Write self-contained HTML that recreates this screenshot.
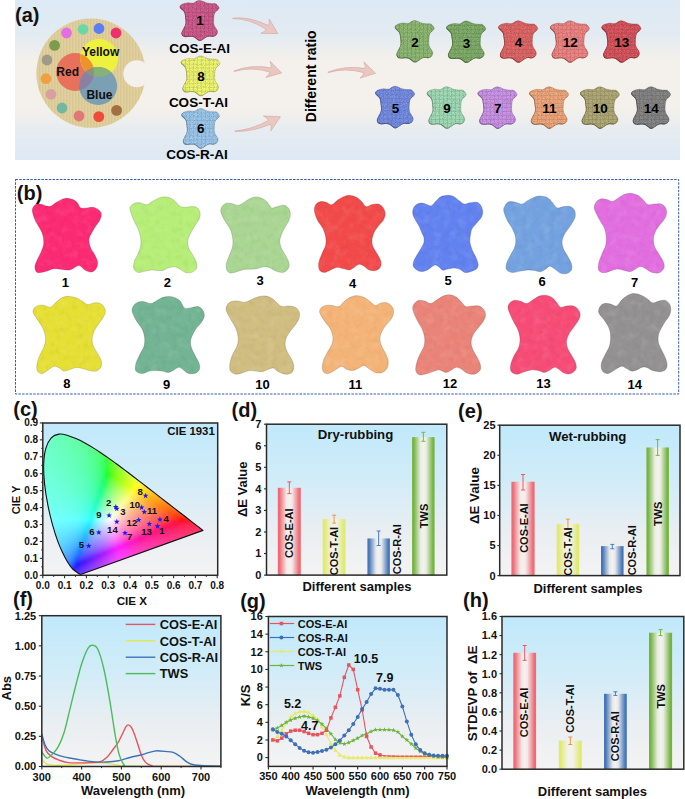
<!DOCTYPE html><html><head><meta charset="utf-8"><title>figure</title><style>html,body{margin:0;padding:0;background:#fff;width:685px;height:799px;overflow:hidden;font-family:"Liberation Sans",sans-serif}</style></head><body><svg width="685" height="799" viewBox="0 0 685 799" style="position:absolute;left:0;top:0;font-family:'Liberation Sans', sans-serif"><defs><linearGradient id="bgA" x1="0" y1="0" x2="0" y2="1">
<stop offset="0" stop-color="#dde9f4"/><stop offset="0.22" stop-color="#e3ebf2"/><stop offset="0.38" stop-color="#f4f0eb"/>
<stop offset="0.68" stop-color="#f4f0eb"/><stop offset="0.82" stop-color="#e6ecf1"/><stop offset="1" stop-color="#dde9f4"/></linearGradient><mask id="palMask"><rect x="0" y="0" width="200" height="200" fill="#fff"/><circle cx="136.8" cy="73.8" r="13.5" fill="#000"/></mask>
<pattern id="linen" width="3" height="2" patternUnits="userSpaceOnUse"><rect width="3" height="2" fill="#ddcc98"/><rect width="1" height="2" fill="#d0bd86" opacity="0.45"/><rect x="2" width="1" height="2" fill="#e6d8aa" opacity="0.4"/><rect width="3" height="0.8" fill="#e2d3a2" opacity="0.4"/></pattern><clipPath id="cR"><circle cx="75.1" cy="72" r="18.9"/></clipPath><clipPath id="cY"><circle cx="99.1" cy="58" r="19"/></clipPath><path id="icon" d="M19.80 0.00C20.90 0.08 22.40 0.78 23.50 1.20C24.60 1.62 25.07 2.15 26.40 2.50C27.73 2.85 29.92 3.12 31.50 3.30C33.08 3.48 34.68 3.00 35.90 3.60C37.12 4.20 38.38 5.98 38.80 6.90C39.22 7.82 39.07 8.13 38.40 9.10C37.73 10.07 35.58 11.12 34.80 12.70C34.02 14.28 33.83 16.52 33.70 18.60C33.57 20.68 33.40 23.13 34.00 25.20C34.60 27.27 36.80 29.43 37.30 31.00C37.80 32.57 37.60 33.63 37.00 34.60C36.40 35.57 34.87 36.48 33.70 36.80C32.53 37.12 31.22 36.37 30.00 36.50C28.78 36.63 28.03 36.82 26.40 37.60C24.77 38.38 22.15 41.20 20.20 41.20C18.25 41.20 16.23 38.33 14.70 37.60C13.17 36.87 12.45 36.87 11.00 36.80C9.55 36.73 7.33 37.32 6.00 37.20C4.67 37.08 3.68 36.77 3.00 36.10C2.32 35.43 1.83 34.30 1.90 33.20C1.97 32.10 2.72 31.08 3.40 29.50C4.08 27.92 5.63 25.88 6.00 23.70C6.37 21.52 5.85 18.47 5.60 16.40C5.35 14.33 5.30 12.77 4.50 11.30C3.70 9.83 1.47 8.58 0.80 7.60C0.13 6.62 0.13 6.07 0.50 5.40C0.87 4.73 1.73 4.08 3.00 3.60C4.27 3.12 6.40 2.62 8.10 2.50C9.80 2.38 11.73 3.20 13.20 2.90C14.67 2.60 15.80 1.18 16.90 0.70C18.00 0.22 18.70 -0.08 19.80 0.00Z"/><pattern id="stitch" width="4" height="4" patternUnits="userSpaceOnUse"><rect width="0.8" height="4" fill="#000" opacity="0.09"/><rect width="4" height="0.8" fill="#000" opacity="0.09"/></pattern>
<filter id="tex" x="0" y="0" width="1" height="1"><feTurbulence type="fractalNoise" baseFrequency="1.1" numOctaves="2" seed="7" result="t"/><feColorMatrix in="t" type="matrix" values="0 0 0 0 0  0 0 0 0 0  0 0 0 0 0  1.5 0 0 0 -0.55" result="m"/><feComposite in="m" in2="SourceAlpha" operator="in"/></filter>
<filter id="texL" x="0" y="0" width="1" height="1"><feTurbulence type="fractalNoise" baseFrequency="0.9" numOctaves="2" seed="3" result="t"/><feColorMatrix in="t" type="matrix" values="0 0 0 0 1  0 0 0 0 1  0 0 0 0 1  1.4 0 0 0 -0.62" result="m"/><feComposite in="m" in2="SourceAlpha" operator="in"/></filter><path id="hide" d="M0.00 17.49C-0.20 15.60 0.34 13.30 1.11 11.79C1.88 10.28 3.26 9.12 4.63 8.41C6.00 7.70 7.77 7.44 9.35 7.54C10.92 7.64 12.50 8.55 14.08 8.99C15.66 9.43 17.25 10.71 18.81 10.15C20.37 9.59 21.87 7.05 23.43 5.60C24.99 4.15 26.20 2.38 28.16 1.45C30.12 0.52 33.05 0.06 35.20 0.00C37.35 -0.06 39.27 0.32 41.03 1.06C42.79 1.80 43.98 3.23 45.76 4.45C47.54 5.67 49.73 7.94 51.69 8.41C53.65 8.88 55.38 7.53 57.53 7.25C59.68 6.97 62.71 6.28 64.57 6.76C66.43 7.24 67.72 8.65 68.69 10.15C69.66 11.65 70.30 13.96 70.40 15.75C70.50 17.54 70.26 19.08 69.29 20.87C68.32 22.66 66.14 24.61 64.57 26.48C62.99 28.35 60.91 30.18 59.84 32.08C58.77 33.98 58.52 35.75 58.13 37.88C57.75 40.01 57.25 42.36 57.53 44.84C57.81 47.32 58.87 50.31 59.84 52.76C60.81 55.21 62.37 57.27 63.36 59.53C64.35 61.79 65.57 64.42 65.77 66.29C65.97 68.16 65.74 69.52 64.57 70.74C63.40 71.96 60.69 72.98 58.73 73.64C56.77 74.30 54.56 74.99 52.80 74.70C51.04 74.41 49.93 72.64 48.17 71.90C46.41 71.16 44.40 70.35 42.24 70.25C40.08 70.15 37.16 70.95 35.20 71.32C33.24 71.69 31.84 72.75 30.47 72.48C29.09 72.21 28.31 70.52 26.95 69.67C25.59 68.82 24.27 66.99 22.33 67.36C20.39 67.73 17.45 70.85 15.29 71.90C13.13 72.95 11.13 73.54 9.35 73.64C7.57 73.74 6.09 73.33 4.63 72.48C3.17 71.63 1.19 70.03 0.60 68.52C0.01 67.00 0.44 65.28 1.11 63.39C1.78 61.51 3.46 59.17 4.63 57.21C5.80 55.25 7.06 53.48 8.15 51.60C9.24 49.72 10.66 47.78 11.16 45.90C11.66 44.02 11.46 41.84 11.16 40.30C10.86 38.75 10.14 38.37 9.35 36.63C8.56 34.89 7.61 32.12 6.44 29.86C5.27 27.61 3.38 25.16 2.31 23.10C1.24 21.04 0.20 19.38 0.00 17.49Z"/><filter id="suedeL" x="0" y="0" width="1" height="1"><feTurbulence type="fractalNoise" baseFrequency="0.12" numOctaves="3" seed="11"/><feColorMatrix type="matrix" values="0 0 0 0 1  0 0 0 0 1  0 0 0 0 1  2.2 0 0 0 -1.0"/><feComposite in2="SourceAlpha" operator="in"/></filter><filter id="suedeD" x="0" y="0" width="1" height="1"><feTurbulence type="fractalNoise" baseFrequency="0.18" numOctaves="2" seed="23"/><feColorMatrix type="matrix" values="0 0 0 0 0  0 0 0 0 0  0 0 0 0 0  2.2 0 0 0 -1.0"/><feComposite in2="SourceAlpha" operator="in"/></filter><path id="hide1" d="M32.40 211.70C32.00 209.43 32.47 208.63 33.10 207.40C33.73 206.17 34.87 204.82 36.20 204.30C37.53 203.78 39.35 204.00 41.10 204.30C42.85 204.60 45.03 205.80 46.70 206.10C48.37 206.40 49.33 206.82 51.10 206.10C52.87 205.38 55.03 203.08 57.30 201.80C59.57 200.52 62.23 198.82 64.70 198.40C67.17 197.98 70.03 198.63 72.10 199.30C74.17 199.97 75.65 200.97 77.10 202.40C78.55 203.83 79.15 206.97 80.80 207.90C82.45 208.83 84.82 208.08 87.00 208.00C89.18 207.92 91.83 206.98 93.90 207.40C95.97 207.82 98.17 209.27 99.40 210.50C100.63 211.73 101.30 213.05 101.30 214.80C101.30 216.55 100.33 219.13 99.40 221.00C98.47 222.87 96.93 224.13 95.70 226.00C94.47 227.87 93.13 229.93 92.00 232.20C90.87 234.47 89.10 236.92 88.90 239.60C88.70 242.28 89.87 245.82 90.80 248.30C91.73 250.78 93.37 252.23 94.50 254.50C95.63 256.77 97.30 259.62 97.60 261.90C97.90 264.18 97.23 266.53 96.30 268.20C95.37 269.87 93.75 271.50 92.00 271.90C90.25 272.30 87.87 271.63 85.80 270.60C83.73 269.57 81.47 266.22 79.60 265.70C77.73 265.18 76.25 266.78 74.60 267.50C72.95 268.22 71.77 269.68 69.70 270.00C67.63 270.32 64.90 269.60 62.20 269.40C59.50 269.20 56.18 268.48 53.50 268.80C50.82 269.12 48.78 270.68 46.10 271.30C43.42 271.92 39.27 273.23 37.40 272.50C35.53 271.77 34.90 269.07 34.90 266.90C34.90 264.73 36.37 261.98 37.40 259.50C38.43 257.02 40.07 254.48 41.10 252.00C42.13 249.52 43.28 247.28 43.60 244.60C43.92 241.92 43.62 238.58 43.00 235.90C42.38 233.22 41.15 230.98 39.90 228.50C38.65 226.02 36.75 223.80 35.50 221.00C34.25 218.20 32.80 213.97 32.40 211.70Z"/><path id="hide2" d="M130.10 209.70C129.68 207.22 130.38 206.53 131.30 205.40C132.22 204.27 134.05 203.32 135.60 202.90C137.15 202.48 138.73 202.60 140.60 202.90C142.47 203.20 144.73 205.02 146.80 204.70C148.87 204.38 150.93 202.13 153.00 201.00C155.07 199.87 157.33 198.58 159.20 197.90C161.07 197.22 162.33 196.90 164.20 196.90C166.07 196.90 168.55 197.12 170.40 197.90C172.25 198.68 173.65 200.15 175.30 201.60C176.95 203.05 178.43 205.67 180.30 206.60C182.17 207.53 184.22 207.20 186.50 207.20C188.78 207.20 192.03 206.28 194.00 206.60C195.97 206.92 197.27 207.85 198.30 209.10C199.33 210.35 200.10 212.35 200.20 214.10C200.30 215.85 199.73 217.75 198.90 219.60C198.07 221.45 196.53 223.02 195.20 225.20C193.87 227.38 192.13 230.22 190.90 232.70C189.67 235.18 188.22 237.62 187.80 240.10C187.38 242.58 187.58 245.12 188.40 247.60C189.22 250.08 191.37 252.53 192.70 255.00C194.03 257.47 195.78 260.13 196.40 262.40C197.02 264.67 197.22 266.93 196.40 268.60C195.58 270.27 193.35 271.77 191.50 272.40C189.65 273.03 187.37 273.03 185.30 272.40C183.23 271.77 180.97 269.53 179.10 268.60C177.23 267.67 175.97 266.90 174.10 266.80C172.23 266.70 169.77 267.38 167.90 268.00C166.03 268.62 164.55 270.08 162.90 270.50C161.25 270.92 159.85 270.60 158.00 270.50C156.15 270.40 153.87 269.80 151.80 269.90C149.73 270.00 147.88 270.68 145.60 271.10C143.32 271.52 140.07 272.82 138.10 272.40C136.13 271.98 134.42 270.47 133.80 268.60C133.18 266.73 133.78 263.47 134.40 261.20C135.02 258.93 136.47 257.48 137.50 255.00C138.53 252.52 140.08 249.20 140.60 246.30C141.12 243.40 141.02 240.50 140.60 237.60C140.18 234.70 139.23 231.78 138.10 228.90C136.97 226.02 135.13 223.50 133.80 220.30C132.47 217.10 130.52 212.18 130.10 209.70Z"/><path id="hide3" d="M220.80 211.60C220.40 209.32 221.27 207.95 222.10 206.60C222.93 205.25 224.25 204.02 225.80 203.50C227.35 202.98 229.43 203.18 231.40 203.50C233.37 203.82 235.75 205.40 237.60 205.40C239.45 205.40 240.65 204.53 242.50 203.50C244.35 202.47 246.52 200.30 248.70 199.20C250.88 198.10 253.32 197.02 255.60 196.90C257.88 196.78 260.45 197.60 262.40 198.50C264.35 199.40 265.75 200.73 267.30 202.30C268.85 203.87 270.03 207.18 271.70 207.90C273.37 208.62 275.13 207.02 277.30 206.60C279.47 206.18 282.73 204.98 284.70 205.40C286.67 205.82 288.17 207.45 289.10 209.10C290.03 210.75 290.42 213.23 290.30 215.30C290.18 217.37 289.33 219.43 288.40 221.50C287.47 223.57 285.83 225.63 284.70 227.70C283.57 229.77 282.42 231.63 281.60 233.90C280.78 236.17 279.80 238.82 279.80 241.30C279.80 243.78 280.57 246.32 281.60 248.80C282.63 251.28 284.75 253.72 286.00 256.20C287.25 258.68 288.80 261.52 289.10 263.70C289.40 265.88 288.83 267.85 287.80 269.30C286.77 270.75 284.87 272.10 282.90 272.40C280.93 272.70 278.28 271.93 276.00 271.10C273.72 270.27 271.27 268.12 269.20 267.40C267.13 266.68 265.57 266.60 263.60 266.80C261.63 267.00 259.47 268.18 257.40 268.60C255.33 269.02 253.27 269.18 251.20 269.30C249.13 269.42 247.07 269.00 245.00 269.30C242.93 269.60 241.07 270.48 238.80 271.10C236.53 271.72 233.37 273.10 231.40 273.00C229.43 272.90 227.83 272.05 227.00 270.50C226.17 268.95 225.98 266.28 226.40 263.70C226.82 261.12 228.47 257.90 229.50 255.00C230.53 252.10 232.08 249.20 232.60 246.30C233.12 243.40 233.02 240.50 232.60 237.60C232.18 234.70 231.45 231.78 230.10 228.90C228.75 226.02 226.05 223.18 224.50 220.30C222.95 217.42 221.20 213.88 220.80 211.60Z"/><path id="hide4" d="M314.40 211.00C314.10 208.40 314.67 206.27 315.70 204.70C316.73 203.13 318.85 202.00 320.60 201.60C322.35 201.20 324.33 201.78 326.20 202.30C328.07 202.82 329.83 205.12 331.80 204.70C333.77 204.28 335.93 201.18 338.00 199.80C340.07 198.42 342.13 197.13 344.20 196.40C346.27 195.67 348.33 195.25 350.40 195.40C352.47 195.55 354.73 196.27 356.60 197.30C358.47 198.33 360.05 200.05 361.60 201.60C363.15 203.15 364.25 206.08 365.90 206.60C367.55 207.12 369.43 205.12 371.50 204.70C373.57 204.28 376.33 203.57 378.30 204.10C380.27 204.63 382.15 206.23 383.30 207.90C384.45 209.57 385.20 212.03 385.20 214.10C385.20 216.17 384.33 218.45 383.30 220.30C382.27 222.15 380.45 223.35 379.00 225.20C377.55 227.05 375.75 229.12 374.60 231.40C373.45 233.68 372.40 236.42 372.10 238.90C371.80 241.38 371.97 243.82 372.80 246.30C373.63 248.78 375.77 251.32 377.10 253.80C378.43 256.28 380.28 258.93 380.80 261.20C381.32 263.47 381.13 265.85 380.20 267.40C379.27 268.95 377.07 270.08 375.20 270.50C373.33 270.92 370.85 270.62 369.00 269.90C367.15 269.18 365.75 267.13 364.10 266.20C362.45 265.27 360.77 264.10 359.10 264.30C357.43 264.50 355.75 266.47 354.10 267.40C352.45 268.33 351.05 269.70 349.20 269.90C347.35 270.10 345.07 269.02 343.00 268.60C340.93 268.18 338.87 267.18 336.80 267.40C334.73 267.62 332.67 269.07 330.60 269.90C328.53 270.73 326.27 272.40 324.40 272.40C322.53 272.40 320.33 271.57 319.40 269.90C318.47 268.23 318.38 265.08 318.80 262.40C319.22 259.72 320.77 256.68 321.90 253.80C323.03 250.92 324.98 248.00 325.60 245.10C326.22 242.20 326.12 239.30 325.60 236.40C325.08 233.50 323.85 230.38 322.50 227.70C321.15 225.02 318.85 223.08 317.50 220.30C316.15 217.52 314.70 213.60 314.40 211.00Z"/><path id="hide5" d="M412.70 213.40C412.50 211.45 413.03 209.07 413.80 207.50C414.57 205.93 415.93 204.73 417.30 204.00C418.67 203.27 420.43 203.00 422.00 203.10C423.57 203.20 425.13 204.15 426.70 204.60C428.27 205.05 429.85 206.38 431.40 205.80C432.95 205.22 434.45 202.60 436.00 201.10C437.55 199.60 438.75 197.77 440.70 196.80C442.65 195.83 445.57 195.37 447.70 195.30C449.83 195.23 451.75 195.63 453.50 196.40C455.25 197.17 456.43 198.63 458.20 199.90C459.97 201.17 462.15 203.52 464.10 204.00C466.05 204.48 467.77 203.08 469.90 202.80C472.03 202.52 475.05 201.80 476.90 202.30C478.75 202.80 480.03 204.25 481.00 205.80C481.97 207.35 482.60 209.75 482.70 211.60C482.80 213.45 482.57 215.05 481.60 216.90C480.63 218.75 478.47 220.77 476.90 222.70C475.33 224.63 473.27 226.53 472.20 228.50C471.13 230.47 470.88 232.30 470.50 234.50C470.12 236.70 469.62 239.13 469.90 241.70C470.18 244.27 471.23 247.37 472.20 249.90C473.17 252.43 474.72 254.57 475.70 256.90C476.68 259.23 477.90 261.97 478.10 263.90C478.30 265.83 478.07 267.23 476.90 268.50C475.73 269.77 473.05 270.82 471.10 271.50C469.15 272.18 466.95 272.90 465.20 272.60C463.45 272.30 462.35 270.47 460.60 269.70C458.85 268.93 456.85 268.10 454.70 268.00C452.55 267.90 449.65 268.72 447.70 269.10C445.75 269.48 444.37 270.58 443.00 270.30C441.63 270.02 440.85 268.28 439.50 267.40C438.15 266.52 436.83 264.62 434.90 265.00C432.97 265.38 430.05 268.62 427.90 269.70C425.75 270.78 423.77 271.40 422.00 271.50C420.23 271.60 418.75 271.18 417.30 270.30C415.85 269.42 413.88 267.77 413.30 266.20C412.72 264.63 413.13 262.85 413.80 260.90C414.47 258.95 416.13 256.53 417.30 254.50C418.47 252.47 419.72 250.65 420.80 248.70C421.88 246.75 423.30 244.75 423.80 242.80C424.30 240.85 424.10 238.60 423.80 237.00C423.50 235.40 422.78 235.00 422.00 233.20C421.22 231.40 420.27 228.53 419.10 226.20C417.93 223.87 416.07 221.33 415.00 219.20C413.93 217.07 412.90 215.35 412.70 213.40Z"/><path id="hide6" d="M503.80 211.00C503.40 208.42 504.17 206.97 505.10 205.40C506.03 203.83 507.65 202.12 509.40 201.60C511.15 201.08 513.53 201.88 515.60 202.30C517.67 202.72 519.73 204.42 521.80 204.10C523.87 203.78 525.93 201.53 528.00 200.40C530.07 199.27 532.13 198.02 534.20 197.30C536.27 196.58 538.12 196.00 540.40 196.10C542.68 196.20 545.83 196.77 547.90 197.90C549.97 199.03 551.25 201.23 552.80 202.90C554.35 204.57 555.33 207.28 557.20 207.90C559.07 208.52 561.83 206.82 564.00 206.60C566.17 206.38 568.45 205.98 570.20 206.60C571.95 207.22 573.67 208.65 574.50 210.30C575.33 211.95 575.50 214.53 575.20 216.50C574.90 218.47 573.73 220.23 572.70 222.10C571.67 223.97 570.35 225.73 569.00 227.70C567.65 229.67 565.75 231.63 564.60 233.90C563.45 236.17 562.30 238.82 562.10 241.30C561.90 243.78 562.47 246.32 563.40 248.80C564.33 251.28 566.37 253.72 567.70 256.20C569.03 258.68 570.78 261.42 571.40 263.70C572.02 265.98 572.22 268.25 571.40 269.90C570.58 271.55 568.35 273.08 566.50 273.60C564.65 274.12 562.37 273.83 560.30 273.00C558.23 272.17 555.87 269.73 554.10 268.60C552.33 267.47 551.15 266.08 549.70 266.20C548.25 266.32 546.95 268.38 545.40 269.30C543.85 270.22 542.27 271.50 540.40 271.70C538.53 271.90 536.27 270.80 534.20 270.50C532.13 270.20 530.27 269.80 528.00 269.90C525.73 270.00 523.28 270.68 520.60 271.10C517.92 271.52 514.28 272.70 511.90 272.40C509.52 272.10 507.13 270.97 506.30 269.30C505.47 267.63 506.18 264.78 506.90 262.40C507.62 260.02 509.25 257.68 510.60 255.00C511.95 252.32 514.17 249.20 515.00 246.30C515.83 243.40 516.02 240.50 515.60 237.60C515.18 234.70 513.85 231.68 512.50 228.90C511.15 226.12 508.95 223.88 507.50 220.90C506.05 217.92 504.20 213.58 503.80 211.00Z"/><path id="hide7" d="M594.40 209.00C593.78 206.20 594.67 204.37 595.70 202.70C596.73 201.03 598.73 199.52 600.60 199.00C602.47 198.48 604.93 199.18 606.90 199.60C608.87 200.02 610.33 201.90 612.40 201.50C614.47 201.10 617.12 198.43 619.30 197.20C621.48 195.97 623.43 194.73 625.50 194.10C627.57 193.47 629.63 193.20 631.70 193.40C633.77 193.60 636.05 194.27 637.90 195.30C639.75 196.33 641.15 198.05 642.80 199.60C644.45 201.15 645.93 203.87 647.80 204.60C649.67 205.33 651.73 204.10 654.00 204.00C656.27 203.90 659.43 203.28 661.40 204.00C663.37 204.72 664.97 206.55 665.80 208.30C666.63 210.05 666.82 212.43 666.40 214.50C665.98 216.57 664.53 218.83 663.30 220.70C662.07 222.57 660.35 223.83 659.00 225.70C657.65 227.57 656.13 229.63 655.20 231.90C654.27 234.17 653.50 236.82 653.40 239.30C653.30 241.78 653.67 244.32 654.60 246.80C655.53 249.28 657.55 251.72 659.00 254.20C660.45 256.68 662.48 259.42 663.30 261.70C664.12 263.98 664.62 266.05 663.90 267.90C663.18 269.75 661.07 272.08 659.00 272.80C656.93 273.52 653.78 272.92 651.50 272.20C649.22 271.48 647.17 269.43 645.30 268.50C643.43 267.57 641.95 266.50 640.30 266.60C638.65 266.70 637.05 268.27 635.40 269.10C633.75 269.93 632.27 271.38 630.40 271.60C628.53 271.82 626.27 270.82 624.20 270.40C622.13 269.98 620.07 269.10 618.00 269.10C615.93 269.10 614.07 269.78 611.80 270.40C609.53 271.02 606.57 272.80 604.40 272.80C602.23 272.80 599.73 272.05 598.80 270.40C597.87 268.75 598.28 265.60 598.80 262.90C599.32 260.20 600.77 257.08 601.90 254.20C603.03 251.32 604.88 248.48 605.60 245.60C606.32 242.72 606.40 239.80 606.20 236.90C606.00 234.00 605.53 231.10 604.40 228.20C603.27 225.30 601.07 222.70 599.40 219.50C597.73 216.30 595.02 211.80 594.40 209.00Z"/><path id="hide8" d="M33.20 312.80C32.47 310.53 33.47 309.13 34.40 307.90C35.33 306.67 37.13 305.82 38.80 305.40C40.47 304.98 42.43 305.10 44.40 305.40C46.37 305.70 48.53 307.83 50.60 307.20C52.67 306.57 54.73 303.25 56.80 301.60C58.87 299.95 60.93 298.17 63.00 297.30C65.07 296.43 66.93 296.30 69.20 296.40C71.47 296.50 74.33 297.03 76.60 297.90C78.87 298.77 80.93 300.47 82.80 301.60C84.67 302.73 85.93 304.48 87.80 304.70C89.67 304.92 91.93 303.10 94.00 302.90C96.07 302.70 98.45 302.67 100.20 303.50C101.95 304.33 103.67 306.35 104.50 307.90C105.33 309.45 105.60 310.95 105.20 312.80C104.80 314.65 103.35 316.93 102.10 319.00C100.85 321.07 99.05 323.13 97.70 325.20C96.35 327.27 94.93 329.12 94.00 331.40C93.07 333.68 92.20 336.42 92.10 338.90C92.00 341.38 92.47 343.82 93.40 346.30C94.33 348.78 96.37 351.32 97.70 353.80C99.03 356.28 100.88 358.93 101.40 361.20C101.92 363.47 101.72 365.75 100.80 367.40C99.88 369.05 97.87 370.58 95.90 371.10C93.93 371.62 91.18 370.92 89.00 370.50C86.82 370.08 84.87 369.12 82.80 368.60C80.73 368.08 78.67 367.28 76.60 367.40C74.53 367.52 72.47 368.68 70.40 369.30C68.33 369.92 66.05 371.32 64.20 371.10C62.35 370.88 60.95 368.82 59.30 368.00C57.65 367.18 56.17 365.88 54.30 366.20C52.43 366.52 50.17 368.67 48.10 369.90C46.03 371.13 43.67 373.40 41.90 373.60C40.13 373.80 38.33 372.55 37.50 371.10C36.67 369.65 36.58 367.38 36.90 364.90C37.22 362.42 38.27 359.08 39.40 356.20C40.53 353.32 42.67 350.48 43.70 347.60C44.73 344.72 45.60 341.80 45.60 338.90C45.60 336.00 44.83 333.10 43.70 330.20C42.57 327.30 40.55 324.40 38.80 321.50C37.05 318.60 33.93 315.07 33.20 312.80Z"/><path id="hide9" d="M132.20 311.60C131.68 309.12 132.47 307.55 133.40 306.00C134.33 304.45 136.13 303.03 137.80 302.30C139.47 301.57 141.23 301.40 143.40 301.60C145.57 301.80 148.53 303.70 150.80 303.50C153.07 303.30 154.93 301.43 157.00 300.40C159.07 299.37 161.13 297.97 163.20 297.30C165.27 296.63 167.33 296.30 169.40 296.40C171.47 296.50 173.73 297.03 175.60 297.90C177.47 298.77 179.15 299.93 180.60 301.60C182.05 303.27 182.65 306.85 184.30 307.90C185.95 308.95 188.22 308.12 190.50 307.90C192.78 307.68 195.93 306.20 198.00 306.60C200.07 307.00 201.87 308.65 202.90 310.30C203.93 311.95 204.50 314.43 204.20 316.50C203.90 318.57 202.35 320.83 201.10 322.70C199.85 324.57 198.05 325.83 196.70 327.70C195.35 329.57 194.03 331.63 193.00 333.90C191.97 336.17 190.70 338.82 190.50 341.30C190.30 343.78 190.97 346.32 191.80 348.80C192.63 351.28 194.27 353.72 195.50 356.20C196.73 358.68 198.58 361.42 199.20 363.70C199.82 365.98 200.03 368.25 199.20 369.90C198.37 371.55 196.17 373.08 194.20 373.60C192.23 374.12 189.47 373.83 187.40 373.00C185.33 372.17 183.35 369.53 181.80 368.60C180.25 367.67 179.55 367.08 178.10 367.40C176.65 367.72 174.75 369.67 173.10 370.50C171.45 371.33 170.05 372.30 168.20 372.40C166.35 372.50 164.07 371.42 162.00 371.10C159.93 370.78 157.87 370.50 155.80 370.50C153.73 370.50 151.88 370.58 149.60 371.10C147.32 371.62 144.38 373.60 142.10 373.60C139.82 373.60 136.93 372.75 135.90 371.10C134.87 369.45 135.28 366.38 135.90 363.70C136.52 361.02 138.25 357.90 139.60 355.00C140.95 352.10 143.17 349.20 144.00 346.30C144.83 343.40 144.92 340.50 144.60 337.60C144.28 334.70 143.45 331.68 142.10 328.90C140.75 326.12 138.15 323.78 136.50 320.90C134.85 318.02 132.72 314.08 132.20 311.60Z"/><path id="hide10" d="M226.20 310.30C225.68 307.92 226.57 306.15 227.40 304.70C228.23 303.25 229.53 302.22 231.20 301.60C232.87 300.98 235.13 300.88 237.40 301.00C239.67 301.12 242.32 302.60 244.80 302.30C247.28 302.00 250.02 300.13 252.30 299.20C254.58 298.27 256.23 297.22 258.50 296.70C260.77 296.18 263.63 295.80 265.90 296.10C268.17 296.40 270.23 297.37 272.10 298.50C273.97 299.63 275.45 301.55 277.10 302.90C278.75 304.25 279.93 306.08 282.00 306.60C284.07 307.12 287.12 305.78 289.50 306.00C291.88 306.22 294.65 306.77 296.30 307.90C297.95 309.03 298.98 310.95 299.40 312.80C299.82 314.65 299.52 316.93 298.80 319.00C298.08 321.07 296.55 323.13 295.10 325.20C293.65 327.27 291.55 329.33 290.10 331.40C288.65 333.47 287.23 335.32 286.40 337.60C285.57 339.88 284.90 342.62 285.10 345.10C285.30 347.58 286.45 350.02 287.60 352.50C288.75 354.98 290.97 357.72 292.00 360.00C293.03 362.28 293.80 364.13 293.80 366.20C293.80 368.27 293.33 371.07 292.00 372.40C290.67 373.73 288.08 374.32 285.80 374.20C283.52 374.08 280.38 372.73 278.30 371.70C276.22 370.67 274.95 368.40 273.30 368.00C271.65 367.60 270.25 368.68 268.40 369.30C266.55 369.92 264.27 371.40 262.20 371.70C260.13 372.00 258.07 371.30 256.00 371.10C253.93 370.90 251.87 370.28 249.80 370.50C247.73 370.72 245.88 371.78 243.60 372.40C241.32 373.02 238.28 374.42 236.10 374.20C233.92 373.98 231.53 372.85 230.50 371.10C229.47 369.35 229.58 366.38 229.90 363.70C230.22 361.02 231.15 358.10 232.40 355.00C233.65 351.90 236.47 348.20 237.40 345.10C238.33 342.00 238.32 339.30 238.00 336.40C237.68 333.50 236.75 330.60 235.50 327.70C234.25 324.80 232.05 321.90 230.50 319.00C228.95 316.10 226.72 312.68 226.20 310.30Z"/><path id="hide11" d="M319.80 312.80C319.18 310.53 320.07 309.13 321.10 307.90C322.13 306.67 324.15 305.82 326.00 305.40C327.85 304.98 330.02 305.20 332.20 305.40C334.38 305.60 337.13 307.23 339.10 306.60C341.07 305.97 342.15 303.15 344.00 301.60C345.85 300.05 348.13 298.28 350.20 297.30C352.27 296.32 354.12 295.70 356.40 295.70C358.68 295.70 361.62 296.32 363.90 297.30C366.18 298.28 368.25 300.25 370.10 301.60C371.95 302.95 373.15 305.18 375.00 305.40C376.85 305.62 379.13 303.32 381.20 302.90C383.27 302.48 385.53 302.18 387.40 302.90C389.27 303.62 391.37 305.55 392.40 307.20C393.43 308.85 393.80 310.83 393.60 312.80C393.40 314.77 392.33 317.13 391.20 319.00C390.07 320.87 388.25 322.13 386.80 324.00C385.35 325.87 383.63 327.93 382.50 330.20C381.37 332.47 380.22 335.12 380.00 337.60C379.78 340.08 380.37 342.62 381.20 345.10C382.03 347.58 383.85 350.02 385.00 352.50C386.15 354.98 387.70 357.52 388.10 360.00C388.50 362.48 388.33 365.33 387.40 367.40C386.47 369.47 384.57 371.57 382.50 372.40C380.43 373.23 377.28 373.03 375.00 372.40C372.72 371.77 370.65 369.75 368.80 368.60C366.95 367.45 365.55 365.60 363.90 365.50C362.25 365.40 360.77 367.17 358.90 368.00C357.03 368.83 354.77 370.28 352.70 370.50C350.63 370.72 348.37 370.02 346.50 369.30C344.63 368.58 343.37 366.10 341.50 366.20C339.63 366.30 337.57 368.67 335.30 369.90C333.03 371.13 329.97 373.40 327.90 373.60C325.83 373.80 323.73 372.97 322.90 371.10C322.07 369.23 322.28 365.28 322.90 362.40C323.52 359.52 325.15 356.68 326.60 353.80C328.05 350.92 330.55 347.80 331.60 345.10C332.65 342.40 333.10 340.30 332.90 337.60C332.70 334.90 331.75 331.58 330.40 328.90C329.05 326.22 326.57 324.18 324.80 321.50C323.03 318.82 320.42 315.07 319.80 312.80Z"/><path id="hide12" d="M412.80 309.70C412.28 307.00 413.17 305.65 414.10 304.10C415.03 302.55 416.65 300.92 418.40 300.40C420.15 299.88 422.53 300.48 424.60 301.00C426.67 301.52 428.73 303.70 430.80 303.50C432.87 303.30 434.93 301.03 437.00 299.80C439.07 298.57 441.13 296.93 443.20 296.10C445.27 295.27 447.33 294.70 449.40 294.80C451.47 294.90 453.73 295.67 455.60 296.70C457.47 297.73 458.93 299.35 460.60 301.00C462.27 302.65 463.73 305.77 465.60 306.60C467.47 307.43 469.53 306.10 471.80 306.00C474.07 305.90 477.13 305.28 479.20 306.00C481.27 306.72 483.17 308.55 484.20 310.30C485.23 312.05 485.72 314.43 485.40 316.50C485.08 318.57 483.65 320.63 482.30 322.70C480.95 324.77 478.85 326.83 477.30 328.90C475.75 330.97 474.03 332.82 473.00 335.10C471.97 337.38 471.10 340.12 471.10 342.60C471.10 345.08 471.97 347.52 473.00 350.00C474.03 352.48 476.07 355.02 477.30 357.50C478.53 359.98 479.98 362.73 480.40 364.90C480.82 367.07 480.83 368.95 479.80 370.50C478.77 372.05 476.37 373.78 474.20 374.20C472.03 374.62 469.07 373.93 466.80 373.00C464.53 372.07 462.47 369.53 460.60 368.60C458.73 367.67 457.25 367.08 455.60 367.40C453.95 367.72 452.35 369.67 450.70 370.50C449.05 371.33 447.57 372.50 445.70 372.40C443.83 372.30 441.37 370.12 439.50 369.90C437.63 369.68 436.57 370.48 434.50 371.10C432.43 371.72 429.58 372.98 427.10 373.60C424.62 374.22 421.47 375.22 419.60 374.80C417.73 374.38 416.42 372.95 415.90 371.10C415.38 369.25 415.88 366.38 416.50 363.70C417.12 361.02 418.35 357.90 419.60 355.00C420.85 352.10 423.17 349.20 424.00 346.30C424.83 343.40 424.92 340.50 424.60 337.60C424.28 334.70 423.33 331.78 422.10 328.90C420.87 326.02 418.75 323.50 417.20 320.30C415.65 317.10 413.32 312.40 412.80 309.70Z"/><path id="hide13" d="M508.20 309.10C507.57 306.20 508.47 304.95 509.40 303.50C510.33 302.05 512.03 300.82 513.80 300.40C515.57 299.98 517.83 300.48 520.00 301.00C522.17 301.52 524.63 303.70 526.80 303.50C528.97 303.30 530.93 301.03 533.00 299.80C535.07 298.57 537.13 296.87 539.20 296.10C541.27 295.33 543.33 295.00 545.40 295.20C547.47 295.40 549.73 296.12 551.60 297.30C553.47 298.48 555.15 300.65 556.60 302.30C558.05 303.95 558.65 306.58 560.30 307.20C561.95 307.82 564.33 306.20 566.50 306.00C568.67 305.80 571.33 305.38 573.30 306.00C575.27 306.62 577.15 308.15 578.30 309.70C579.45 311.25 580.30 313.33 580.20 315.30C580.10 317.27 578.85 319.43 577.70 321.50C576.55 323.57 574.75 325.63 573.30 327.70C571.85 329.77 570.13 331.63 569.00 333.90C567.87 336.17 566.70 338.82 566.50 341.30C566.30 343.78 566.87 346.32 567.80 348.80C568.73 351.28 570.77 353.72 572.10 356.20C573.43 358.68 575.18 361.52 575.80 363.70C576.42 365.88 576.62 367.65 575.80 369.30C574.98 370.95 572.87 372.98 570.90 373.60C568.93 374.22 566.18 373.83 564.00 373.00C561.82 372.17 559.45 369.53 557.80 368.60C556.15 367.67 555.55 367.08 554.10 367.40C552.65 367.72 550.75 369.67 549.10 370.50C547.45 371.33 546.05 372.40 544.20 372.40C542.35 372.40 540.07 370.92 538.00 370.50C535.93 370.08 534.08 369.70 531.80 369.90C529.52 370.10 526.78 370.98 524.30 371.70C521.82 372.42 519.07 374.20 516.90 374.20C514.73 374.20 512.33 373.25 511.30 371.70C510.27 370.15 510.28 367.48 510.70 364.90C511.12 362.32 512.47 359.08 513.80 356.20C515.13 353.32 517.67 350.48 518.70 347.60C519.73 344.72 520.10 341.80 520.00 338.90C519.90 336.00 519.23 333.20 518.10 330.20C516.97 327.20 514.85 324.42 513.20 320.90C511.55 317.38 508.83 312.00 508.20 309.10Z"/><path id="hide14" d="M598.80 312.80C598.08 310.52 599.17 308.15 600.10 306.60C601.03 305.05 602.65 303.92 604.40 303.50C606.15 303.08 608.53 303.68 610.60 304.10C612.67 304.52 614.93 306.72 616.80 306.00C618.67 305.28 619.93 301.60 621.80 299.80C623.67 298.00 625.93 296.23 628.00 295.20C630.07 294.17 631.93 293.57 634.20 293.60C636.47 293.63 639.33 294.47 641.60 295.40C643.87 296.33 645.93 297.95 647.80 299.20C649.67 300.45 650.93 302.60 652.80 302.90C654.67 303.20 656.93 301.42 659.00 301.00C661.07 300.58 663.45 299.88 665.20 300.40C666.95 300.92 668.57 302.45 669.50 304.10C670.43 305.75 670.90 308.23 670.80 310.30C670.70 312.37 669.83 314.63 668.90 316.50C667.97 318.37 666.43 319.63 665.20 321.50C663.97 323.37 662.63 325.43 661.50 327.70C660.37 329.97 658.92 332.62 658.40 335.10C657.88 337.58 657.88 340.12 658.40 342.60C658.92 345.08 660.37 347.52 661.50 350.00C662.63 352.48 664.27 355.02 665.20 357.50C666.13 359.98 667.10 362.83 667.10 364.90C667.10 366.97 666.45 368.77 665.20 369.90C663.95 371.03 661.67 371.60 659.60 371.70C657.53 371.80 654.97 371.22 652.80 370.50C650.63 369.78 648.47 367.92 646.60 367.40C644.73 366.88 643.25 366.98 641.60 367.40C639.95 367.82 638.35 369.28 636.70 369.90C635.05 370.52 633.37 371.32 631.70 371.10C630.03 370.88 628.35 369.42 626.70 368.60C625.05 367.78 623.65 366.08 621.80 366.20C619.95 366.32 617.88 368.07 615.60 369.30C613.32 370.53 610.28 373.30 608.10 373.60C605.92 373.90 603.63 372.75 602.50 371.10C601.37 369.45 600.88 366.38 601.30 363.70C601.72 361.02 603.65 357.90 605.00 355.00C606.35 352.10 608.47 349.20 609.40 346.30C610.33 343.40 610.60 340.50 610.60 337.60C610.60 334.70 610.43 331.78 609.40 328.90C608.37 326.02 606.17 322.98 604.40 320.30C602.63 317.62 599.52 315.08 598.80 312.80Z"/><linearGradient id="plotBg" x1="0" y1="0" x2="0" y2="1">
<stop offset="0" stop-color="#c0e9fb"/><stop offset="0.38" stop-color="#d2ecf8"/><stop offset="0.7" stop-color="#e9eef2"/><stop offset="1" stop-color="#f4f3f3"/></linearGradient><clipPath id="horseClip"><path d="M80.58 574.49C80.55 574.49 80.50 574.50 80.43 574.49C80.36 574.48 80.30 574.50 80.17 574.44C80.03 574.38 79.87 574.30 79.62 574.13C79.37 573.97 79.09 573.76 78.64 573.45C78.19 573.15 77.68 572.83 76.94 572.30C76.20 571.77 74.96 570.90 74.19 570.27C73.43 569.65 73.06 569.34 72.34 568.54C71.62 567.75 70.79 566.84 69.85 565.51C68.91 564.19 67.88 562.72 66.69 560.60C65.50 558.49 64.19 556.05 62.70 552.83C61.22 549.62 59.44 545.90 57.78 541.32C56.11 536.74 54.34 531.34 52.70 525.36C51.05 519.37 49.27 512.30 47.92 505.43C46.57 498.56 45.30 490.98 44.59 484.15C43.88 477.32 43.44 470.42 43.65 464.44C43.86 458.47 44.56 452.73 45.83 448.29C47.10 443.86 49.09 440.19 51.28 437.83C53.47 435.47 56.26 434.54 59.00 434.14C61.73 433.74 64.77 434.64 67.70 435.42C70.62 436.21 73.67 437.60 76.52 438.86C79.38 440.12 82.13 441.52 84.85 442.98C87.57 444.43 90.20 445.98 92.85 447.60C95.50 449.21 98.13 450.93 100.74 452.68C103.36 454.43 105.95 456.25 108.55 458.09C111.15 459.94 113.73 461.84 116.33 463.75C118.93 465.66 121.54 467.62 124.14 469.57C126.73 471.53 129.32 473.51 131.90 475.48C134.48 477.45 137.07 479.43 139.61 481.39C142.16 483.35 144.69 485.31 147.18 487.23C149.66 489.15 152.13 491.06 154.52 492.92C156.92 494.78 159.29 496.61 161.57 498.37C163.84 500.13 166.08 501.85 168.19 503.48C170.30 505.12 172.35 506.71 174.23 508.17C176.11 509.63 177.84 510.96 179.49 512.24C181.13 513.51 182.70 514.72 184.11 515.81C185.52 516.89 186.37 517.54 187.94 518.75C189.52 519.97 192.02 521.92 193.55 523.10C195.08 524.29 196.12 525.09 197.12 525.86C198.12 526.64 198.88 527.24 199.54 527.74C200.20 528.25 200.67 528.60 201.07 528.91C201.47 529.22 201.67 529.38 201.94 529.59C202.21 529.80 202.51 530.03 202.68 530.16C202.85 530.30 202.92 530.35 202.96 530.38Z"/></clipPath><filter id="cieBlur" x="-5%" y="-5%" width="110%" height="110%"><feGaussianBlur stdDeviation="1.6"/></filter><linearGradient id="bar_r" x1="0" y1="0" x2="1" y2="0">
<stop offset="0" stop-color="#ee6a74"/><stop offset="0.07" stop-color="#ee6a74"/><stop offset="0.22" stop-color="#f1a7ac"/><stop offset="0.38" stop-color="#f4e8e7"/><stop offset="0.5" stop-color="#f4f2f0"/><stop offset="0.62" stop-color="#f4e8e7"/><stop offset="0.78" stop-color="#f1a7ac"/><stop offset="0.93" stop-color="#ee6a74"/><stop offset="1" stop-color="#ee6a74"/></linearGradient><linearGradient id="bar_y" x1="0" y1="0" x2="1" y2="0">
<stop offset="0" stop-color="#e0ea6e"/><stop offset="0.07" stop-color="#e0ea6e"/><stop offset="0.22" stop-color="#e9eea8"/><stop offset="0.38" stop-color="#f3f1e7"/><stop offset="0.5" stop-color="#f4f2f0"/><stop offset="0.62" stop-color="#f3f1e7"/><stop offset="0.78" stop-color="#e9eea8"/><stop offset="0.93" stop-color="#e0ea6e"/><stop offset="1" stop-color="#e0ea6e"/></linearGradient><linearGradient id="bar_b" x1="0" y1="0" x2="1" y2="0">
<stop offset="0" stop-color="#4676b8"/><stop offset="0.07" stop-color="#4676b8"/><stop offset="0.22" stop-color="#94aed1"/><stop offset="0.38" stop-color="#e8e9ec"/><stop offset="0.5" stop-color="#f4f2f0"/><stop offset="0.62" stop-color="#e8e9ec"/><stop offset="0.78" stop-color="#94aed1"/><stop offset="0.93" stop-color="#4676b8"/><stop offset="1" stop-color="#4676b8"/></linearGradient><linearGradient id="bar_g" x1="0" y1="0" x2="1" y2="0">
<stop offset="0" stop-color="#74b440"/><stop offset="0.07" stop-color="#74b440"/><stop offset="0.22" stop-color="#aed08f"/><stop offset="0.38" stop-color="#ebeee4"/><stop offset="0.5" stop-color="#f4f2f0"/><stop offset="0.62" stop-color="#ebeee4"/><stop offset="0.78" stop-color="#aed08f"/><stop offset="0.93" stop-color="#74b440"/><stop offset="1" stop-color="#74b440"/></linearGradient><clipPath id="fclip"><rect x="41.8" y="615.7" width="179.10000000000002" height="150.79999999999995"/></clipPath></defs><rect x="15" y="0" width="665" height="160" fill="url(#bgA)"/><text x="15.00" y="21.60" font-size="20" font-weight="bold" text-anchor="start" fill="#111" >(a)</text><circle cx="91" cy="73.2" r="54.6" fill="url(#linen)" mask="url(#palMask)"/><circle cx="66.5" cy="33" r="5.4" fill="#e36ee3"/><circle cx="83" cy="29.3" r="5.4" fill="#6ad8a6"/><circle cx="99" cy="28.5" r="5.4" fill="#5b7ef2"/><circle cx="116" cy="33" r="5.4" fill="#f0306e"/><circle cx="54.6" cy="45.4" r="5.4" fill="#7c9c4c"/><circle cx="47" cy="60" r="5.4" fill="#a09a88"/><circle cx="46" cy="78.7" r="5.4" fill="#f0a040"/><circle cx="51" cy="94.3" r="5.4" fill="#d8a0a0"/><circle cx="62" cy="108" r="5.4" fill="#70b8a0"/><circle cx="79" cy="116" r="5.4" fill="#e07878"/><circle cx="98.8" cy="116.6" r="5.4" fill="#f04a3a"/><circle cx="116.6" cy="110.4" r="5.4" fill="#a07040"/><circle cx="75.1" cy="72" r="18.9" fill="#e8715b"/><circle cx="99.1" cy="58" r="19" fill="#eef23e"/><circle cx="98.1" cy="86" r="19" fill="#7b9fb3"/><g clip-path="url(#cR)"><circle cx="99.1" cy="58" r="19" fill="#ef922e"/><circle cx="98.1" cy="86" r="19" fill="#8a80a2"/></g><g clip-path="url(#cY)"><circle cx="98.1" cy="86" r="19" fill="#88b07a"/><g clip-path="url(#cR)"><circle cx="98.1" cy="86" r="19" fill="#8a9478"/></g></g><text x="100.60" y="56.20" font-size="12" font-weight="bold" text-anchor="middle" fill="#111" >Yellow</text><text x="67.70" y="75.80" font-size="12" font-weight="bold" text-anchor="middle" fill="#111" >Red</text><text x="99.40" y="99.20" font-size="12" font-weight="bold" text-anchor="middle" fill="#111" >Blue</text><g transform="translate(180.00,0.40) scale(1.000,0.973)"><use href="#icon" fill="#7e3454" transform="translate(-0.5,0.6)"/><use href="#icon" fill="#d2578c" stroke="#7e3454" stroke-width="0.5" stroke-opacity="0.7"/><use href="#icon" fill="#000" filter="url(#tex)" opacity="0.24"/><use href="#icon" fill="#fff" filter="url(#texL)" opacity="0.3"/><use href="#icon" fill="url(#stitch)"/></g><text x="199.89" y="25.10" font-size="13.5" font-weight="bold" text-anchor="middle" fill="#000" >1</text><g transform="translate(181.00,56.00) scale(1.000,0.964)"><use href="#icon" fill="#919642" transform="translate(-0.5,0.6)"/><use href="#icon" fill="#f2fa6e" stroke="#919642" stroke-width="0.5" stroke-opacity="0.7"/><use href="#icon" fill="#000" filter="url(#tex)" opacity="0.24"/><use href="#icon" fill="#fff" filter="url(#texL)" opacity="0.3"/><use href="#icon" fill="url(#stitch)"/></g><text x="200.89" y="80.50" font-size="13.5" font-weight="bold" text-anchor="middle" fill="#000" >8</text><g transform="translate(181.50,108.50) scale(0.974,0.964)"><use href="#icon" fill="#5d7990" transform="translate(-0.5,0.6)"/><use href="#icon" fill="#9ccaf0" stroke="#5d7990" stroke-width="0.5" stroke-opacity="0.7"/><use href="#icon" fill="#000" filter="url(#tex)" opacity="0.24"/><use href="#icon" fill="#fff" filter="url(#texL)" opacity="0.3"/><use href="#icon" fill="url(#stitch)"/></g><text x="200.88" y="133.00" font-size="13.5" font-weight="bold" text-anchor="middle" fill="#000" >6</text><text x="199.70" y="52.60" font-size="13.5" font-weight="bold" text-anchor="middle" fill="#000" >COS-E-AI</text><text x="198.50" y="107.30" font-size="13.5" font-weight="bold" text-anchor="middle" fill="#000" >COS-T-AI</text><text x="197.00" y="159.40" font-size="13.5" font-weight="bold" text-anchor="middle" fill="#000" >COS-R-AI</text><g transform="translate(395.00,20.50) scale(1.005,1.007)"><use href="#icon" fill="#4f6c3d" transform="translate(-0.5,0.6)"/><use href="#icon" fill="#8db971" stroke="#4f6c3d" stroke-width="0.5" stroke-opacity="0.7"/><use href="#icon" fill="#000" filter="url(#tex)" opacity="0.24"/><use href="#icon" fill="#fff" filter="url(#texL)" opacity="0.3"/><use href="#icon" fill="url(#stitch)"/></g><text x="414.99" y="47.00" font-size="13.5" font-weight="bold" text-anchor="middle" fill="#000" >2</text><g transform="translate(446.50,21.00) scale(1.005,1.007)"><use href="#icon" fill="#456436" transform="translate(-0.5,0.6)"/><use href="#icon" fill="#7eae66" stroke="#456436" stroke-width="0.5" stroke-opacity="0.7"/><use href="#icon" fill="#000" filter="url(#tex)" opacity="0.24"/><use href="#icon" fill="#fff" filter="url(#texL)" opacity="0.3"/><use href="#icon" fill="url(#stitch)"/></g><text x="466.49" y="47.50" font-size="13.5" font-weight="bold" text-anchor="middle" fill="#000" >3</text><g transform="translate(498.50,20.70) scale(1.005,1.007)"><use href="#icon" fill="#873434" transform="translate(-0.5,0.6)"/><use href="#icon" fill="#e46464" stroke="#873434" stroke-width="0.5" stroke-opacity="0.7"/><use href="#icon" fill="#000" filter="url(#tex)" opacity="0.24"/><use href="#icon" fill="#fff" filter="url(#texL)" opacity="0.3"/><use href="#icon" fill="url(#stitch)"/></g><text x="518.49" y="47.20" font-size="13.5" font-weight="bold" text-anchor="middle" fill="#000" >4</text><g transform="translate(550.20,20.70) scale(1.005,1.007)"><use href="#icon" fill="#914948" transform="translate(-0.5,0.6)"/><use href="#icon" fill="#f38381" stroke="#914948" stroke-width="0.5" stroke-opacity="0.7"/><use href="#icon" fill="#000" filter="url(#tex)" opacity="0.24"/><use href="#icon" fill="#fff" filter="url(#texL)" opacity="0.3"/><use href="#icon" fill="url(#stitch)"/></g><text x="570.19" y="47.20" font-size="13.5" font-weight="bold" text-anchor="middle" fill="#000" >12</text><g transform="translate(601.70,20.70) scale(1.005,1.007)"><use href="#icon" fill="#82282e" transform="translate(-0.5,0.6)"/><use href="#icon" fill="#dc515a" stroke="#82282e" stroke-width="0.5" stroke-opacity="0.7"/><use href="#icon" fill="#000" filter="url(#tex)" opacity="0.24"/><use href="#icon" fill="#fff" filter="url(#texL)" opacity="0.3"/><use href="#icon" fill="url(#stitch)"/></g><text x="621.69" y="47.20" font-size="13.5" font-weight="bold" text-anchor="middle" fill="#000" >13</text><g transform="translate(375.40,86.30) scale(1.005,1.007)"><use href="#icon" fill="#3f4f88" transform="translate(-0.5,0.6)"/><use href="#icon" fill="#748de6" stroke="#3f4f88" stroke-width="0.5" stroke-opacity="0.7"/><use href="#icon" fill="#000" filter="url(#tex)" opacity="0.24"/><use href="#icon" fill="#fff" filter="url(#texL)" opacity="0.3"/><use href="#icon" fill="url(#stitch)"/></g><text x="395.39" y="112.80" font-size="13.5" font-weight="bold" text-anchor="middle" fill="#000" >5</text><g transform="translate(427.00,86.70) scale(1.005,1.007)"><use href="#icon" fill="#5c846a" transform="translate(-0.5,0.6)"/><use href="#icon" fill="#a1deb7" stroke="#5c846a" stroke-width="0.5" stroke-opacity="0.7"/><use href="#icon" fill="#000" filter="url(#tex)" opacity="0.24"/><use href="#icon" fill="#fff" filter="url(#texL)" opacity="0.3"/><use href="#icon" fill="url(#stitch)"/></g><text x="446.99" y="113.20" font-size="13.5" font-weight="bold" text-anchor="middle" fill="#000" >9</text><g transform="translate(477.80,86.80) scale(1.005,1.007)"><use href="#icon" fill="#78528b" transform="translate(-0.5,0.6)"/><use href="#icon" fill="#cd92ea" stroke="#78528b" stroke-width="0.5" stroke-opacity="0.7"/><use href="#icon" fill="#000" filter="url(#tex)" opacity="0.24"/><use href="#icon" fill="#fff" filter="url(#texL)" opacity="0.3"/><use href="#icon" fill="url(#stitch)"/></g><text x="497.79" y="113.30" font-size="13.5" font-weight="bold" text-anchor="middle" fill="#000" >7</text><g transform="translate(529.40,86.80) scale(1.005,1.007)"><use href="#icon" fill="#916043" transform="translate(-0.5,0.6)"/><use href="#icon" fill="#f3a77a" stroke="#916043" stroke-width="0.5" stroke-opacity="0.7"/><use href="#icon" fill="#000" filter="url(#tex)" opacity="0.24"/><use href="#icon" fill="#fff" filter="url(#texL)" opacity="0.3"/><use href="#icon" fill="url(#stitch)"/></g><text x="549.39" y="113.30" font-size="13.5" font-weight="bold" text-anchor="middle" fill="#000" >11</text><g transform="translate(580.20,86.80) scale(1.005,1.007)"><use href="#icon" fill="#66613e" transform="translate(-0.5,0.6)"/><use href="#icon" fill="#b0a973" stroke="#66613e" stroke-width="0.5" stroke-opacity="0.7"/><use href="#icon" fill="#000" filter="url(#tex)" opacity="0.24"/><use href="#icon" fill="#fff" filter="url(#texL)" opacity="0.3"/><use href="#icon" fill="url(#stitch)"/></g><text x="600.19" y="113.30" font-size="13.5" font-weight="bold" text-anchor="middle" fill="#000" >10</text><g transform="translate(631.30,86.80) scale(1.005,1.007)"><use href="#icon" fill="#494949" transform="translate(-0.5,0.6)"/><use href="#icon" fill="#838383" stroke="#494949" stroke-width="0.5" stroke-opacity="0.7"/><use href="#icon" fill="#000" filter="url(#tex)" opacity="0.24"/><use href="#icon" fill="#fff" filter="url(#texL)" opacity="0.3"/><use href="#icon" fill="url(#stitch)"/></g><text x="651.29" y="113.30" font-size="13.5" font-weight="bold" text-anchor="middle" fill="#000" >14</text><path d="M232.95 18.04Q250.58 16.50 268.25 25.58Q269.91 23.69 269.17 18.96L277.86 33.54L260.89 33.35Q265.36 31.61 266.15 29.22Q249.42 18.50 232.65 18.56Z" fill="#eac7c1" stroke="#d6aba3" stroke-width="0.7" stroke-linejoin="round"/><path d="M234.18 70.91Q252.29 64.08 270.93 67.97Q272.04 65.71 270.08 61.34L281.62 72.93L265.89 77.40Q269.73 74.54 269.87 72.03Q251.71 66.32 234.02 71.49Z" fill="#eac7c1" stroke="#d6aba3" stroke-width="0.7" stroke-linejoin="round"/><path d="M234.87 131.03Q252.48 129.47 268.46 120.42Q267.81 117.99 263.45 115.99L280.49 116.75L270.88 130.84Q271.89 126.16 270.34 124.18Q253.52 131.53 235.13 131.57Z" fill="#eac7c1" stroke="#d6aba3" stroke-width="0.7" stroke-linejoin="round"/><path d="M328.17 72.01Q346.27 65.08 364.89 68.56Q365.95 66.28 363.90 61.95L375.49 73.25L360.04 78.09Q363.82 75.16 363.91 72.64Q345.73 67.32 328.03 72.59Z" fill="#eac7c1" stroke="#d6aba3" stroke-width="0.7" stroke-linejoin="round"/><text transform="translate(310.50,76.30) rotate(-90)" x="0" y="5.01" font-size="14" font-weight="bold" text-anchor="middle" fill="#000">Different ratio</text><rect x="15.5" y="179.5" width="663.2" height="214.5" fill="none" stroke="#3b5ba2" stroke-width="1" stroke-dasharray="2.5 1.2"/><text x="16.80" y="200.10" font-size="20" font-weight="bold" text-anchor="start" fill="#111" >(b)</text><use href="#hide1"  fill="#fc2a72" stroke="#7e1539" stroke-width="0.6" stroke-opacity="0.45"/><use href="#hide1"  fill="#fff" filter="url(#suedeL)" opacity="0.10"/><use href="#hide1"  fill="#000" filter="url(#suedeD)" opacity="0.035"/><text x="65.40" y="287.30" font-size="13" font-weight="bold" text-anchor="middle" fill="#000" >1</text><use href="#hide2"  fill="#b6ee78" stroke="#5b773c" stroke-width="0.6" stroke-opacity="0.45"/><use href="#hide2"  fill="#fff" filter="url(#suedeL)" opacity="0.10"/><use href="#hide2"  fill="#000" filter="url(#suedeD)" opacity="0.035"/><text x="167.30" y="286.90" font-size="13" font-weight="bold" text-anchor="middle" fill="#000" >2</text><use href="#hide3"  fill="#a9d692" stroke="#546b49" stroke-width="0.6" stroke-opacity="0.45"/><use href="#hide3"  fill="#fff" filter="url(#suedeL)" opacity="0.10"/><use href="#hide3"  fill="#000" filter="url(#suedeD)" opacity="0.035"/><text x="260.20" y="285.10" font-size="13" font-weight="bold" text-anchor="middle" fill="#000" >3</text><use href="#hide4"  fill="#f24a4a" stroke="#792525" stroke-width="0.6" stroke-opacity="0.45"/><use href="#hide4"  fill="#fff" filter="url(#suedeL)" opacity="0.10"/><use href="#hide4"  fill="#000" filter="url(#suedeD)" opacity="0.035"/><text x="352.60" y="287.60" font-size="13" font-weight="bold" text-anchor="middle" fill="#000" >4</text><use href="#hide5"  fill="#6282f0" stroke="#314178" stroke-width="0.6" stroke-opacity="0.45"/><use href="#hide5"  fill="#fff" filter="url(#suedeL)" opacity="0.10"/><use href="#hide5"  fill="#000" filter="url(#suedeD)" opacity="0.035"/><text x="448.20" y="285.10" font-size="13" font-weight="bold" text-anchor="middle" fill="#000" >5</text><use href="#hide6"  fill="#74a2e0" stroke="#3a5170" stroke-width="0.6" stroke-opacity="0.45"/><use href="#hide6"  fill="#fff" filter="url(#suedeL)" opacity="0.10"/><use href="#hide6"  fill="#000" filter="url(#suedeD)" opacity="0.035"/><text x="542.00" y="286.30" font-size="13" font-weight="bold" text-anchor="middle" fill="#000" >6</text><use href="#hide7"  fill="#e26ee0" stroke="#713770" stroke-width="0.6" stroke-opacity="0.45"/><use href="#hide7"  fill="#fff" filter="url(#suedeL)" opacity="0.10"/><use href="#hide7"  fill="#000" filter="url(#suedeD)" opacity="0.035"/><text x="634.70" y="287.20" font-size="13" font-weight="bold" text-anchor="middle" fill="#000" >7</text><use href="#hide8"  fill="#e6df34" stroke="#736f1a" stroke-width="0.6" stroke-opacity="0.45"/><use href="#hide8"  fill="#fff" filter="url(#suedeL)" opacity="0.10"/><use href="#hide8"  fill="#000" filter="url(#suedeD)" opacity="0.035"/><text x="66.90" y="388.40" font-size="13" font-weight="bold" text-anchor="middle" fill="#000" >8</text><use href="#hide9"  fill="#72b494" stroke="#395a4a" stroke-width="0.6" stroke-opacity="0.45"/><use href="#hide9"  fill="#fff" filter="url(#suedeL)" opacity="0.10"/><use href="#hide9"  fill="#000" filter="url(#suedeD)" opacity="0.035"/><text x="166.70" y="389.10" font-size="13" font-weight="bold" text-anchor="middle" fill="#000" >9</text><use href="#hide10"  fill="#d0bd80" stroke="#685e40" stroke-width="0.6" stroke-opacity="0.45"/><use href="#hide10"  fill="#fff" filter="url(#suedeL)" opacity="0.10"/><use href="#hide10"  fill="#000" filter="url(#suedeD)" opacity="0.035"/><text x="262.60" y="389.40" font-size="13" font-weight="bold" text-anchor="middle" fill="#000" >10</text><use href="#hide11"  fill="#f4b478" stroke="#7a5a3c" stroke-width="0.6" stroke-opacity="0.45"/><use href="#hide11"  fill="#fff" filter="url(#suedeL)" opacity="0.10"/><use href="#hide11"  fill="#000" filter="url(#suedeD)" opacity="0.035"/><text x="355.40" y="389.40" font-size="13" font-weight="bold" text-anchor="middle" fill="#000" >11</text><use href="#hide12"  fill="#ea8478" stroke="#75423c" stroke-width="0.6" stroke-opacity="0.45"/><use href="#hide12"  fill="#fff" filter="url(#suedeL)" opacity="0.10"/><use href="#hide12"  fill="#000" filter="url(#suedeD)" opacity="0.035"/><text x="450.00" y="387.80" font-size="13" font-weight="bold" text-anchor="middle" fill="#000" >12</text><use href="#hide13"  fill="#f64c76" stroke="#7b263b" stroke-width="0.6" stroke-opacity="0.45"/><use href="#hide13"  fill="#fff" filter="url(#suedeL)" opacity="0.10"/><use href="#hide13"  fill="#000" filter="url(#suedeD)" opacity="0.035"/><text x="543.50" y="387.80" font-size="13" font-weight="bold" text-anchor="middle" fill="#000" >13</text><use href="#hide14"  fill="#939191" stroke="#494848" stroke-width="0.6" stroke-opacity="0.45"/><use href="#hide14"  fill="#fff" filter="url(#suedeL)" opacity="0.10"/><use href="#hide14"  fill="#000" filter="url(#suedeD)" opacity="0.035"/><text x="634.70" y="388.60" font-size="13" font-weight="bold" text-anchor="middle" fill="#000" >14</text><text x="13.30" y="416.10" font-size="20" font-weight="bold" text-anchor="start" fill="#111" >(c)</text><rect x="42.80" y="423.00" width="174.90" height="152.30" fill="url(#plotBg)"/><g clip-path="url(#horseClip)"><g filter="url(#cieBlur)"><rect x="39.8" y="431.0" width="3.3" height="3.3" fill="#6effc3"/><rect x="42.8" y="431.0" width="3.3" height="3.3" fill="#6effc2"/><rect x="45.8" y="431.0" width="3.3" height="3.3" fill="#6dffc0"/><rect x="48.8" y="431.0" width="3.3" height="3.3" fill="#6cffbe"/><rect x="51.8" y="431.0" width="3.3" height="3.3" fill="#6cffbc"/><rect x="54.8" y="431.0" width="3.3" height="3.3" fill="#6bffba"/><rect x="57.8" y="431.0" width="3.3" height="3.3" fill="#6affb7"/><rect x="60.8" y="431.0" width="3.3" height="3.3" fill="#69ffb5"/><rect x="63.8" y="431.0" width="3.3" height="3.3" fill="#68ffb2"/><rect x="66.8" y="431.0" width="3.3" height="3.3" fill="#67ffaf"/><rect x="69.8" y="431.0" width="3.3" height="3.3" fill="#65ffab"/><rect x="72.8" y="431.0" width="3.3" height="3.3" fill="#64ffa8"/><rect x="75.8" y="431.0" width="3.3" height="3.3" fill="#63ffa3"/><rect x="78.8" y="431.0" width="3.3" height="3.3" fill="#61ff9f"/><rect x="81.8" y="431.0" width="3.3" height="3.3" fill="#5fff9a"/><rect x="84.8" y="431.0" width="3.3" height="3.3" fill="#5eff94"/><rect x="87.8" y="431.0" width="3.3" height="3.3" fill="#5cff8e"/><rect x="90.8" y="431.0" width="3.3" height="3.3" fill="#59ff86"/><rect x="93.8" y="431.0" width="3.3" height="3.3" fill="#57ff7e"/><rect x="96.8" y="431.0" width="3.3" height="3.3" fill="#54ff73"/><rect x="99.8" y="431.0" width="3.3" height="3.3" fill="#50ff66"/><rect x="102.8" y="431.0" width="3.3" height="3.3" fill="#4cff55"/><rect x="105.8" y="431.0" width="3.3" height="3.3" fill="#55ff4b"/><rect x="108.8" y="431.0" width="3.3" height="3.3" fill="#66ff4d"/><rect x="111.8" y="431.0" width="3.3" height="3.3" fill="#73ff4e"/><rect x="114.8" y="431.0" width="3.3" height="3.3" fill="#7fff50"/><rect x="117.8" y="431.0" width="3.3" height="3.3" fill="#8aff51"/><rect x="120.8" y="431.0" width="3.3" height="3.3" fill="#93ff52"/><rect x="123.8" y="431.0" width="3.3" height="3.3" fill="#9cff54"/><rect x="126.8" y="431.0" width="3.3" height="3.3" fill="#a4ff55"/><rect x="129.8" y="431.0" width="3.3" height="3.3" fill="#acff56"/><rect x="132.8" y="431.0" width="3.3" height="3.3" fill="#b3ff58"/><rect x="135.8" y="431.0" width="3.3" height="3.3" fill="#baff59"/><rect x="138.8" y="431.0" width="3.3" height="3.3" fill="#c0ff5a"/><rect x="141.8" y="431.0" width="3.3" height="3.3" fill="#c6ff5b"/><rect x="144.8" y="431.0" width="3.3" height="3.3" fill="#ccff5c"/><rect x="147.8" y="431.0" width="3.3" height="3.3" fill="#d1ff5e"/><rect x="150.8" y="431.0" width="3.3" height="3.3" fill="#d7ff5f"/><rect x="153.8" y="431.0" width="3.3" height="3.3" fill="#dcff60"/><rect x="156.8" y="431.0" width="3.3" height="3.3" fill="#e1ff61"/><rect x="159.8" y="431.0" width="3.3" height="3.3" fill="#e6ff62"/><rect x="162.8" y="431.0" width="3.3" height="3.3" fill="#eaff63"/><rect x="165.8" y="431.0" width="3.3" height="3.3" fill="#efff64"/><rect x="168.8" y="431.0" width="3.3" height="3.3" fill="#f3ff65"/><rect x="171.8" y="431.0" width="3.3" height="3.3" fill="#f8ff66"/><rect x="174.8" y="431.0" width="3.3" height="3.3" fill="#fcff67"/><rect x="177.8" y="431.0" width="3.3" height="3.3" fill="#fffe67"/><rect x="180.8" y="431.0" width="3.3" height="3.3" fill="#fffb67"/><rect x="183.8" y="431.0" width="3.3" height="3.3" fill="#fff766"/><rect x="186.8" y="431.0" width="3.3" height="3.3" fill="#fff365"/><rect x="189.8" y="431.0" width="3.3" height="3.3" fill="#fff065"/><rect x="192.8" y="431.0" width="3.3" height="3.3" fill="#ffed64"/><rect x="195.8" y="431.0" width="3.3" height="3.3" fill="#ffea63"/><rect x="198.8" y="431.0" width="3.3" height="3.3" fill="#ffe763"/><rect x="201.8" y="431.0" width="3.3" height="3.3" fill="#ffe462"/><rect x="204.8" y="431.0" width="3.3" height="3.3" fill="#ffe262"/><rect x="207.8" y="431.0" width="3.3" height="3.3" fill="#ffdf61"/><rect x="39.8" y="434.0" width="3.3" height="3.3" fill="#6effc4"/><rect x="42.8" y="434.0" width="3.3" height="3.3" fill="#6effc3"/><rect x="45.8" y="434.0" width="3.3" height="3.3" fill="#6dffc2"/><rect x="48.8" y="434.0" width="3.3" height="3.3" fill="#6dffc0"/><rect x="51.8" y="434.0" width="3.3" height="3.3" fill="#6cffbd"/><rect x="54.8" y="434.0" width="3.3" height="3.3" fill="#6bffbb"/><rect x="57.8" y="434.0" width="3.3" height="3.3" fill="#6affb9"/><rect x="60.8" y="434.0" width="3.3" height="3.3" fill="#69ffb6"/><rect x="63.8" y="434.0" width="3.3" height="3.3" fill="#68ffb3"/><rect x="66.8" y="434.0" width="3.3" height="3.3" fill="#67ffb0"/><rect x="69.8" y="434.0" width="3.3" height="3.3" fill="#66ffad"/><rect x="72.8" y="434.0" width="3.3" height="3.3" fill="#64ffa9"/><rect x="75.8" y="434.0" width="3.3" height="3.3" fill="#63ffa5"/><rect x="78.8" y="434.0" width="3.3" height="3.3" fill="#61ffa0"/><rect x="81.8" y="434.0" width="3.3" height="3.3" fill="#5fff9b"/><rect x="84.8" y="434.0" width="3.3" height="3.3" fill="#5dff96"/><rect x="87.8" y="434.0" width="3.3" height="3.3" fill="#5bff8f"/><rect x="90.8" y="434.0" width="3.3" height="3.3" fill="#59ff88"/><rect x="93.8" y="434.0" width="3.3" height="3.3" fill="#56ff7f"/><rect x="96.8" y="434.0" width="3.3" height="3.3" fill="#53ff74"/><rect x="99.8" y="434.0" width="3.3" height="3.3" fill="#50ff67"/><rect x="102.8" y="434.0" width="3.3" height="3.3" fill="#4bff55"/><rect x="105.8" y="434.0" width="3.3" height="3.3" fill="#53ff4a"/><rect x="108.8" y="434.0" width="3.3" height="3.3" fill="#65ff4b"/><rect x="111.8" y="434.0" width="3.3" height="3.3" fill="#73ff4d"/><rect x="114.8" y="434.0" width="3.3" height="3.3" fill="#7fff4f"/><rect x="117.8" y="434.0" width="3.3" height="3.3" fill="#8aff50"/><rect x="120.8" y="434.0" width="3.3" height="3.3" fill="#94ff52"/><rect x="123.8" y="434.0" width="3.3" height="3.3" fill="#9dff53"/><rect x="126.8" y="434.0" width="3.3" height="3.3" fill="#a5ff54"/><rect x="129.8" y="434.0" width="3.3" height="3.3" fill="#adff56"/><rect x="132.8" y="434.0" width="3.3" height="3.3" fill="#b4ff57"/><rect x="135.8" y="434.0" width="3.3" height="3.3" fill="#bbff58"/><rect x="138.8" y="434.0" width="3.3" height="3.3" fill="#c2ff5a"/><rect x="141.8" y="434.0" width="3.3" height="3.3" fill="#c8ff5b"/><rect x="144.8" y="434.0" width="3.3" height="3.3" fill="#ceff5c"/><rect x="147.8" y="434.0" width="3.3" height="3.3" fill="#d4ff5d"/><rect x="150.8" y="434.0" width="3.3" height="3.3" fill="#d9ff5e"/><rect x="153.8" y="434.0" width="3.3" height="3.3" fill="#dfff5f"/><rect x="156.8" y="434.0" width="3.3" height="3.3" fill="#e4ff60"/><rect x="159.8" y="434.0" width="3.3" height="3.3" fill="#e8ff62"/><rect x="162.8" y="434.0" width="3.3" height="3.3" fill="#edff63"/><rect x="165.8" y="434.0" width="3.3" height="3.3" fill="#f2ff64"/><rect x="168.8" y="434.0" width="3.3" height="3.3" fill="#f6ff65"/><rect x="171.8" y="434.0" width="3.3" height="3.3" fill="#fbff66"/><rect x="174.8" y="434.0" width="3.3" height="3.3" fill="#ffff67"/><rect x="177.8" y="434.0" width="3.3" height="3.3" fill="#fffb66"/><rect x="180.8" y="434.0" width="3.3" height="3.3" fill="#fff765"/><rect x="183.8" y="434.0" width="3.3" height="3.3" fill="#fff465"/><rect x="186.8" y="434.0" width="3.3" height="3.3" fill="#fff064"/><rect x="189.8" y="434.0" width="3.3" height="3.3" fill="#ffed63"/><rect x="192.8" y="434.0" width="3.3" height="3.3" fill="#ffea63"/><rect x="195.8" y="434.0" width="3.3" height="3.3" fill="#ffe762"/><rect x="198.8" y="434.0" width="3.3" height="3.3" fill="#ffe462"/><rect x="201.8" y="434.0" width="3.3" height="3.3" fill="#ffe261"/><rect x="204.8" y="434.0" width="3.3" height="3.3" fill="#ffdf61"/><rect x="207.8" y="434.0" width="3.3" height="3.3" fill="#ffdc60"/><rect x="39.8" y="437.0" width="3.3" height="3.3" fill="#6fffc6"/><rect x="42.8" y="437.0" width="3.3" height="3.3" fill="#6effc5"/><rect x="45.8" y="437.0" width="3.3" height="3.3" fill="#6dffc3"/><rect x="48.8" y="437.0" width="3.3" height="3.3" fill="#6dffc1"/><rect x="51.8" y="437.0" width="3.3" height="3.3" fill="#6cffbf"/><rect x="54.8" y="437.0" width="3.3" height="3.3" fill="#6bffbd"/><rect x="57.8" y="437.0" width="3.3" height="3.3" fill="#6affba"/><rect x="60.8" y="437.0" width="3.3" height="3.3" fill="#69ffb8"/><rect x="63.8" y="437.0" width="3.3" height="3.3" fill="#68ffb5"/><rect x="66.8" y="437.0" width="3.3" height="3.3" fill="#67ffb2"/><rect x="69.8" y="437.0" width="3.3" height="3.3" fill="#66ffae"/><rect x="72.8" y="437.0" width="3.3" height="3.3" fill="#64ffab"/><rect x="75.8" y="437.0" width="3.3" height="3.3" fill="#63ffa6"/><rect x="78.8" y="437.0" width="3.3" height="3.3" fill="#61ffa2"/><rect x="81.8" y="437.0" width="3.3" height="3.3" fill="#5fff9d"/><rect x="84.8" y="437.0" width="3.3" height="3.3" fill="#5dff97"/><rect x="87.8" y="437.0" width="3.3" height="3.3" fill="#5bff91"/><rect x="90.8" y="437.0" width="3.3" height="3.3" fill="#59ff89"/><rect x="93.8" y="437.0" width="3.3" height="3.3" fill="#56ff80"/><rect x="96.8" y="437.0" width="3.3" height="3.3" fill="#52ff75"/><rect x="99.8" y="437.0" width="3.3" height="3.3" fill="#4fff68"/><rect x="102.8" y="437.0" width="3.3" height="3.3" fill="#4aff56"/><rect x="105.8" y="437.0" width="3.3" height="3.3" fill="#51ff48"/><rect x="108.8" y="437.0" width="3.3" height="3.3" fill="#64ff4a"/><rect x="111.8" y="437.0" width="3.3" height="3.3" fill="#73ff4c"/><rect x="114.8" y="437.0" width="3.3" height="3.3" fill="#7fff4d"/><rect x="117.8" y="437.0" width="3.3" height="3.3" fill="#8bff4f"/><rect x="120.8" y="437.0" width="3.3" height="3.3" fill="#95ff50"/><rect x="123.8" y="437.0" width="3.3" height="3.3" fill="#9eff52"/><rect x="126.8" y="437.0" width="3.3" height="3.3" fill="#a7ff53"/><rect x="129.8" y="437.0" width="3.3" height="3.3" fill="#afff55"/><rect x="132.8" y="437.0" width="3.3" height="3.3" fill="#b6ff56"/><rect x="135.8" y="437.0" width="3.3" height="3.3" fill="#bdff58"/><rect x="138.8" y="437.0" width="3.3" height="3.3" fill="#c4ff59"/><rect x="141.8" y="437.0" width="3.3" height="3.3" fill="#caff5a"/><rect x="144.8" y="437.0" width="3.3" height="3.3" fill="#d0ff5b"/><rect x="147.8" y="437.0" width="3.3" height="3.3" fill="#d6ff5d"/><rect x="150.8" y="437.0" width="3.3" height="3.3" fill="#dcff5e"/><rect x="153.8" y="437.0" width="3.3" height="3.3" fill="#e1ff5f"/><rect x="156.8" y="437.0" width="3.3" height="3.3" fill="#e6ff60"/><rect x="159.8" y="437.0" width="3.3" height="3.3" fill="#ebff61"/><rect x="162.8" y="437.0" width="3.3" height="3.3" fill="#f0ff62"/><rect x="165.8" y="437.0" width="3.3" height="3.3" fill="#f5ff63"/><rect x="168.8" y="437.0" width="3.3" height="3.3" fill="#f9ff65"/><rect x="171.8" y="437.0" width="3.3" height="3.3" fill="#feff66"/><rect x="174.8" y="437.0" width="3.3" height="3.3" fill="#fffc65"/><rect x="177.8" y="437.0" width="3.3" height="3.3" fill="#fff865"/><rect x="180.8" y="437.0" width="3.3" height="3.3" fill="#fff464"/><rect x="183.8" y="437.0" width="3.3" height="3.3" fill="#fff163"/><rect x="186.8" y="437.0" width="3.3" height="3.3" fill="#ffed63"/><rect x="189.8" y="437.0" width="3.3" height="3.3" fill="#ffea62"/><rect x="192.8" y="437.0" width="3.3" height="3.3" fill="#ffe761"/><rect x="195.8" y="437.0" width="3.3" height="3.3" fill="#ffe461"/><rect x="198.8" y="437.0" width="3.3" height="3.3" fill="#ffe160"/><rect x="201.8" y="437.0" width="3.3" height="3.3" fill="#ffdf60"/><rect x="204.8" y="437.0" width="3.3" height="3.3" fill="#ffdc60"/><rect x="207.8" y="437.0" width="3.3" height="3.3" fill="#ffda5f"/><rect x="39.8" y="440.0" width="3.3" height="3.3" fill="#6fffc7"/><rect x="42.8" y="440.0" width="3.3" height="3.3" fill="#6effc6"/><rect x="45.8" y="440.0" width="3.3" height="3.3" fill="#6effc4"/><rect x="48.8" y="440.0" width="3.3" height="3.3" fill="#6dffc2"/><rect x="51.8" y="440.0" width="3.3" height="3.3" fill="#6cffc0"/><rect x="54.8" y="440.0" width="3.3" height="3.3" fill="#6bffbe"/><rect x="57.8" y="440.0" width="3.3" height="3.3" fill="#6affbc"/><rect x="60.8" y="440.0" width="3.3" height="3.3" fill="#69ffb9"/><rect x="63.8" y="440.0" width="3.3" height="3.3" fill="#68ffb6"/><rect x="66.8" y="440.0" width="3.3" height="3.3" fill="#67ffb3"/><rect x="69.8" y="440.0" width="3.3" height="3.3" fill="#66ffb0"/><rect x="72.8" y="440.0" width="3.3" height="3.3" fill="#64ffac"/><rect x="75.8" y="440.0" width="3.3" height="3.3" fill="#63ffa8"/><rect x="78.8" y="440.0" width="3.3" height="3.3" fill="#61ffa4"/><rect x="81.8" y="440.0" width="3.3" height="3.3" fill="#5fff9e"/><rect x="84.8" y="440.0" width="3.3" height="3.3" fill="#5dff99"/><rect x="87.8" y="440.0" width="3.3" height="3.3" fill="#5bff92"/><rect x="90.8" y="440.0" width="3.3" height="3.3" fill="#58ff8a"/><rect x="93.8" y="440.0" width="3.3" height="3.3" fill="#55ff81"/><rect x="96.8" y="440.0" width="3.3" height="3.3" fill="#52ff77"/><rect x="99.8" y="440.0" width="3.3" height="3.3" fill="#4eff69"/><rect x="102.8" y="440.0" width="3.3" height="3.3" fill="#49ff56"/><rect x="105.8" y="440.0" width="3.3" height="3.3" fill="#4eff46"/><rect x="108.8" y="440.0" width="3.3" height="3.3" fill="#62ff48"/><rect x="111.8" y="440.0" width="3.3" height="3.3" fill="#72ff4a"/><rect x="114.8" y="440.0" width="3.3" height="3.3" fill="#80ff4c"/><rect x="117.8" y="440.0" width="3.3" height="3.3" fill="#8bff4e"/><rect x="120.8" y="440.0" width="3.3" height="3.3" fill="#96ff4f"/><rect x="123.8" y="440.0" width="3.3" height="3.3" fill="#9fff51"/><rect x="126.8" y="440.0" width="3.3" height="3.3" fill="#a8ff52"/><rect x="129.8" y="440.0" width="3.3" height="3.3" fill="#b0ff54"/><rect x="132.8" y="440.0" width="3.3" height="3.3" fill="#b8ff55"/><rect x="135.8" y="440.0" width="3.3" height="3.3" fill="#bfff57"/><rect x="138.8" y="440.0" width="3.3" height="3.3" fill="#c6ff58"/><rect x="141.8" y="440.0" width="3.3" height="3.3" fill="#cdff5a"/><rect x="144.8" y="440.0" width="3.3" height="3.3" fill="#d3ff5b"/><rect x="147.8" y="440.0" width="3.3" height="3.3" fill="#d9ff5c"/><rect x="150.8" y="440.0" width="3.3" height="3.3" fill="#dfff5d"/><rect x="153.8" y="440.0" width="3.3" height="3.3" fill="#e4ff5f"/><rect x="156.8" y="440.0" width="3.3" height="3.3" fill="#e9ff60"/><rect x="159.8" y="440.0" width="3.3" height="3.3" fill="#eeff61"/><rect x="162.8" y="440.0" width="3.3" height="3.3" fill="#f3ff62"/><rect x="165.8" y="440.0" width="3.3" height="3.3" fill="#f8ff63"/><rect x="168.8" y="440.0" width="3.3" height="3.3" fill="#fdff64"/><rect x="171.8" y="440.0" width="3.3" height="3.3" fill="#fffd65"/><rect x="174.8" y="440.0" width="3.3" height="3.3" fill="#fff964"/><rect x="177.8" y="440.0" width="3.3" height="3.3" fill="#fff563"/><rect x="180.8" y="440.0" width="3.3" height="3.3" fill="#fff162"/><rect x="183.8" y="440.0" width="3.3" height="3.3" fill="#ffed62"/><rect x="186.8" y="440.0" width="3.3" height="3.3" fill="#ffea61"/><rect x="189.8" y="440.0" width="3.3" height="3.3" fill="#ffe761"/><rect x="192.8" y="440.0" width="3.3" height="3.3" fill="#ffe460"/><rect x="195.8" y="440.0" width="3.3" height="3.3" fill="#ffe160"/><rect x="198.8" y="440.0" width="3.3" height="3.3" fill="#ffde5f"/><rect x="201.8" y="440.0" width="3.3" height="3.3" fill="#ffdb5f"/><rect x="204.8" y="440.0" width="3.3" height="3.3" fill="#ffd95e"/><rect x="207.8" y="440.0" width="3.3" height="3.3" fill="#ffd75e"/><rect x="39.8" y="443.0" width="6.3" height="3.3" fill="#6fffc8"/><rect x="45.8" y="443.0" width="3.3" height="3.3" fill="#6effc6"/><rect x="48.8" y="443.0" width="3.3" height="3.3" fill="#6dffc4"/><rect x="51.8" y="443.0" width="3.3" height="3.3" fill="#6cffc2"/><rect x="54.8" y="443.0" width="3.3" height="3.3" fill="#6bffc0"/><rect x="57.8" y="443.0" width="3.3" height="3.3" fill="#6affbd"/><rect x="60.8" y="443.0" width="3.3" height="3.3" fill="#69ffbb"/><rect x="63.8" y="443.0" width="3.3" height="3.3" fill="#68ffb8"/><rect x="66.8" y="443.0" width="3.3" height="3.3" fill="#67ffb5"/><rect x="69.8" y="443.0" width="3.3" height="3.3" fill="#66ffb1"/><rect x="72.8" y="443.0" width="3.3" height="3.3" fill="#64ffae"/><rect x="75.8" y="443.0" width="3.3" height="3.3" fill="#63ffaa"/><rect x="78.8" y="443.0" width="3.3" height="3.3" fill="#61ffa5"/><rect x="81.8" y="443.0" width="3.3" height="3.3" fill="#5fffa0"/><rect x="84.8" y="443.0" width="3.3" height="3.3" fill="#5dff9a"/><rect x="87.8" y="443.0" width="3.3" height="3.3" fill="#5aff94"/><rect x="90.8" y="443.0" width="3.3" height="3.3" fill="#58ff8c"/><rect x="93.8" y="443.0" width="3.3" height="3.3" fill="#55ff83"/><rect x="96.8" y="443.0" width="3.3" height="3.3" fill="#51ff78"/><rect x="99.8" y="443.0" width="3.3" height="3.3" fill="#4dff6a"/><rect x="102.8" y="443.0" width="3.3" height="3.3" fill="#48ff57"/><rect x="105.8" y="443.0" width="3.3" height="3.3" fill="#4cff44"/><rect x="108.8" y="443.0" width="3.3" height="3.3" fill="#61ff46"/><rect x="111.8" y="443.0" width="3.3" height="3.3" fill="#72ff48"/><rect x="114.8" y="443.0" width="3.3" height="3.3" fill="#80ff4a"/><rect x="117.8" y="443.0" width="3.3" height="3.3" fill="#8cff4c"/><rect x="120.8" y="443.0" width="3.3" height="3.3" fill="#97ff4e"/><rect x="123.8" y="443.0" width="3.3" height="3.3" fill="#a1ff50"/><rect x="126.8" y="443.0" width="3.3" height="3.3" fill="#aaff51"/><rect x="129.8" y="443.0" width="3.3" height="3.3" fill="#b2ff53"/><rect x="132.8" y="443.0" width="3.3" height="3.3" fill="#baff54"/><rect x="135.8" y="443.0" width="3.3" height="3.3" fill="#c2ff56"/><rect x="138.8" y="443.0" width="3.3" height="3.3" fill="#c9ff57"/><rect x="141.8" y="443.0" width="3.3" height="3.3" fill="#cfff59"/><rect x="144.8" y="443.0" width="3.3" height="3.3" fill="#d6ff5a"/><rect x="147.8" y="443.0" width="3.3" height="3.3" fill="#dcff5c"/><rect x="150.8" y="443.0" width="3.3" height="3.3" fill="#e2ff5d"/><rect x="153.8" y="443.0" width="3.3" height="3.3" fill="#e7ff5e"/><rect x="156.8" y="443.0" width="3.3" height="3.3" fill="#edff5f"/><rect x="159.8" y="443.0" width="3.3" height="3.3" fill="#f2ff61"/><rect x="162.8" y="443.0" width="3.3" height="3.3" fill="#f7ff62"/><rect x="165.8" y="443.0" width="3.3" height="3.3" fill="#fcff63"/><rect x="168.8" y="443.0" width="3.3" height="3.3" fill="#fffe64"/><rect x="171.8" y="443.0" width="3.3" height="3.3" fill="#fff963"/><rect x="174.8" y="443.0" width="3.3" height="3.3" fill="#fff562"/><rect x="177.8" y="443.0" width="3.3" height="3.3" fill="#fff161"/><rect x="180.8" y="443.0" width="3.3" height="3.3" fill="#ffed61"/><rect x="183.8" y="443.0" width="3.3" height="3.3" fill="#ffea60"/><rect x="186.8" y="443.0" width="3.3" height="3.3" fill="#ffe760"/><rect x="189.8" y="443.0" width="3.3" height="3.3" fill="#ffe35f"/><rect x="192.8" y="443.0" width="3.3" height="3.3" fill="#ffe05f"/><rect x="195.8" y="443.0" width="3.3" height="3.3" fill="#ffde5e"/><rect x="198.8" y="443.0" width="3.3" height="3.3" fill="#ffdb5e"/><rect x="201.8" y="443.0" width="3.3" height="3.3" fill="#ffd85d"/><rect x="204.8" y="443.0" width="3.3" height="3.3" fill="#ffd65d"/><rect x="207.8" y="443.0" width="3.3" height="3.3" fill="#ffd35d"/><rect x="39.8" y="446.0" width="3.3" height="3.3" fill="#6fffca"/><rect x="42.8" y="446.0" width="3.3" height="3.3" fill="#6fffc9"/><rect x="45.8" y="446.0" width="3.3" height="3.3" fill="#6effc7"/><rect x="48.8" y="446.0" width="3.3" height="3.3" fill="#6dffc5"/><rect x="51.8" y="446.0" width="3.3" height="3.3" fill="#6cffc3"/><rect x="54.8" y="446.0" width="3.3" height="3.3" fill="#6bffc1"/><rect x="57.8" y="446.0" width="3.3" height="3.3" fill="#6affbf"/><rect x="60.8" y="446.0" width="3.3" height="3.3" fill="#69ffbc"/><rect x="63.8" y="446.0" width="3.3" height="3.3" fill="#68ffb9"/><rect x="66.8" y="446.0" width="3.3" height="3.3" fill="#67ffb6"/><rect x="69.8" y="446.0" width="3.3" height="3.3" fill="#66ffb3"/><rect x="72.8" y="446.0" width="3.3" height="3.3" fill="#64ffaf"/><rect x="75.8" y="446.0" width="3.3" height="3.3" fill="#63ffab"/><rect x="78.8" y="446.0" width="3.3" height="3.3" fill="#61ffa7"/><rect x="81.8" y="446.0" width="3.3" height="3.3" fill="#5fffa2"/><rect x="84.8" y="446.0" width="3.3" height="3.3" fill="#5dff9c"/><rect x="87.8" y="446.0" width="3.3" height="3.3" fill="#5aff95"/><rect x="90.8" y="446.0" width="3.3" height="3.3" fill="#57ff8e"/><rect x="93.8" y="446.0" width="3.3" height="3.3" fill="#54ff84"/><rect x="96.8" y="446.0" width="3.3" height="3.3" fill="#50ff79"/><rect x="99.8" y="446.0" width="3.3" height="3.3" fill="#4cff6b"/><rect x="102.8" y="446.0" width="3.3" height="3.3" fill="#47ff58"/><rect x="105.8" y="446.0" width="3.3" height="3.3" fill="#48ff42"/><rect x="108.8" y="446.0" width="3.3" height="3.3" fill="#60ff44"/><rect x="111.8" y="446.0" width="3.3" height="3.3" fill="#71ff47"/><rect x="114.8" y="446.0" width="3.3" height="3.3" fill="#80ff49"/><rect x="117.8" y="446.0" width="3.3" height="3.3" fill="#8cff4b"/><rect x="120.8" y="446.0" width="3.3" height="3.3" fill="#98ff4c"/><rect x="123.8" y="446.0" width="3.3" height="3.3" fill="#a2ff4e"/><rect x="126.8" y="446.0" width="3.3" height="3.3" fill="#abff50"/><rect x="129.8" y="446.0" width="3.3" height="3.3" fill="#b4ff52"/><rect x="132.8" y="446.0" width="3.3" height="3.3" fill="#bcff53"/><rect x="135.8" y="446.0" width="3.3" height="3.3" fill="#c4ff55"/><rect x="138.8" y="446.0" width="3.3" height="3.3" fill="#cbff57"/><rect x="141.8" y="446.0" width="3.3" height="3.3" fill="#d2ff58"/><rect x="144.8" y="446.0" width="3.3" height="3.3" fill="#d8ff5a"/><rect x="147.8" y="446.0" width="3.3" height="3.3" fill="#dfff5b"/><rect x="150.8" y="446.0" width="3.3" height="3.3" fill="#e5ff5c"/><rect x="153.8" y="446.0" width="3.3" height="3.3" fill="#eaff5e"/><rect x="156.8" y="446.0" width="3.3" height="3.3" fill="#f0ff5f"/><rect x="159.8" y="446.0" width="3.3" height="3.3" fill="#f5ff60"/><rect x="162.8" y="446.0" width="3.3" height="3.3" fill="#faff62"/><rect x="165.8" y="446.0" width="3.3" height="3.3" fill="#ffff63"/><rect x="168.8" y="446.0" width="3.3" height="3.3" fill="#fffa62"/><rect x="171.8" y="446.0" width="3.3" height="3.3" fill="#fff661"/><rect x="174.8" y="446.0" width="3.3" height="3.3" fill="#fff161"/><rect x="177.8" y="446.0" width="3.3" height="3.3" fill="#ffee60"/><rect x="180.8" y="446.0" width="3.3" height="3.3" fill="#ffea5f"/><rect x="183.8" y="446.0" width="3.3" height="3.3" fill="#ffe65f"/><rect x="186.8" y="446.0" width="3.3" height="3.3" fill="#ffe35e"/><rect x="189.8" y="446.0" width="3.3" height="3.3" fill="#ffe05e"/><rect x="192.8" y="446.0" width="3.3" height="3.3" fill="#ffdd5d"/><rect x="195.8" y="446.0" width="3.3" height="3.3" fill="#ffda5d"/><rect x="198.8" y="446.0" width="3.3" height="3.3" fill="#ffd85d"/><rect x="201.8" y="446.0" width="3.3" height="3.3" fill="#ffd55c"/><rect x="204.8" y="446.0" width="3.3" height="3.3" fill="#ffd35c"/><rect x="207.8" y="446.0" width="3.3" height="3.3" fill="#ffd05b"/><rect x="39.8" y="449.0" width="6.3" height="3.3" fill="#6fffcb"/><rect x="45.8" y="449.0" width="3.3" height="3.3" fill="#6effc9"/><rect x="48.8" y="449.0" width="3.3" height="3.3" fill="#6dffc7"/><rect x="51.8" y="449.0" width="3.3" height="3.3" fill="#6dffc5"/><rect x="54.8" y="449.0" width="3.3" height="3.3" fill="#6cffc3"/><rect x="57.8" y="449.0" width="3.3" height="3.3" fill="#6bffc0"/><rect x="60.8" y="449.0" width="3.3" height="3.3" fill="#6affbe"/><rect x="63.8" y="449.0" width="3.3" height="3.3" fill="#68ffbb"/><rect x="66.8" y="449.0" width="3.3" height="3.3" fill="#67ffb8"/><rect x="69.8" y="449.0" width="3.3" height="3.3" fill="#66ffb5"/><rect x="72.8" y="449.0" width="3.3" height="3.3" fill="#64ffb1"/><rect x="75.8" y="449.0" width="3.3" height="3.3" fill="#63ffad"/><rect x="78.8" y="449.0" width="3.3" height="3.3" fill="#61ffa9"/><rect x="81.8" y="449.0" width="3.3" height="3.3" fill="#5fffa4"/><rect x="84.8" y="449.0" width="3.3" height="3.3" fill="#5cff9e"/><rect x="87.8" y="449.0" width="3.3" height="3.3" fill="#5aff97"/><rect x="90.8" y="449.0" width="3.3" height="3.3" fill="#57ff8f"/><rect x="93.8" y="449.0" width="3.3" height="3.3" fill="#54ff86"/><rect x="96.8" y="449.0" width="3.3" height="3.3" fill="#50ff7b"/><rect x="99.8" y="449.0" width="3.3" height="3.3" fill="#4bff6c"/><rect x="102.8" y="449.0" width="3.3" height="3.3" fill="#45ff58"/><rect x="105.8" y="449.0" width="3.3" height="3.3" fill="#45ff40"/><rect x="108.8" y="449.0" width="3.3" height="3.3" fill="#5eff42"/><rect x="111.8" y="449.0" width="3.3" height="3.3" fill="#71ff44"/><rect x="114.8" y="449.0" width="3.3" height="3.3" fill="#80ff47"/><rect x="117.8" y="449.0" width="3.3" height="3.3" fill="#8dff49"/><rect x="120.8" y="449.0" width="3.3" height="3.3" fill="#99ff4b"/><rect x="123.8" y="449.0" width="3.3" height="3.3" fill="#a4ff4d"/><rect x="126.8" y="449.0" width="3.3" height="3.3" fill="#adff4f"/><rect x="129.8" y="449.0" width="3.3" height="3.3" fill="#b6ff50"/><rect x="132.8" y="449.0" width="3.3" height="3.3" fill="#bfff52"/><rect x="135.8" y="449.0" width="3.3" height="3.3" fill="#c6ff54"/><rect x="138.8" y="449.0" width="3.3" height="3.3" fill="#ceff56"/><rect x="141.8" y="449.0" width="3.3" height="3.3" fill="#d5ff57"/><rect x="144.8" y="449.0" width="3.3" height="3.3" fill="#dcff59"/><rect x="147.8" y="449.0" width="3.3" height="3.3" fill="#e2ff5a"/><rect x="150.8" y="449.0" width="3.3" height="3.3" fill="#e8ff5c"/><rect x="153.8" y="449.0" width="3.3" height="3.3" fill="#eeff5d"/><rect x="156.8" y="449.0" width="3.3" height="3.3" fill="#f4ff5f"/><rect x="159.8" y="449.0" width="3.3" height="3.3" fill="#f9ff60"/><rect x="162.8" y="449.0" width="3.3" height="3.3" fill="#feff61"/><rect x="165.8" y="449.0" width="3.3" height="3.3" fill="#fffb61"/><rect x="168.8" y="449.0" width="3.3" height="3.3" fill="#fff660"/><rect x="171.8" y="449.0" width="3.3" height="3.3" fill="#fff25f"/><rect x="174.8" y="449.0" width="3.3" height="3.3" fill="#ffee5f"/><rect x="177.8" y="449.0" width="3.3" height="3.3" fill="#ffea5e"/><rect x="180.8" y="449.0" width="3.3" height="3.3" fill="#ffe65e"/><rect x="183.8" y="449.0" width="3.3" height="3.3" fill="#ffe35d"/><rect x="186.8" y="449.0" width="3.3" height="3.3" fill="#ffe05d"/><rect x="189.8" y="449.0" width="3.3" height="3.3" fill="#ffdd5c"/><rect x="192.8" y="449.0" width="3.3" height="3.3" fill="#ffda5c"/><rect x="195.8" y="449.0" width="3.3" height="3.3" fill="#ffd75b"/><rect x="198.8" y="449.0" width="3.3" height="3.3" fill="#ffd45b"/><rect x="201.8" y="449.0" width="3.3" height="3.3" fill="#ffd25b"/><rect x="204.8" y="449.0" width="3.3" height="3.3" fill="#ffcf5a"/><rect x="207.8" y="449.0" width="3.3" height="3.3" fill="#ffcd5a"/><rect x="39.8" y="452.0" width="3.3" height="3.3" fill="#6fffcd"/><rect x="42.8" y="452.0" width="3.3" height="3.3" fill="#6fffcc"/><rect x="45.8" y="452.0" width="3.3" height="3.3" fill="#6effca"/><rect x="48.8" y="452.0" width="3.3" height="3.3" fill="#6effc9"/><rect x="51.8" y="452.0" width="3.3" height="3.3" fill="#6dffc7"/><rect x="54.8" y="452.0" width="3.3" height="3.3" fill="#6cffc4"/><rect x="57.8" y="452.0" width="3.3" height="3.3" fill="#6bffc2"/><rect x="60.8" y="452.0" width="3.3" height="3.3" fill="#6affc0"/><rect x="63.8" y="452.0" width="3.3" height="3.3" fill="#68ffbd"/><rect x="66.8" y="452.0" width="3.3" height="3.3" fill="#67ffba"/><rect x="69.8" y="452.0" width="3.3" height="3.3" fill="#66ffb7"/><rect x="72.8" y="452.0" width="3.3" height="3.3" fill="#64ffb3"/><rect x="75.8" y="452.0" width="3.3" height="3.3" fill="#63ffaf"/><rect x="78.8" y="452.0" width="3.3" height="3.3" fill="#61ffaa"/><rect x="81.8" y="452.0" width="3.3" height="3.3" fill="#5fffa5"/><rect x="84.8" y="452.0" width="3.3" height="3.3" fill="#5cffa0"/><rect x="87.8" y="452.0" width="3.3" height="3.3" fill="#5aff99"/><rect x="90.8" y="452.0" width="3.3" height="3.3" fill="#56ff91"/><rect x="93.8" y="452.0" width="3.3" height="3.3" fill="#53ff88"/><rect x="96.8" y="452.0" width="3.3" height="3.3" fill="#4fff7c"/><rect x="99.8" y="452.0" width="3.3" height="3.3" fill="#4aff6d"/><rect x="102.8" y="452.0" width="3.3" height="3.3" fill="#43ff59"/><rect x="105.8" y="452.0" width="3.3" height="3.3" fill="#40ff3d"/><rect x="108.8" y="452.0" width="3.3" height="3.3" fill="#5cff3f"/><rect x="111.8" y="452.0" width="3.3" height="3.3" fill="#70ff42"/><rect x="114.8" y="452.0" width="3.3" height="3.3" fill="#80ff44"/><rect x="117.8" y="452.0" width="3.3" height="3.3" fill="#8eff47"/><rect x="120.8" y="452.0" width="3.3" height="3.3" fill="#9aff49"/><rect x="123.8" y="452.0" width="3.3" height="3.3" fill="#a5ff4b"/><rect x="126.8" y="452.0" width="3.3" height="3.3" fill="#afff4d"/><rect x="129.8" y="452.0" width="3.3" height="3.3" fill="#b8ff4f"/><rect x="132.8" y="452.0" width="3.3" height="3.3" fill="#c1ff51"/><rect x="135.8" y="452.0" width="3.3" height="3.3" fill="#c9ff53"/><rect x="138.8" y="452.0" width="3.3" height="3.3" fill="#d1ff55"/><rect x="141.8" y="452.0" width="3.3" height="3.3" fill="#d8ff56"/><rect x="144.8" y="452.0" width="3.3" height="3.3" fill="#dfff58"/><rect x="147.8" y="452.0" width="3.3" height="3.3" fill="#e5ff5a"/><rect x="150.8" y="452.0" width="3.3" height="3.3" fill="#ecff5b"/><rect x="153.8" y="452.0" width="3.3" height="3.3" fill="#f2ff5d"/><rect x="156.8" y="452.0" width="3.3" height="3.3" fill="#f7ff5e"/><rect x="159.8" y="452.0" width="3.3" height="3.3" fill="#fdff5f"/><rect x="162.8" y="452.0" width="3.3" height="3.3" fill="#fffc60"/><rect x="165.8" y="452.0" width="3.3" height="3.3" fill="#fff75f"/><rect x="168.8" y="452.0" width="3.3" height="3.3" fill="#fff25e"/><rect x="171.8" y="452.0" width="3.3" height="3.3" fill="#ffee5e"/><rect x="174.8" y="452.0" width="3.3" height="3.3" fill="#ffea5d"/><rect x="177.8" y="452.0" width="3.3" height="3.3" fill="#ffe65c"/><rect x="180.8" y="452.0" width="3.3" height="3.3" fill="#ffe25c"/><rect x="183.8" y="452.0" width="3.3" height="3.3" fill="#ffdf5c"/><rect x="186.8" y="452.0" width="3.3" height="3.3" fill="#ffdc5b"/><rect x="189.8" y="452.0" width="3.3" height="3.3" fill="#ffd95b"/><rect x="192.8" y="452.0" width="3.3" height="3.3" fill="#ffd65a"/><rect x="195.8" y="452.0" width="3.3" height="3.3" fill="#ffd35a"/><rect x="198.8" y="452.0" width="3.3" height="3.3" fill="#ffd15a"/><rect x="201.8" y="452.0" width="3.3" height="3.3" fill="#ffce59"/><rect x="204.8" y="452.0" width="3.3" height="3.3" fill="#ffcc59"/><rect x="207.8" y="452.0" width="3.3" height="3.3" fill="#ffc959"/><rect x="39.8" y="455.0" width="3.3" height="3.3" fill="#70ffce"/><rect x="42.8" y="455.0" width="3.3" height="3.3" fill="#6fffce"/><rect x="45.8" y="455.0" width="3.3" height="3.3" fill="#6fffcc"/><rect x="48.8" y="455.0" width="3.3" height="3.3" fill="#6effca"/><rect x="51.8" y="455.0" width="3.3" height="3.3" fill="#6dffc8"/><rect x="54.8" y="455.0" width="3.3" height="3.3" fill="#6cffc6"/><rect x="57.8" y="455.0" width="3.3" height="3.3" fill="#6bffc4"/><rect x="60.8" y="455.0" width="3.3" height="3.3" fill="#6affc1"/><rect x="63.8" y="455.0" width="3.3" height="3.3" fill="#69ffbf"/><rect x="66.8" y="455.0" width="3.3" height="3.3" fill="#67ffbc"/><rect x="69.8" y="455.0" width="3.3" height="3.3" fill="#66ffb8"/><rect x="72.8" y="455.0" width="3.3" height="3.3" fill="#64ffb5"/><rect x="75.8" y="455.0" width="3.3" height="3.3" fill="#63ffb1"/><rect x="78.8" y="455.0" width="3.3" height="3.3" fill="#61ffac"/><rect x="81.8" y="455.0" width="3.3" height="3.3" fill="#5effa7"/><rect x="84.8" y="455.0" width="3.3" height="3.3" fill="#5cffa1"/><rect x="87.8" y="455.0" width="3.3" height="3.3" fill="#59ff9b"/><rect x="90.8" y="455.0" width="3.3" height="3.3" fill="#56ff93"/><rect x="93.8" y="455.0" width="3.3" height="3.3" fill="#52ff89"/><rect x="96.8" y="455.0" width="3.3" height="3.3" fill="#4eff7e"/><rect x="99.8" y="455.0" width="3.3" height="3.3" fill="#48ff6f"/><rect x="102.8" y="455.0" width="3.3" height="3.3" fill="#42ff5a"/><rect x="105.8" y="455.0" width="3.3" height="3.3" fill="#3bff39"/><rect x="108.8" y="455.0" width="3.3" height="3.3" fill="#5aff3c"/><rect x="111.8" y="455.0" width="3.3" height="3.3" fill="#6fff3f"/><rect x="114.8" y="455.0" width="3.3" height="3.3" fill="#80ff42"/><rect x="117.8" y="455.0" width="3.3" height="3.3" fill="#8fff44"/><rect x="120.8" y="455.0" width="3.3" height="3.3" fill="#9cff47"/><rect x="123.8" y="455.0" width="3.3" height="3.3" fill="#a7ff49"/><rect x="126.8" y="455.0" width="3.3" height="3.3" fill="#b1ff4b"/><rect x="129.8" y="455.0" width="3.3" height="3.3" fill="#bbff4e"/><rect x="132.8" y="455.0" width="3.3" height="3.3" fill="#c4ff50"/><rect x="135.8" y="455.0" width="3.3" height="3.3" fill="#ccff51"/><rect x="138.8" y="455.0" width="3.3" height="3.3" fill="#d4ff53"/><rect x="141.8" y="455.0" width="3.3" height="3.3" fill="#dbff55"/><rect x="144.8" y="455.0" width="3.3" height="3.3" fill="#e2ff57"/><rect x="147.8" y="455.0" width="3.3" height="3.3" fill="#e9ff59"/><rect x="150.8" y="455.0" width="3.3" height="3.3" fill="#f0ff5a"/><rect x="153.8" y="455.0" width="3.3" height="3.3" fill="#f6ff5c"/><rect x="156.8" y="455.0" width="3.3" height="3.3" fill="#fcff5d"/><rect x="159.8" y="455.0" width="3.3" height="3.3" fill="#fffd5e"/><rect x="162.8" y="455.0" width="3.3" height="3.3" fill="#fff85d"/><rect x="165.8" y="455.0" width="3.3" height="3.3" fill="#fff35d"/><rect x="168.8" y="455.0" width="3.3" height="3.3" fill="#ffee5c"/><rect x="171.8" y="455.0" width="3.3" height="3.3" fill="#ffea5c"/><rect x="174.8" y="455.0" width="3.3" height="3.3" fill="#ffe65b"/><rect x="177.8" y="455.0" width="3.3" height="3.3" fill="#ffe25b"/><rect x="180.8" y="455.0" width="3.3" height="3.3" fill="#ffdf5a"/><rect x="183.8" y="455.0" width="3.3" height="3.3" fill="#ffdb5a"/><rect x="186.8" y="455.0" width="3.3" height="3.3" fill="#ffd85a"/><rect x="189.8" y="455.0" width="3.3" height="3.3" fill="#ffd559"/><rect x="192.8" y="455.0" width="3.3" height="3.3" fill="#ffd259"/><rect x="195.8" y="455.0" width="3.3" height="3.3" fill="#ffd059"/><rect x="198.8" y="455.0" width="3.3" height="3.3" fill="#ffcd58"/><rect x="201.8" y="455.0" width="3.3" height="3.3" fill="#ffca58"/><rect x="204.8" y="455.0" width="3.3" height="3.3" fill="#ffc858"/><rect x="207.8" y="455.0" width="3.3" height="3.3" fill="#ffc657"/><rect x="39.8" y="458.0" width="3.3" height="3.3" fill="#70ffd0"/><rect x="42.8" y="458.0" width="3.3" height="3.3" fill="#70ffcf"/><rect x="45.8" y="458.0" width="3.3" height="3.3" fill="#6fffce"/><rect x="48.8" y="458.0" width="3.3" height="3.3" fill="#6effcc"/><rect x="51.8" y="458.0" width="3.3" height="3.3" fill="#6dffca"/><rect x="54.8" y="458.0" width="3.3" height="3.3" fill="#6cffc8"/><rect x="57.8" y="458.0" width="3.3" height="3.3" fill="#6bffc6"/><rect x="60.8" y="458.0" width="3.3" height="3.3" fill="#6affc3"/><rect x="63.8" y="458.0" width="3.3" height="3.3" fill="#69ffc1"/><rect x="66.8" y="458.0" width="3.3" height="3.3" fill="#67ffbe"/><rect x="69.8" y="458.0" width="3.3" height="3.3" fill="#66ffba"/><rect x="72.8" y="458.0" width="3.3" height="3.3" fill="#64ffb7"/><rect x="75.8" y="458.0" width="3.3" height="3.3" fill="#62ffb3"/><rect x="78.8" y="458.0" width="3.3" height="3.3" fill="#60ffae"/><rect x="81.8" y="458.0" width="3.3" height="3.3" fill="#5effa9"/><rect x="84.8" y="458.0" width="3.3" height="3.3" fill="#5cffa4"/><rect x="87.8" y="458.0" width="3.3" height="3.3" fill="#59ff9d"/><rect x="90.8" y="458.0" width="3.3" height="3.3" fill="#55ff95"/><rect x="93.8" y="458.0" width="3.3" height="3.3" fill="#51ff8b"/><rect x="96.8" y="458.0" width="3.3" height="3.3" fill="#4dff80"/><rect x="99.8" y="458.0" width="3.3" height="3.3" fill="#47ff70"/><rect x="102.8" y="458.0" width="3.3" height="3.3" fill="#3fff5b"/><rect x="105.8" y="458.0" width="3.3" height="3.3" fill="#35ff36"/><rect x="108.8" y="458.0" width="3.3" height="3.3" fill="#58ff39"/><rect x="111.8" y="458.0" width="3.3" height="3.3" fill="#6fff3c"/><rect x="114.8" y="458.0" width="3.3" height="3.3" fill="#81ff3f"/><rect x="117.8" y="458.0" width="3.3" height="3.3" fill="#90ff42"/><rect x="120.8" y="458.0" width="3.3" height="3.3" fill="#9dff44"/><rect x="123.8" y="458.0" width="3.3" height="3.3" fill="#a9ff47"/><rect x="126.8" y="458.0" width="3.3" height="3.3" fill="#b4ff49"/><rect x="129.8" y="458.0" width="3.3" height="3.3" fill="#beff4c"/><rect x="132.8" y="458.0" width="3.3" height="3.3" fill="#c7ff4e"/><rect x="135.8" y="458.0" width="3.3" height="3.3" fill="#cfff50"/><rect x="138.8" y="458.0" width="3.3" height="3.3" fill="#d7ff52"/><rect x="141.8" y="458.0" width="3.3" height="3.3" fill="#dfff54"/><rect x="144.8" y="458.0" width="3.3" height="3.3" fill="#e6ff56"/><rect x="147.8" y="458.0" width="3.3" height="3.3" fill="#edff58"/><rect x="150.8" y="458.0" width="3.3" height="3.3" fill="#f4ff5a"/><rect x="153.8" y="458.0" width="3.3" height="3.3" fill="#faff5b"/><rect x="156.8" y="458.0" width="3.3" height="3.3" fill="#fffe5c"/><rect x="159.8" y="458.0" width="3.3" height="3.3" fill="#fff85c"/><rect x="162.8" y="458.0" width="3.3" height="3.3" fill="#fff35b"/><rect x="165.8" y="458.0" width="3.3" height="3.3" fill="#ffee5b"/><rect x="168.8" y="458.0" width="3.3" height="3.3" fill="#ffea5a"/><rect x="171.8" y="458.0" width="3.3" height="3.3" fill="#ffe65a"/><rect x="174.8" y="458.0" width="3.3" height="3.3" fill="#ffe259"/><rect x="177.8" y="458.0" width="3.3" height="3.3" fill="#ffde59"/><rect x="180.8" y="458.0" width="3.3" height="3.3" fill="#ffda58"/><rect x="183.8" y="458.0" width="3.3" height="3.3" fill="#ffd758"/><rect x="186.8" y="458.0" width="3.3" height="3.3" fill="#ffd458"/><rect x="189.8" y="458.0" width="3.3" height="3.3" fill="#ffd158"/><rect x="192.8" y="458.0" width="3.3" height="3.3" fill="#ffce57"/><rect x="195.8" y="458.0" width="3.3" height="3.3" fill="#ffcc57"/><rect x="198.8" y="458.0" width="3.3" height="3.3" fill="#ffc957"/><rect x="201.8" y="458.0" width="3.3" height="3.3" fill="#ffc757"/><rect x="204.8" y="458.0" width="3.3" height="3.3" fill="#ffc456"/><rect x="207.8" y="458.0" width="3.3" height="3.3" fill="#ffc256"/><rect x="39.8" y="461.0" width="3.3" height="3.3" fill="#70ffd2"/><rect x="42.8" y="461.0" width="3.3" height="3.3" fill="#70ffd1"/><rect x="45.8" y="461.0" width="3.3" height="3.3" fill="#6fffcf"/><rect x="48.8" y="461.0" width="3.3" height="3.3" fill="#6effce"/><rect x="51.8" y="461.0" width="3.3" height="3.3" fill="#6dffcc"/><rect x="54.8" y="461.0" width="3.3" height="3.3" fill="#6cffca"/><rect x="57.8" y="461.0" width="3.3" height="3.3" fill="#6bffc8"/><rect x="60.8" y="461.0" width="3.3" height="3.3" fill="#6affc5"/><rect x="63.8" y="461.0" width="3.3" height="3.3" fill="#69ffc2"/><rect x="66.8" y="461.0" width="3.3" height="3.3" fill="#67ffc0"/><rect x="69.8" y="461.0" width="3.3" height="3.3" fill="#66ffbc"/><rect x="72.8" y="461.0" width="3.3" height="3.3" fill="#64ffb9"/><rect x="75.8" y="461.0" width="3.3" height="3.3" fill="#62ffb5"/><rect x="78.8" y="461.0" width="3.3" height="3.3" fill="#60ffb0"/><rect x="81.8" y="461.0" width="3.3" height="3.3" fill="#5effab"/><rect x="84.8" y="461.0" width="3.3" height="3.3" fill="#5bffa6"/><rect x="87.8" y="461.0" width="3.3" height="3.3" fill="#58ff9f"/><rect x="90.8" y="461.0" width="3.3" height="3.3" fill="#55ff97"/><rect x="93.8" y="461.0" width="3.3" height="3.3" fill="#51ff8d"/><rect x="96.8" y="461.0" width="3.3" height="3.3" fill="#4bff81"/><rect x="99.8" y="461.0" width="3.3" height="3.3" fill="#45ff72"/><rect x="102.8" y="461.0" width="3.3" height="3.3" fill="#3dff5c"/><rect x="105.8" y="461.0" width="3.3" height="3.3" fill="#31ff35"/><rect x="108.8" y="461.0" width="3.3" height="3.3" fill="#55ff34"/><rect x="111.8" y="461.0" width="3.3" height="3.3" fill="#6eff38"/><rect x="114.8" y="461.0" width="3.3" height="3.3" fill="#81ff3b"/><rect x="117.8" y="461.0" width="3.3" height="3.3" fill="#91ff3f"/><rect x="120.8" y="461.0" width="3.3" height="3.3" fill="#9fff42"/><rect x="123.8" y="461.0" width="3.3" height="3.3" fill="#abff44"/><rect x="126.8" y="461.0" width="3.3" height="3.3" fill="#b6ff47"/><rect x="129.8" y="461.0" width="3.3" height="3.3" fill="#c0ff4a"/><rect x="132.8" y="461.0" width="3.3" height="3.3" fill="#caff4c"/><rect x="135.8" y="461.0" width="3.3" height="3.3" fill="#d3ff4e"/><rect x="138.8" y="461.0" width="3.3" height="3.3" fill="#dbff51"/><rect x="141.8" y="461.0" width="3.3" height="3.3" fill="#e3ff53"/><rect x="144.8" y="461.0" width="3.3" height="3.3" fill="#eaff55"/><rect x="147.8" y="461.0" width="3.3" height="3.3" fill="#f1ff57"/><rect x="150.8" y="461.0" width="3.3" height="3.3" fill="#f8ff59"/><rect x="153.8" y="461.0" width="3.3" height="3.3" fill="#ffff5a"/><rect x="156.8" y="461.0" width="3.3" height="3.3" fill="#fff95a"/><rect x="159.8" y="461.0" width="3.3" height="3.3" fill="#fff459"/><rect x="162.8" y="461.0" width="3.3" height="3.3" fill="#ffef59"/><rect x="165.8" y="461.0" width="3.3" height="3.3" fill="#ffea58"/><rect x="168.8" y="461.0" width="3.3" height="3.3" fill="#ffe558"/><rect x="171.8" y="461.0" width="3.3" height="3.3" fill="#ffe158"/><rect x="174.8" y="461.0" width="3.3" height="3.3" fill="#ffdd57"/><rect x="177.8" y="461.0" width="3.3" height="3.3" fill="#ffda57"/><rect x="180.8" y="461.0" width="3.3" height="3.3" fill="#ffd657"/><rect x="183.8" y="461.0" width="3.3" height="3.3" fill="#ffd356"/><rect x="186.8" y="461.0" width="3.3" height="3.3" fill="#ffd056"/><rect x="189.8" y="461.0" width="3.3" height="3.3" fill="#ffcd56"/><rect x="192.8" y="461.0" width="3.3" height="3.3" fill="#ffca56"/><rect x="195.8" y="461.0" width="3.3" height="3.3" fill="#ffc855"/><rect x="198.8" y="461.0" width="3.3" height="3.3" fill="#ffc555"/><rect x="201.8" y="461.0" width="3.3" height="3.3" fill="#ffc355"/><rect x="204.8" y="461.0" width="3.3" height="3.3" fill="#ffc155"/><rect x="207.8" y="461.0" width="3.3" height="3.3" fill="#ffbe55"/><rect x="39.8" y="464.0" width="6.3" height="3.3" fill="#70ffd3"/><rect x="45.8" y="464.0" width="3.3" height="3.3" fill="#6fffd1"/><rect x="48.8" y="464.0" width="3.3" height="3.3" fill="#6effcf"/><rect x="51.8" y="464.0" width="3.3" height="3.3" fill="#6dffce"/><rect x="54.8" y="464.0" width="3.3" height="3.3" fill="#6cffcc"/><rect x="57.8" y="464.0" width="3.3" height="3.3" fill="#6bffc9"/><rect x="60.8" y="464.0" width="3.3" height="3.3" fill="#6affc7"/><rect x="63.8" y="464.0" width="3.3" height="3.3" fill="#69ffc4"/><rect x="66.8" y="464.0" width="3.3" height="3.3" fill="#68ffc2"/><rect x="69.8" y="464.0" width="3.3" height="3.3" fill="#66ffbf"/><rect x="72.8" y="464.0" width="3.3" height="3.3" fill="#64ffbb"/><rect x="75.8" y="464.0" width="3.3" height="3.3" fill="#62ffb7"/><rect x="78.8" y="464.0" width="3.3" height="3.3" fill="#60ffb3"/><rect x="81.8" y="464.0" width="3.3" height="3.3" fill="#5effae"/><rect x="84.8" y="464.0" width="3.3" height="3.3" fill="#5bffa8"/><rect x="87.8" y="464.0" width="3.3" height="3.3" fill="#58ffa1"/><rect x="90.8" y="464.0" width="3.3" height="3.3" fill="#54ff99"/><rect x="93.8" y="464.0" width="3.3" height="3.3" fill="#50ff8f"/><rect x="96.8" y="464.0" width="3.3" height="3.3" fill="#4aff83"/><rect x="99.8" y="464.0" width="3.3" height="3.3" fill="#43ff73"/><rect x="102.8" y="464.0" width="3.3" height="3.3" fill="#3aff5d"/><rect x="105.8" y="464.0" width="3.3" height="3.3" fill="#2dff34"/><rect x="108.8" y="464.0" width="3.3" height="3.3" fill="#52ff2e"/><rect x="111.8" y="464.0" width="3.3" height="3.3" fill="#6dff33"/><rect x="114.8" y="464.0" width="3.3" height="3.3" fill="#81ff37"/><rect x="117.8" y="464.0" width="3.3" height="3.3" fill="#92ff3b"/><rect x="120.8" y="464.0" width="3.3" height="3.3" fill="#a1ff3e"/><rect x="123.8" y="464.0" width="3.3" height="3.3" fill="#adff41"/><rect x="126.8" y="464.0" width="3.3" height="3.3" fill="#b9ff44"/><rect x="129.8" y="464.0" width="3.3" height="3.3" fill="#c4ff47"/><rect x="132.8" y="464.0" width="3.3" height="3.3" fill="#cdff4a"/><rect x="135.8" y="464.0" width="3.3" height="3.3" fill="#d7ff4c"/><rect x="138.8" y="464.0" width="3.3" height="3.3" fill="#dfff4f"/><rect x="141.8" y="464.0" width="3.3" height="3.3" fill="#e7ff51"/><rect x="144.8" y="464.0" width="3.3" height="3.3" fill="#efff53"/><rect x="147.8" y="464.0" width="3.3" height="3.3" fill="#f6ff56"/><rect x="150.8" y="464.0" width="3.3" height="3.3" fill="#fdff58"/><rect x="153.8" y="464.0" width="3.3" height="3.3" fill="#fffa58"/><rect x="156.8" y="464.0" width="3.3" height="3.3" fill="#fff457"/><rect x="159.8" y="464.0" width="3.3" height="3.3" fill="#ffef57"/><rect x="162.8" y="464.0" width="3.3" height="3.3" fill="#ffea56"/><rect x="165.8" y="464.0" width="3.3" height="3.3" fill="#ffe556"/><rect x="168.8" y="464.0" width="3.3" height="3.3" fill="#ffe156"/><rect x="171.8" y="464.0" width="3.3" height="3.3" fill="#ffdd55"/><rect x="174.8" y="464.0" width="3.3" height="3.3" fill="#ffd955"/><rect x="177.8" y="464.0" width="3.3" height="3.3" fill="#ffd555"/><rect x="180.8" y="464.0" width="3.3" height="3.3" fill="#ffd255"/><rect x="183.8" y="464.0" width="3.3" height="3.3" fill="#ffcf54"/><rect x="186.8" y="464.0" width="3.3" height="3.3" fill="#ffcc54"/><rect x="189.8" y="464.0" width="3.3" height="3.3" fill="#ffc954"/><rect x="192.8" y="464.0" width="3.3" height="3.3" fill="#ffc654"/><rect x="195.8" y="464.0" width="3.3" height="3.3" fill="#ffc454"/><rect x="198.8" y="464.0" width="3.3" height="3.3" fill="#ffc154"/><rect x="201.8" y="464.0" width="3.3" height="3.3" fill="#ffbf53"/><rect x="204.8" y="464.0" width="3.3" height="3.3" fill="#ffbd53"/><rect x="207.8" y="464.0" width="3.3" height="3.3" fill="#ffbb53"/><rect x="39.8" y="467.0" width="3.3" height="3.3" fill="#71ffd5"/><rect x="42.8" y="467.0" width="3.3" height="3.3" fill="#70ffd4"/><rect x="45.8" y="467.0" width="3.3" height="3.3" fill="#6fffd3"/><rect x="48.8" y="467.0" width="3.3" height="3.3" fill="#6fffd1"/><rect x="51.8" y="467.0" width="3.3" height="3.3" fill="#6effcf"/><rect x="54.8" y="467.0" width="3.3" height="3.3" fill="#6dffce"/><rect x="57.8" y="467.0" width="3.3" height="3.3" fill="#6cffcb"/><rect x="60.8" y="467.0" width="3.3" height="3.3" fill="#6affc9"/><rect x="63.8" y="467.0" width="3.3" height="3.3" fill="#69ffc7"/><rect x="66.8" y="467.0" width="3.3" height="3.3" fill="#68ffc4"/><rect x="69.8" y="467.0" width="3.3" height="3.3" fill="#66ffc1"/><rect x="72.8" y="467.0" width="3.3" height="3.3" fill="#64ffbd"/><rect x="75.8" y="467.0" width="3.3" height="3.3" fill="#62ffb9"/><rect x="78.8" y="467.0" width="3.3" height="3.3" fill="#60ffb5"/><rect x="81.8" y="467.0" width="3.3" height="3.3" fill="#5effb0"/><rect x="84.8" y="467.0" width="3.3" height="3.3" fill="#5bffaa"/><rect x="87.8" y="467.0" width="3.3" height="3.3" fill="#57ffa4"/><rect x="90.8" y="467.0" width="3.3" height="3.3" fill="#53ff9c"/><rect x="93.8" y="467.0" width="3.3" height="3.3" fill="#4fff92"/><rect x="96.8" y="467.0" width="3.3" height="3.3" fill="#49ff85"/><rect x="99.8" y="467.0" width="3.3" height="3.3" fill="#41ff75"/><rect x="102.8" y="467.0" width="3.3" height="3.3" fill="#37ff5e"/><rect x="105.8" y="467.0" width="3.3" height="3.3" fill="#26ff33"/><rect x="108.8" y="467.0" width="3.3" height="3.3" fill="#4eff27"/><rect x="111.8" y="467.0" width="3.3" height="3.3" fill="#6cff2d"/><rect x="114.8" y="467.0" width="3.3" height="3.3" fill="#81ff32"/><rect x="117.8" y="467.0" width="3.3" height="3.3" fill="#93ff36"/><rect x="120.8" y="467.0" width="3.3" height="3.3" fill="#a3ff3a"/><rect x="123.8" y="467.0" width="3.3" height="3.3" fill="#b0ff3e"/><rect x="126.8" y="467.0" width="3.3" height="3.3" fill="#bcff41"/><rect x="129.8" y="467.0" width="3.3" height="3.3" fill="#c7ff44"/><rect x="132.8" y="467.0" width="3.3" height="3.3" fill="#d1ff47"/><rect x="135.8" y="467.0" width="3.3" height="3.3" fill="#dbff4a"/><rect x="138.8" y="467.0" width="3.3" height="3.3" fill="#e4ff4d"/><rect x="141.8" y="467.0" width="3.3" height="3.3" fill="#ecff4f"/><rect x="144.8" y="467.0" width="3.3" height="3.3" fill="#f4ff52"/><rect x="147.8" y="467.0" width="3.3" height="3.3" fill="#fbff54"/><rect x="150.8" y="467.0" width="3.3" height="3.3" fill="#fffb55"/><rect x="153.8" y="467.0" width="3.3" height="3.3" fill="#fff555"/><rect x="156.8" y="467.0" width="3.3" height="3.3" fill="#ffef54"/><rect x="159.8" y="467.0" width="3.3" height="3.3" fill="#ffea54"/><rect x="162.8" y="467.0" width="3.3" height="3.3" fill="#ffe554"/><rect x="165.8" y="467.0" width="3.3" height="3.3" fill="#ffe054"/><rect x="168.8" y="467.0" width="3.3" height="3.3" fill="#ffdc53"/><rect x="171.8" y="467.0" width="3.3" height="3.3" fill="#ffd853"/><rect x="174.8" y="467.0" width="3.3" height="3.3" fill="#ffd453"/><rect x="177.8" y="467.0" width="3.3" height="3.3" fill="#ffd153"/><rect x="180.8" y="467.0" width="3.3" height="3.3" fill="#ffcd53"/><rect x="183.8" y="467.0" width="3.3" height="3.3" fill="#ffca52"/><rect x="186.8" y="467.0" width="3.3" height="3.3" fill="#ffc752"/><rect x="189.8" y="467.0" width="3.3" height="3.3" fill="#ffc452"/><rect x="192.8" y="467.0" width="3.3" height="3.3" fill="#ffc252"/><rect x="195.8" y="467.0" width="3.3" height="3.3" fill="#ffbf52"/><rect x="198.8" y="467.0" width="3.3" height="3.3" fill="#ffbd52"/><rect x="201.8" y="467.0" width="3.3" height="3.3" fill="#ffbb52"/><rect x="204.8" y="467.0" width="3.3" height="3.3" fill="#ffb852"/><rect x="207.8" y="467.0" width="3.3" height="3.3" fill="#ffb652"/><rect x="39.8" y="470.0" width="3.3" height="3.3" fill="#71ffd7"/><rect x="42.8" y="470.0" width="3.3" height="3.3" fill="#71ffd6"/><rect x="45.8" y="470.0" width="3.3" height="3.3" fill="#70ffd5"/><rect x="48.8" y="470.0" width="3.3" height="3.3" fill="#6fffd3"/><rect x="51.8" y="470.0" width="3.3" height="3.3" fill="#6effd1"/><rect x="54.8" y="470.0" width="3.3" height="3.3" fill="#6dffd0"/><rect x="57.8" y="470.0" width="3.3" height="3.3" fill="#6cffcd"/><rect x="60.8" y="470.0" width="3.3" height="3.3" fill="#6bffcb"/><rect x="63.8" y="470.0" width="3.3" height="3.3" fill="#69ffc9"/><rect x="66.8" y="470.0" width="3.3" height="3.3" fill="#68ffc6"/><rect x="69.8" y="470.0" width="3.3" height="3.3" fill="#66ffc3"/><rect x="72.8" y="470.0" width="3.3" height="3.3" fill="#64ffc0"/><rect x="75.8" y="470.0" width="3.3" height="3.3" fill="#62ffbc"/><rect x="78.8" y="470.0" width="3.3" height="3.3" fill="#60ffb7"/><rect x="81.8" y="470.0" width="3.3" height="3.3" fill="#5dffb3"/><rect x="84.8" y="470.0" width="3.3" height="3.3" fill="#5affad"/><rect x="87.8" y="470.0" width="3.3" height="3.3" fill="#57ffa6"/><rect x="90.8" y="470.0" width="3.3" height="3.3" fill="#53ff9e"/><rect x="93.8" y="470.0" width="3.3" height="3.3" fill="#4dff94"/><rect x="96.8" y="470.0" width="3.3" height="3.3" fill="#47ff88"/><rect x="99.8" y="470.0" width="3.3" height="3.3" fill="#3eff77"/><rect x="102.8" y="470.0" width="3.3" height="3.3" fill="#32ff5f"/><rect x="105.8" y="470.0" width="3.3" height="3.3" fill="#1eff31"/><rect x="108.8" y="470.0" width="3.3" height="3.3" fill="#49ff1c"/><rect x="111.8" y="470.0" width="3.3" height="3.3" fill="#6aff24"/><rect x="114.8" y="470.0" width="3.3" height="3.3" fill="#82ff2b"/><rect x="117.8" y="470.0" width="3.3" height="3.3" fill="#95ff30"/><rect x="120.8" y="470.0" width="3.3" height="3.3" fill="#a5ff35"/><rect x="123.8" y="470.0" width="3.3" height="3.3" fill="#b3ff39"/><rect x="126.8" y="470.0" width="3.3" height="3.3" fill="#c0ff3d"/><rect x="129.8" y="470.0" width="3.3" height="3.3" fill="#cbff41"/><rect x="132.8" y="470.0" width="3.3" height="3.3" fill="#d6ff44"/><rect x="135.8" y="470.0" width="3.3" height="3.3" fill="#dfff48"/><rect x="138.8" y="470.0" width="3.3" height="3.3" fill="#e9ff4b"/><rect x="141.8" y="470.0" width="3.3" height="3.3" fill="#f1ff4d"/><rect x="144.8" y="470.0" width="3.3" height="3.3" fill="#f9ff50"/><rect x="147.8" y="470.0" width="3.3" height="3.3" fill="#fffd52"/><rect x="150.8" y="470.0" width="3.3" height="3.3" fill="#fff652"/><rect x="153.8" y="470.0" width="3.3" height="3.3" fill="#ffef51"/><rect x="156.8" y="470.0" width="3.3" height="3.3" fill="#ffea51"/><rect x="159.8" y="470.0" width="3.3" height="3.3" fill="#ffe451"/><rect x="162.8" y="470.0" width="3.3" height="3.3" fill="#ffdf51"/><rect x="165.8" y="470.0" width="3.3" height="3.3" fill="#ffdb51"/><rect x="168.8" y="470.0" width="3.3" height="3.3" fill="#ffd751"/><rect x="171.8" y="470.0" width="3.3" height="3.3" fill="#ffd351"/><rect x="174.8" y="470.0" width="3.3" height="3.3" fill="#ffcf51"/><rect x="177.8" y="470.0" width="3.3" height="3.3" fill="#ffcc51"/><rect x="180.8" y="470.0" width="3.3" height="3.3" fill="#ffc850"/><rect x="183.8" y="470.0" width="3.3" height="3.3" fill="#ffc550"/><rect x="186.8" y="470.0" width="3.3" height="3.3" fill="#ffc250"/><rect x="189.8" y="470.0" width="3.3" height="3.3" fill="#ffc050"/><rect x="192.8" y="470.0" width="3.3" height="3.3" fill="#ffbd50"/><rect x="195.8" y="470.0" width="3.3" height="3.3" fill="#ffbb50"/><rect x="198.8" y="470.0" width="3.3" height="3.3" fill="#ffb850"/><rect x="201.8" y="470.0" width="3.3" height="3.3" fill="#ffb650"/><rect x="204.8" y="470.0" width="3.3" height="3.3" fill="#ffb450"/><rect x="207.8" y="470.0" width="3.3" height="3.3" fill="#ffb250"/><rect x="39.8" y="473.0" width="3.3" height="3.3" fill="#71ffd9"/><rect x="42.8" y="473.0" width="3.3" height="3.3" fill="#71ffd8"/><rect x="45.8" y="473.0" width="3.3" height="3.3" fill="#70ffd7"/><rect x="48.8" y="473.0" width="3.3" height="3.3" fill="#6fffd5"/><rect x="51.8" y="473.0" width="3.3" height="3.3" fill="#6effd4"/><rect x="54.8" y="473.0" width="3.3" height="3.3" fill="#6dffd2"/><rect x="57.8" y="473.0" width="3.3" height="3.3" fill="#6cffd0"/><rect x="60.8" y="473.0" width="3.3" height="3.3" fill="#6bffcd"/><rect x="63.8" y="473.0" width="3.3" height="3.3" fill="#69ffcb"/><rect x="66.8" y="473.0" width="3.3" height="3.3" fill="#68ffc8"/><rect x="69.8" y="473.0" width="3.3" height="3.3" fill="#66ffc5"/><rect x="72.8" y="473.0" width="3.3" height="3.3" fill="#64ffc2"/><rect x="75.8" y="473.0" width="3.3" height="3.3" fill="#62ffbe"/><rect x="78.8" y="473.0" width="3.3" height="3.3" fill="#60ffba"/><rect x="81.8" y="473.0" width="3.3" height="3.3" fill="#5dffb5"/><rect x="84.8" y="473.0" width="3.3" height="3.3" fill="#5affaf"/><rect x="87.8" y="473.0" width="3.3" height="3.3" fill="#56ffa9"/><rect x="90.8" y="473.0" width="3.3" height="3.3" fill="#52ffa1"/><rect x="93.8" y="473.0" width="3.3" height="3.3" fill="#4cff97"/><rect x="96.8" y="473.0" width="3.3" height="3.3" fill="#45ff8a"/><rect x="99.8" y="473.0" width="3.3" height="3.3" fill="#3cff79"/><rect x="102.8" y="473.0" width="3.3" height="3.3" fill="#2dff61"/><rect x="105.8" y="473.0" width="3.3" height="3.3" fill="#10ff30"/><rect x="108.8" y="473.0" width="3.3" height="3.3" fill="#43ff06"/><rect x="111.8" y="473.0" width="3.3" height="3.3" fill="#69ff17"/><rect x="114.8" y="473.0" width="3.3" height="3.3" fill="#82ff21"/><rect x="117.8" y="473.0" width="3.3" height="3.3" fill="#96ff28"/><rect x="120.8" y="473.0" width="3.3" height="3.3" fill="#a7ff2e"/><rect x="123.8" y="473.0" width="3.3" height="3.3" fill="#b6ff34"/><rect x="126.8" y="473.0" width="3.3" height="3.3" fill="#c3ff39"/><rect x="129.8" y="473.0" width="3.3" height="3.3" fill="#cfff3d"/><rect x="132.8" y="473.0" width="3.3" height="3.3" fill="#daff41"/><rect x="135.8" y="473.0" width="3.3" height="3.3" fill="#e5ff44"/><rect x="138.8" y="473.0" width="3.3" height="3.3" fill="#eeff48"/><rect x="141.8" y="473.0" width="3.3" height="3.3" fill="#f7ff4b"/><rect x="144.8" y="473.0" width="3.3" height="3.3" fill="#fffe4e"/><rect x="147.8" y="473.0" width="3.3" height="3.3" fill="#fff74e"/><rect x="150.8" y="473.0" width="3.3" height="3.3" fill="#fff04e"/><rect x="153.8" y="473.0" width="3.3" height="3.3" fill="#ffea4e"/><rect x="156.8" y="473.0" width="3.3" height="3.3" fill="#ffe44e"/><rect x="159.8" y="473.0" width="3.3" height="3.3" fill="#ffdf4e"/><rect x="162.8" y="473.0" width="3.3" height="3.3" fill="#ffda4e"/><rect x="165.8" y="473.0" width="3.3" height="3.3" fill="#ffd54e"/><rect x="168.8" y="473.0" width="3.3" height="3.3" fill="#ffd14e"/><rect x="171.8" y="473.0" width="3.3" height="3.3" fill="#ffcd4e"/><rect x="174.8" y="473.0" width="3.3" height="3.3" fill="#ffca4e"/><rect x="177.8" y="473.0" width="3.3" height="3.3" fill="#ffc64e"/><rect x="180.8" y="473.0" width="3.3" height="3.3" fill="#ffc34e"/><rect x="183.8" y="473.0" width="3.3" height="3.3" fill="#ffc04e"/><rect x="186.8" y="473.0" width="3.3" height="3.3" fill="#ffbe4e"/><rect x="189.8" y="473.0" width="3.3" height="3.3" fill="#ffbb4e"/><rect x="192.8" y="473.0" width="3.3" height="3.3" fill="#ffb84e"/><rect x="195.8" y="473.0" width="3.3" height="3.3" fill="#ffb64e"/><rect x="198.8" y="473.0" width="3.3" height="3.3" fill="#ffb44e"/><rect x="201.8" y="473.0" width="3.3" height="3.3" fill="#ffb24e"/><rect x="204.8" y="473.0" width="3.3" height="3.3" fill="#ffb04e"/><rect x="207.8" y="473.0" width="3.3" height="3.3" fill="#ffae4e"/><rect x="39.8" y="476.0" width="3.3" height="3.3" fill="#71ffdb"/><rect x="42.8" y="476.0" width="3.3" height="3.3" fill="#71ffda"/><rect x="45.8" y="476.0" width="3.3" height="3.3" fill="#70ffd9"/><rect x="48.8" y="476.0" width="3.3" height="3.3" fill="#6fffd7"/><rect x="51.8" y="476.0" width="3.3" height="3.3" fill="#6effd6"/><rect x="54.8" y="476.0" width="3.3" height="3.3" fill="#6dffd4"/><rect x="57.8" y="476.0" width="3.3" height="3.3" fill="#6cffd2"/><rect x="60.8" y="476.0" width="3.3" height="3.3" fill="#6bffd0"/><rect x="63.8" y="476.0" width="3.3" height="3.3" fill="#6affcd"/><rect x="66.8" y="476.0" width="3.3" height="3.3" fill="#68ffcb"/><rect x="69.8" y="476.0" width="3.3" height="3.3" fill="#66ffc8"/><rect x="72.8" y="476.0" width="3.3" height="3.3" fill="#64ffc5"/><rect x="75.8" y="476.0" width="3.3" height="3.3" fill="#62ffc1"/><rect x="78.8" y="476.0" width="3.3" height="3.3" fill="#60ffbd"/><rect x="81.8" y="476.0" width="3.3" height="3.3" fill="#5dffb8"/><rect x="84.8" y="476.0" width="3.3" height="3.3" fill="#5affb2"/><rect x="87.8" y="476.0" width="3.3" height="3.3" fill="#56ffac"/><rect x="90.8" y="476.0" width="3.3" height="3.3" fill="#51ffa4"/><rect x="93.8" y="476.0" width="3.3" height="3.3" fill="#4bff9a"/><rect x="96.8" y="476.0" width="3.3" height="3.3" fill="#43ff8d"/><rect x="99.8" y="476.0" width="3.3" height="3.3" fill="#38ff7c"/><rect x="102.8" y="476.0" width="3.3" height="3.3" fill="#27ff62"/><rect x="105.8" y="476.0" width="3.3" height="3.3" fill="#19ff39"/><rect x="108.8" y="476.0" width="3.3" height="3.3" fill="#4dff2a"/><rect x="111.8" y="476.0" width="3.3" height="3.3" fill="#6aff12"/><rect x="114.8" y="476.0" width="3.3" height="3.3" fill="#83ff0f"/><rect x="117.8" y="476.0" width="3.3" height="3.3" fill="#98ff1c"/><rect x="120.8" y="476.0" width="3.3" height="3.3" fill="#aaff25"/><rect x="123.8" y="476.0" width="3.3" height="3.3" fill="#baff2c"/><rect x="126.8" y="476.0" width="3.3" height="3.3" fill="#c8ff32"/><rect x="129.8" y="476.0" width="3.3" height="3.3" fill="#d4ff38"/><rect x="132.8" y="476.0" width="3.3" height="3.3" fill="#e0ff3c"/><rect x="135.8" y="476.0" width="3.3" height="3.3" fill="#eaff40"/><rect x="138.8" y="476.0" width="3.3" height="3.3" fill="#f4ff44"/><rect x="141.8" y="476.0" width="3.3" height="3.3" fill="#feff48"/><rect x="144.8" y="476.0" width="3.3" height="3.3" fill="#fff849"/><rect x="147.8" y="476.0" width="3.3" height="3.3" fill="#fff049"/><rect x="150.8" y="476.0" width="3.3" height="3.3" fill="#ffe94a"/><rect x="153.8" y="476.0" width="3.3" height="3.3" fill="#ffe34a"/><rect x="156.8" y="476.0" width="3.3" height="3.3" fill="#ffde4a"/><rect x="159.8" y="476.0" width="3.3" height="3.3" fill="#ffd94b"/><rect x="162.8" y="476.0" width="3.3" height="3.3" fill="#ffd44b"/><rect x="165.8" y="476.0" width="3.3" height="3.3" fill="#ffd04b"/><rect x="168.8" y="476.0" width="3.3" height="3.3" fill="#ffcc4b"/><rect x="171.8" y="476.0" width="3.3" height="3.3" fill="#ffc84c"/><rect x="174.8" y="476.0" width="3.3" height="3.3" fill="#ffc44c"/><rect x="177.8" y="476.0" width="3.3" height="3.3" fill="#ffc14c"/><rect x="180.8" y="476.0" width="3.3" height="3.3" fill="#ffbe4c"/><rect x="183.8" y="476.0" width="3.3" height="3.3" fill="#ffbb4c"/><rect x="186.8" y="476.0" width="3.3" height="3.3" fill="#ffb84c"/><rect x="189.8" y="476.0" width="3.3" height="3.3" fill="#ffb64c"/><rect x="192.8" y="476.0" width="3.3" height="3.3" fill="#ffb34c"/><rect x="195.8" y="476.0" width="3.3" height="3.3" fill="#ffb14c"/><rect x="198.8" y="476.0" width="3.3" height="3.3" fill="#ffaf4d"/><rect x="201.8" y="476.0" width="3.3" height="3.3" fill="#ffad4d"/><rect x="204.8" y="476.0" width="3.3" height="3.3" fill="#ffab4d"/><rect x="207.8" y="476.0" width="3.3" height="3.3" fill="#ffa94d"/><rect x="39.8" y="479.0" width="3.3" height="3.3" fill="#72ffdd"/><rect x="42.8" y="479.0" width="3.3" height="3.3" fill="#71ffdc"/><rect x="45.8" y="479.0" width="3.3" height="3.3" fill="#71ffdb"/><rect x="48.8" y="479.0" width="3.3" height="3.3" fill="#70ffd9"/><rect x="51.8" y="479.0" width="3.3" height="3.3" fill="#6fffd8"/><rect x="54.8" y="479.0" width="3.3" height="3.3" fill="#6effd6"/><rect x="57.8" y="479.0" width="3.3" height="3.3" fill="#6cffd4"/><rect x="60.8" y="479.0" width="3.3" height="3.3" fill="#6bffd2"/><rect x="63.8" y="479.0" width="3.3" height="3.3" fill="#6affd0"/><rect x="66.8" y="479.0" width="3.3" height="3.3" fill="#68ffcd"/><rect x="69.8" y="479.0" width="3.3" height="3.3" fill="#66ffca"/><rect x="72.8" y="479.0" width="3.3" height="3.3" fill="#64ffc7"/><rect x="75.8" y="479.0" width="3.3" height="3.3" fill="#62ffc4"/><rect x="78.8" y="479.0" width="3.3" height="3.3" fill="#60ffc0"/><rect x="81.8" y="479.0" width="3.3" height="3.3" fill="#5dffbb"/><rect x="84.8" y="479.0" width="3.3" height="3.3" fill="#59ffb5"/><rect x="87.8" y="479.0" width="3.3" height="3.3" fill="#55ffaf"/><rect x="90.8" y="479.0" width="3.3" height="3.3" fill="#50ffa7"/><rect x="93.8" y="479.0" width="3.3" height="3.3" fill="#49ff9d"/><rect x="96.8" y="479.0" width="3.3" height="3.3" fill="#40ff90"/><rect x="99.8" y="479.0" width="3.3" height="3.3" fill="#34ff7e"/><rect x="102.8" y="479.0" width="3.3" height="3.3" fill="#1dff64"/><rect x="105.8" y="479.0" width="3.3" height="3.3" fill="#34ff4b"/><rect x="108.8" y="479.0" width="3.3" height="3.3" fill="#5aff42"/><rect x="111.8" y="479.0" width="3.3" height="3.3" fill="#74ff36"/><rect x="114.8" y="479.0" width="3.3" height="3.3" fill="#88ff25"/><rect x="117.8" y="479.0" width="3.3" height="3.3" fill="#9bff01"/><rect x="120.8" y="479.0" width="3.3" height="3.3" fill="#aeff16"/><rect x="123.8" y="479.0" width="3.3" height="3.3" fill="#beff21"/><rect x="126.8" y="479.0" width="3.3" height="3.3" fill="#cdff2a"/><rect x="129.8" y="479.0" width="3.3" height="3.3" fill="#daff31"/><rect x="132.8" y="479.0" width="3.3" height="3.3" fill="#e6ff36"/><rect x="135.8" y="479.0" width="3.3" height="3.3" fill="#f1ff3c"/><rect x="138.8" y="479.0" width="3.3" height="3.3" fill="#fbff40"/><rect x="141.8" y="479.0" width="3.3" height="3.3" fill="#fff943"/><rect x="144.8" y="479.0" width="3.3" height="3.3" fill="#fff144"/><rect x="147.8" y="479.0" width="3.3" height="3.3" fill="#ffe945"/><rect x="150.8" y="479.0" width="3.3" height="3.3" fill="#ffe345"/><rect x="153.8" y="479.0" width="3.3" height="3.3" fill="#ffdd46"/><rect x="156.8" y="479.0" width="3.3" height="3.3" fill="#ffd747"/><rect x="159.8" y="479.0" width="3.3" height="3.3" fill="#ffd247"/><rect x="162.8" y="479.0" width="3.3" height="3.3" fill="#ffce48"/><rect x="165.8" y="479.0" width="3.3" height="3.3" fill="#ffc948"/><rect x="168.8" y="479.0" width="3.3" height="3.3" fill="#ffc648"/><rect x="171.8" y="479.0" width="3.3" height="3.3" fill="#ffc249"/><rect x="174.8" y="479.0" width="3.3" height="3.3" fill="#ffbf49"/><rect x="177.8" y="479.0" width="3.3" height="3.3" fill="#ffbb49"/><rect x="180.8" y="479.0" width="3.3" height="3.3" fill="#ffb849"/><rect x="183.8" y="479.0" width="3.3" height="3.3" fill="#ffb64a"/><rect x="186.8" y="479.0" width="3.3" height="3.3" fill="#ffb34a"/><rect x="189.8" y="479.0" width="3.3" height="3.3" fill="#ffb14a"/><rect x="192.8" y="479.0" width="3.3" height="3.3" fill="#ffae4a"/><rect x="195.8" y="479.0" width="3.3" height="3.3" fill="#ffac4a"/><rect x="198.8" y="479.0" width="3.3" height="3.3" fill="#ffaa4b"/><rect x="201.8" y="479.0" width="3.3" height="3.3" fill="#ffa84b"/><rect x="204.8" y="479.0" width="3.3" height="3.3" fill="#ffa64b"/><rect x="207.8" y="479.0" width="3.3" height="3.3" fill="#ffa44b"/><rect x="39.8" y="482.0" width="3.3" height="3.3" fill="#72ffdf"/><rect x="42.8" y="482.0" width="3.3" height="3.3" fill="#72ffde"/><rect x="45.8" y="482.0" width="3.3" height="3.3" fill="#71ffdd"/><rect x="48.8" y="482.0" width="3.3" height="3.3" fill="#70ffdc"/><rect x="51.8" y="482.0" width="3.3" height="3.3" fill="#6fffda"/><rect x="54.8" y="482.0" width="3.3" height="3.3" fill="#6effd8"/><rect x="57.8" y="482.0" width="3.3" height="3.3" fill="#6dffd7"/><rect x="60.8" y="482.0" width="3.3" height="3.3" fill="#6bffd5"/><rect x="63.8" y="482.0" width="3.3" height="3.3" fill="#6affd2"/><rect x="66.8" y="482.0" width="3.3" height="3.3" fill="#68ffd0"/><rect x="69.8" y="482.0" width="3.3" height="3.3" fill="#67ffcd"/><rect x="72.8" y="482.0" width="3.3" height="3.3" fill="#64ffca"/><rect x="75.8" y="482.0" width="3.3" height="3.3" fill="#62ffc7"/><rect x="78.8" y="482.0" width="3.3" height="3.3" fill="#5fffc3"/><rect x="81.8" y="482.0" width="3.3" height="3.3" fill="#5cffbe"/><rect x="84.8" y="482.0" width="3.3" height="3.3" fill="#59ffb8"/><rect x="87.8" y="482.0" width="3.3" height="3.3" fill="#54ffb2"/><rect x="90.8" y="482.0" width="3.3" height="3.3" fill="#4effaa"/><rect x="93.8" y="482.0" width="3.3" height="3.3" fill="#47ffa0"/><rect x="96.8" y="482.0" width="3.3" height="3.3" fill="#3dff93"/><rect x="99.8" y="482.0" width="3.3" height="3.3" fill="#2eff81"/><rect x="102.8" y="482.0" width="3.3" height="3.3" fill="#0cff66"/><rect x="105.8" y="482.0" width="3.3" height="3.3" fill="#46ff5b"/><rect x="108.8" y="482.0" width="3.3" height="3.3" fill="#66ff53"/><rect x="111.8" y="482.0" width="3.3" height="3.3" fill="#7eff4b"/><rect x="114.8" y="482.0" width="3.3" height="3.3" fill="#92ff40"/><rect x="117.8" y="482.0" width="3.3" height="3.3" fill="#a3ff32"/><rect x="120.8" y="482.0" width="3.3" height="3.3" fill="#b3ff1d"/><rect x="123.8" y="482.0" width="3.3" height="3.3" fill="#c3ff0b"/><rect x="126.8" y="482.0" width="3.3" height="3.3" fill="#d2ff1c"/><rect x="129.8" y="482.0" width="3.3" height="3.3" fill="#e0ff26"/><rect x="132.8" y="482.0" width="3.3" height="3.3" fill="#edff2e"/><rect x="135.8" y="482.0" width="3.3" height="3.3" fill="#f8ff35"/><rect x="138.8" y="482.0" width="3.3" height="3.3" fill="#fffb3a"/><rect x="141.8" y="482.0" width="3.3" height="3.3" fill="#fff13c"/><rect x="144.8" y="482.0" width="3.3" height="3.3" fill="#ffe93e"/><rect x="147.8" y="482.0" width="3.3" height="3.3" fill="#ffe23f"/><rect x="150.8" y="482.0" width="3.3" height="3.3" fill="#ffdb40"/><rect x="153.8" y="482.0" width="3.3" height="3.3" fill="#ffd642"/><rect x="156.8" y="482.0" width="3.3" height="3.3" fill="#ffd042"/><rect x="159.8" y="482.0" width="3.3" height="3.3" fill="#ffcb43"/><rect x="162.8" y="482.0" width="3.3" height="3.3" fill="#ffc744"/><rect x="165.8" y="482.0" width="3.3" height="3.3" fill="#ffc345"/><rect x="168.8" y="482.0" width="3.3" height="3.3" fill="#ffbf45"/><rect x="171.8" y="482.0" width="3.3" height="3.3" fill="#ffbc46"/><rect x="174.8" y="482.0" width="3.3" height="3.3" fill="#ffb846"/><rect x="177.8" y="482.0" width="3.3" height="3.3" fill="#ffb546"/><rect x="180.8" y="482.0" width="3.3" height="3.3" fill="#ffb347"/><rect x="183.8" y="482.0" width="3.3" height="3.3" fill="#ffb047"/><rect x="186.8" y="482.0" width="3.3" height="3.3" fill="#ffad47"/><rect x="189.8" y="482.0" width="3.3" height="3.3" fill="#ffab48"/><rect x="192.8" y="482.0" width="3.3" height="3.3" fill="#ffa948"/><rect x="195.8" y="482.0" width="3.3" height="3.3" fill="#ffa748"/><rect x="198.8" y="482.0" width="3.3" height="3.3" fill="#ffa549"/><rect x="201.8" y="482.0" width="3.3" height="3.3" fill="#ffa349"/><rect x="204.8" y="482.0" width="3.3" height="3.3" fill="#ffa149"/><rect x="207.8" y="482.0" width="3.3" height="3.3" fill="#ff9f49"/><rect x="39.8" y="485.0" width="3.3" height="3.3" fill="#72ffe1"/><rect x="42.8" y="485.0" width="3.3" height="3.3" fill="#72ffe0"/><rect x="45.8" y="485.0" width="3.3" height="3.3" fill="#71ffdf"/><rect x="48.8" y="485.0" width="3.3" height="3.3" fill="#70ffde"/><rect x="51.8" y="485.0" width="3.3" height="3.3" fill="#6fffdc"/><rect x="54.8" y="485.0" width="3.3" height="3.3" fill="#6effdb"/><rect x="57.8" y="485.0" width="3.3" height="3.3" fill="#6dffd9"/><rect x="60.8" y="485.0" width="3.3" height="3.3" fill="#6cffd7"/><rect x="63.8" y="485.0" width="3.3" height="3.3" fill="#6affd5"/><rect x="66.8" y="485.0" width="3.3" height="3.3" fill="#68ffd3"/><rect x="69.8" y="485.0" width="3.3" height="3.3" fill="#67ffd0"/><rect x="72.8" y="485.0" width="3.3" height="3.3" fill="#65ffcd"/><rect x="75.8" y="485.0" width="3.3" height="3.3" fill="#62ffca"/><rect x="78.8" y="485.0" width="3.3" height="3.3" fill="#5fffc6"/><rect x="81.8" y="485.0" width="3.3" height="3.3" fill="#5cffc1"/><rect x="84.8" y="485.0" width="3.3" height="3.3" fill="#58ffbc"/><rect x="87.8" y="485.0" width="3.3" height="3.3" fill="#53ffb5"/><rect x="90.8" y="485.0" width="3.3" height="3.3" fill="#4dffae"/><rect x="93.8" y="485.0" width="3.3" height="3.3" fill="#45ffa4"/><rect x="96.8" y="485.0" width="3.3" height="3.3" fill="#3aff97"/><rect x="99.8" y="485.0" width="3.3" height="3.3" fill="#27ff84"/><rect x="102.8" y="485.0" width="3.3" height="3.3" fill="#22ff6e"/><rect x="105.8" y="485.0" width="3.3" height="3.3" fill="#54ff69"/><rect x="108.8" y="485.0" width="3.3" height="3.3" fill="#71ff63"/><rect x="111.8" y="485.0" width="3.3" height="3.3" fill="#88ff5c"/><rect x="114.8" y="485.0" width="3.3" height="3.3" fill="#9bff53"/><rect x="117.8" y="485.0" width="3.3" height="3.3" fill="#acff4a"/><rect x="120.8" y="485.0" width="3.3" height="3.3" fill="#bcff3e"/><rect x="123.8" y="485.0" width="3.3" height="3.3" fill="#cbff2e"/><rect x="126.8" y="485.0" width="3.3" height="3.3" fill="#d9ff0f"/><rect x="129.8" y="485.0" width="3.3" height="3.3" fill="#e8ff14"/><rect x="132.8" y="485.0" width="3.3" height="3.3" fill="#f5ff22"/><rect x="135.8" y="485.0" width="3.3" height="3.3" fill="#fffd2b"/><rect x="138.8" y="485.0" width="3.3" height="3.3" fill="#fff230"/><rect x="141.8" y="485.0" width="3.3" height="3.3" fill="#ffe934"/><rect x="144.8" y="485.0" width="3.3" height="3.3" fill="#ffe137"/><rect x="147.8" y="485.0" width="3.3" height="3.3" fill="#ffda39"/><rect x="150.8" y="485.0" width="3.3" height="3.3" fill="#ffd43b"/><rect x="153.8" y="485.0" width="3.3" height="3.3" fill="#ffce3c"/><rect x="156.8" y="485.0" width="3.3" height="3.3" fill="#ffc93e"/><rect x="159.8" y="485.0" width="3.3" height="3.3" fill="#ffc43f"/><rect x="162.8" y="485.0" width="3.3" height="3.3" fill="#ffc040"/><rect x="165.8" y="485.0" width="3.3" height="3.3" fill="#ffbc41"/><rect x="168.8" y="485.0" width="3.3" height="3.3" fill="#ffb842"/><rect x="171.8" y="485.0" width="3.3" height="3.3" fill="#ffb542"/><rect x="174.8" y="485.0" width="3.3" height="3.3" fill="#ffb243"/><rect x="177.8" y="485.0" width="3.3" height="3.3" fill="#ffaf44"/><rect x="180.8" y="485.0" width="3.3" height="3.3" fill="#ffac44"/><rect x="183.8" y="485.0" width="3.3" height="3.3" fill="#ffaa45"/><rect x="186.8" y="485.0" width="3.3" height="3.3" fill="#ffa745"/><rect x="189.8" y="485.0" width="3.3" height="3.3" fill="#ffa545"/><rect x="192.8" y="485.0" width="3.3" height="3.3" fill="#ffa346"/><rect x="195.8" y="485.0" width="3.3" height="3.3" fill="#ffa146"/><rect x="198.8" y="485.0" width="3.3" height="3.3" fill="#ff9f46"/><rect x="201.8" y="485.0" width="3.3" height="3.3" fill="#ff9d47"/><rect x="204.8" y="485.0" width="3.3" height="3.3" fill="#ff9b47"/><rect x="207.8" y="485.0" width="3.3" height="3.3" fill="#ff9a47"/><rect x="39.8" y="488.0" width="3.3" height="3.3" fill="#73ffe3"/><rect x="42.8" y="488.0" width="3.3" height="3.3" fill="#72ffe3"/><rect x="45.8" y="488.0" width="3.3" height="3.3" fill="#71ffe2"/><rect x="48.8" y="488.0" width="3.3" height="3.3" fill="#71ffe0"/><rect x="51.8" y="488.0" width="3.3" height="3.3" fill="#70ffdf"/><rect x="54.8" y="488.0" width="3.3" height="3.3" fill="#6effdd"/><rect x="57.8" y="488.0" width="3.3" height="3.3" fill="#6dffdc"/><rect x="60.8" y="488.0" width="3.3" height="3.3" fill="#6cffda"/><rect x="63.8" y="488.0" width="3.3" height="3.3" fill="#6affd8"/><rect x="66.8" y="488.0" width="3.3" height="3.3" fill="#69ffd6"/><rect x="69.8" y="488.0" width="3.3" height="3.3" fill="#67ffd3"/><rect x="72.8" y="488.0" width="3.3" height="3.3" fill="#65ffd0"/><rect x="75.8" y="488.0" width="3.3" height="3.3" fill="#62ffcd"/><rect x="78.8" y="488.0" width="3.3" height="3.3" fill="#5fffc9"/><rect x="81.8" y="488.0" width="3.3" height="3.3" fill="#5cffc5"/><rect x="84.8" y="488.0" width="3.3" height="3.3" fill="#57ffc0"/><rect x="87.8" y="488.0" width="3.3" height="3.3" fill="#52ffb9"/><rect x="90.8" y="488.0" width="3.3" height="3.3" fill="#4bffb1"/><rect x="93.8" y="488.0" width="3.3" height="3.3" fill="#42ffa8"/><rect x="96.8" y="488.0" width="3.3" height="3.3" fill="#35ff9a"/><rect x="99.8" y="488.0" width="3.3" height="3.3" fill="#1cff88"/><rect x="102.8" y="488.0" width="3.3" height="3.3" fill="#3bff7b"/><rect x="105.8" y="488.0" width="3.3" height="3.3" fill="#62ff76"/><rect x="108.8" y="488.0" width="3.3" height="3.3" fill="#7cff71"/><rect x="111.8" y="488.0" width="3.3" height="3.3" fill="#92ff6b"/><rect x="114.8" y="488.0" width="3.3" height="3.3" fill="#a5ff64"/><rect x="117.8" y="488.0" width="3.3" height="3.3" fill="#b6ff5c"/><rect x="120.8" y="488.0" width="3.3" height="3.3" fill="#c6ff54"/><rect x="123.8" y="488.0" width="3.3" height="3.3" fill="#d5ff49"/><rect x="126.8" y="488.0" width="3.3" height="3.3" fill="#e3ff3b"/><rect x="129.8" y="488.0" width="3.3" height="3.3" fill="#f1ff27"/><rect x="132.8" y="488.0" width="3.3" height="3.3" fill="#feff06"/><rect x="135.8" y="488.0" width="3.3" height="3.3" fill="#fff31a"/><rect x="138.8" y="488.0" width="3.3" height="3.3" fill="#ffe924"/><rect x="141.8" y="488.0" width="3.3" height="3.3" fill="#ffe02a"/><rect x="144.8" y="488.0" width="3.3" height="3.3" fill="#ffd82e"/><rect x="147.8" y="488.0" width="3.3" height="3.3" fill="#ffd132"/><rect x="150.8" y="488.0" width="3.3" height="3.3" fill="#ffcb35"/><rect x="153.8" y="488.0" width="3.3" height="3.3" fill="#ffc637"/><rect x="156.8" y="488.0" width="3.3" height="3.3" fill="#ffc139"/><rect x="159.8" y="488.0" width="3.3" height="3.3" fill="#ffbc3a"/><rect x="162.8" y="488.0" width="3.3" height="3.3" fill="#ffb83c"/><rect x="165.8" y="488.0" width="3.3" height="3.3" fill="#ffb53d"/><rect x="168.8" y="488.0" width="3.3" height="3.3" fill="#ffb13e"/><rect x="171.8" y="488.0" width="3.3" height="3.3" fill="#ffae3f"/><rect x="174.8" y="488.0" width="3.3" height="3.3" fill="#ffab40"/><rect x="177.8" y="488.0" width="3.3" height="3.3" fill="#ffa840"/><rect x="180.8" y="488.0" width="3.3" height="3.3" fill="#ffa641"/><rect x="183.8" y="488.0" width="3.3" height="3.3" fill="#ffa342"/><rect x="186.8" y="488.0" width="3.3" height="3.3" fill="#ffa142"/><rect x="189.8" y="488.0" width="3.3" height="3.3" fill="#ff9f43"/><rect x="192.8" y="488.0" width="3.3" height="3.3" fill="#ff9d43"/><rect x="195.8" y="488.0" width="3.3" height="3.3" fill="#ff9b44"/><rect x="198.8" y="488.0" width="3.3" height="3.3" fill="#ff9944"/><rect x="201.8" y="488.0" width="3.3" height="3.3" fill="#ff9745"/><rect x="204.8" y="488.0" width="3.3" height="3.3" fill="#ff9545"/><rect x="207.8" y="488.0" width="3.3" height="3.3" fill="#ff9445"/><rect x="39.8" y="491.0" width="3.3" height="3.3" fill="#73ffe6"/><rect x="42.8" y="491.0" width="3.3" height="3.3" fill="#73ffe5"/><rect x="45.8" y="491.0" width="3.3" height="3.3" fill="#72ffe4"/><rect x="48.8" y="491.0" width="3.3" height="3.3" fill="#71ffe3"/><rect x="51.8" y="491.0" width="3.3" height="3.3" fill="#70ffe2"/><rect x="54.8" y="491.0" width="3.3" height="3.3" fill="#6fffe0"/><rect x="57.8" y="491.0" width="3.3" height="3.3" fill="#6dffdf"/><rect x="60.8" y="491.0" width="3.3" height="3.3" fill="#6cffdd"/><rect x="63.8" y="491.0" width="3.3" height="3.3" fill="#6bffdb"/><rect x="66.8" y="491.0" width="3.3" height="3.3" fill="#69ffd9"/><rect x="69.8" y="491.0" width="3.3" height="3.3" fill="#67ffd6"/><rect x="72.8" y="491.0" width="3.3" height="3.3" fill="#65ffd4"/><rect x="75.8" y="491.0" width="3.3" height="3.3" fill="#62ffd1"/><rect x="78.8" y="491.0" width="3.3" height="3.3" fill="#5fffcd"/><rect x="81.8" y="491.0" width="3.3" height="3.3" fill="#5bffc9"/><rect x="84.8" y="491.0" width="3.3" height="3.3" fill="#57ffc4"/><rect x="87.8" y="491.0" width="3.3" height="3.3" fill="#51ffbd"/><rect x="90.8" y="491.0" width="3.3" height="3.3" fill="#4affb6"/><rect x="93.8" y="491.0" width="3.3" height="3.3" fill="#3fffac"/><rect x="96.8" y="491.0" width="3.3" height="3.3" fill="#2fff9f"/><rect x="99.8" y="491.0" width="3.3" height="3.3" fill="#06ff8c"/><rect x="102.8" y="491.0" width="3.3" height="3.3" fill="#4dff87"/><rect x="105.8" y="491.0" width="3.3" height="3.3" fill="#6eff83"/><rect x="108.8" y="491.0" width="3.3" height="3.3" fill="#87ff7e"/><rect x="111.8" y="491.0" width="3.3" height="3.3" fill="#9cff79"/><rect x="114.8" y="491.0" width="3.3" height="3.3" fill="#aeff73"/><rect x="117.8" y="491.0" width="3.3" height="3.3" fill="#bfff6d"/><rect x="120.8" y="491.0" width="3.3" height="3.3" fill="#cfff66"/><rect x="123.8" y="491.0" width="3.3" height="3.3" fill="#dfff5d"/><rect x="126.8" y="491.0" width="3.3" height="3.3" fill="#edff54"/><rect x="129.8" y="491.0" width="3.3" height="3.3" fill="#fbff48"/><rect x="132.8" y="491.0" width="3.3" height="3.3" fill="#fff535"/><rect x="135.8" y="491.0" width="3.3" height="3.3" fill="#ffe91a"/><rect x="138.8" y="491.0" width="3.3" height="3.3" fill="#ffdf0e"/><rect x="141.8" y="491.0" width="3.3" height="3.3" fill="#ffd61c"/><rect x="144.8" y="491.0" width="3.3" height="3.3" fill="#ffcf23"/><rect x="147.8" y="491.0" width="3.3" height="3.3" fill="#ffc829"/><rect x="150.8" y="491.0" width="3.3" height="3.3" fill="#ffc22d"/><rect x="153.8" y="491.0" width="3.3" height="3.3" fill="#ffbd30"/><rect x="156.8" y="491.0" width="3.3" height="3.3" fill="#ffb833"/><rect x="159.8" y="491.0" width="3.3" height="3.3" fill="#ffb435"/><rect x="162.8" y="491.0" width="3.3" height="3.3" fill="#ffb037"/><rect x="165.8" y="491.0" width="3.3" height="3.3" fill="#ffad38"/><rect x="168.8" y="491.0" width="3.3" height="3.3" fill="#ffa93a"/><rect x="171.8" y="491.0" width="3.3" height="3.3" fill="#ffa63b"/><rect x="174.8" y="491.0" width="3.3" height="3.3" fill="#ffa33c"/><rect x="177.8" y="491.0" width="3.3" height="3.3" fill="#ffa13d"/><rect x="180.8" y="491.0" width="3.3" height="3.3" fill="#ff9e3e"/><rect x="183.8" y="491.0" width="3.3" height="3.3" fill="#ff9c3f"/><rect x="186.8" y="491.0" width="3.3" height="3.3" fill="#ff9a3f"/><rect x="189.8" y="491.0" width="3.3" height="3.3" fill="#ff9840"/><rect x="192.8" y="491.0" width="3.3" height="3.3" fill="#ff9641"/><rect x="195.8" y="491.0" width="3.3" height="3.3" fill="#ff9441"/><rect x="198.8" y="491.0" width="3.3" height="3.3" fill="#ff9242"/><rect x="201.8" y="491.0" width="3.3" height="3.3" fill="#ff9142"/><rect x="204.8" y="491.0" width="3.3" height="3.3" fill="#ff8f43"/><rect x="207.8" y="491.0" width="3.3" height="3.3" fill="#ff8e43"/><rect x="39.8" y="494.0" width="3.3" height="3.3" fill="#73ffe8"/><rect x="42.8" y="494.0" width="3.3" height="3.3" fill="#73ffe7"/><rect x="45.8" y="494.0" width="3.3" height="3.3" fill="#72ffe6"/><rect x="48.8" y="494.0" width="3.3" height="3.3" fill="#71ffe5"/><rect x="51.8" y="494.0" width="3.3" height="3.3" fill="#70ffe4"/><rect x="54.8" y="494.0" width="3.3" height="3.3" fill="#6fffe3"/><rect x="57.8" y="494.0" width="3.3" height="3.3" fill="#6effe1"/><rect x="60.8" y="494.0" width="3.3" height="3.3" fill="#6cffe0"/><rect x="63.8" y="494.0" width="3.3" height="3.3" fill="#6bffde"/><rect x="66.8" y="494.0" width="3.3" height="3.3" fill="#69ffdc"/><rect x="69.8" y="494.0" width="3.3" height="3.3" fill="#67ffda"/><rect x="72.8" y="494.0" width="3.3" height="3.3" fill="#65ffd7"/><rect x="75.8" y="494.0" width="3.3" height="3.3" fill="#62ffd4"/><rect x="78.8" y="494.0" width="3.3" height="3.3" fill="#5fffd1"/><rect x="81.8" y="494.0" width="3.3" height="3.3" fill="#5bffcd"/><rect x="84.8" y="494.0" width="3.3" height="3.3" fill="#56ffc8"/><rect x="87.8" y="494.0" width="3.3" height="3.3" fill="#50ffc2"/><rect x="90.8" y="494.0" width="3.3" height="3.3" fill="#47ffba"/><rect x="93.8" y="494.0" width="3.3" height="3.3" fill="#3cffb1"/><rect x="96.8" y="494.0" width="3.3" height="3.3" fill="#27ffa4"/><rect x="99.8" y="494.0" width="3.3" height="3.3" fill="#2bff96"/><rect x="102.8" y="494.0" width="3.3" height="3.3" fill="#5cff93"/><rect x="105.8" y="494.0" width="3.3" height="3.3" fill="#7aff8f"/><rect x="108.8" y="494.0" width="3.3" height="3.3" fill="#92ff8b"/><rect x="111.8" y="494.0" width="3.3" height="3.3" fill="#a6ff86"/><rect x="114.8" y="494.0" width="3.3" height="3.3" fill="#b8ff81"/><rect x="117.8" y="494.0" width="3.3" height="3.3" fill="#caff7c"/><rect x="120.8" y="494.0" width="3.3" height="3.3" fill="#daff76"/><rect x="123.8" y="494.0" width="3.3" height="3.3" fill="#e9ff6f"/><rect x="126.8" y="494.0" width="3.3" height="3.3" fill="#f8ff68"/><rect x="129.8" y="494.0" width="3.3" height="3.3" fill="#fff85c"/><rect x="132.8" y="494.0" width="3.3" height="3.3" fill="#ffeb4c"/><rect x="135.8" y="494.0" width="3.3" height="3.3" fill="#ffdf3c"/><rect x="138.8" y="494.0" width="3.3" height="3.3" fill="#ffd528"/><rect x="141.8" y="494.0" width="3.3" height="3.3" fill="#ffcb05"/><rect x="144.8" y="494.0" width="3.3" height="3.3" fill="#ffc413"/><rect x="147.8" y="494.0" width="3.3" height="3.3" fill="#ffbe1d"/><rect x="150.8" y="494.0" width="3.3" height="3.3" fill="#ffb823"/><rect x="153.8" y="494.0" width="3.3" height="3.3" fill="#ffb328"/><rect x="156.8" y="494.0" width="3.3" height="3.3" fill="#ffaf2c"/><rect x="159.8" y="494.0" width="3.3" height="3.3" fill="#ffab2f"/><rect x="162.8" y="494.0" width="3.3" height="3.3" fill="#ffa731"/><rect x="165.8" y="494.0" width="3.3" height="3.3" fill="#ffa433"/><rect x="168.8" y="494.0" width="3.3" height="3.3" fill="#ffa135"/><rect x="171.8" y="494.0" width="3.3" height="3.3" fill="#ff9e37"/><rect x="174.8" y="494.0" width="3.3" height="3.3" fill="#ff9b38"/><rect x="177.8" y="494.0" width="3.3" height="3.3" fill="#ff9939"/><rect x="180.8" y="494.0" width="3.3" height="3.3" fill="#ff973b"/><rect x="183.8" y="494.0" width="3.3" height="3.3" fill="#ff943c"/><rect x="186.8" y="494.0" width="3.3" height="3.3" fill="#ff923c"/><rect x="189.8" y="494.0" width="3.3" height="3.3" fill="#ff913d"/><rect x="192.8" y="494.0" width="3.3" height="3.3" fill="#ff8f3e"/><rect x="195.8" y="494.0" width="3.3" height="3.3" fill="#ff8d3f"/><rect x="198.8" y="494.0" width="3.3" height="3.3" fill="#ff8c3f"/><rect x="201.8" y="494.0" width="3.3" height="3.3" fill="#ff8a40"/><rect x="204.8" y="494.0" width="3.3" height="3.3" fill="#ff8940"/><rect x="207.8" y="494.0" width="3.3" height="3.3" fill="#ff8741"/><rect x="39.8" y="497.0" width="3.3" height="3.3" fill="#74ffea"/><rect x="42.8" y="497.0" width="3.3" height="3.3" fill="#73ffea"/><rect x="45.8" y="497.0" width="3.3" height="3.3" fill="#72ffe9"/><rect x="48.8" y="497.0" width="3.3" height="3.3" fill="#72ffe8"/><rect x="51.8" y="497.0" width="3.3" height="3.3" fill="#71ffe7"/><rect x="54.8" y="497.0" width="3.3" height="3.3" fill="#6fffe6"/><rect x="57.8" y="497.0" width="3.3" height="3.3" fill="#6effe4"/><rect x="60.8" y="497.0" width="3.3" height="3.3" fill="#6dffe3"/><rect x="63.8" y="497.0" width="3.3" height="3.3" fill="#6bffe1"/><rect x="66.8" y="497.0" width="3.3" height="3.3" fill="#69ffe0"/><rect x="69.8" y="497.0" width="3.3" height="3.3" fill="#67ffdd"/><rect x="72.8" y="497.0" width="3.3" height="3.3" fill="#65ffdb"/><rect x="75.8" y="497.0" width="3.3" height="3.3" fill="#62ffd8"/><rect x="78.8" y="497.0" width="3.3" height="3.3" fill="#5effd5"/><rect x="81.8" y="497.0" width="3.3" height="3.3" fill="#5affd1"/><rect x="84.8" y="497.0" width="3.3" height="3.3" fill="#55ffcd"/><rect x="87.8" y="497.0" width="3.3" height="3.3" fill="#4effc7"/><rect x="90.8" y="497.0" width="3.3" height="3.3" fill="#45ffc0"/><rect x="93.8" y="497.0" width="3.3" height="3.3" fill="#37ffb6"/><rect x="96.8" y="497.0" width="3.3" height="3.3" fill="#1bffa9"/><rect x="99.8" y="497.0" width="3.3" height="3.3" fill="#43ffa2"/><rect x="102.8" y="497.0" width="3.3" height="3.3" fill="#6aff9e"/><rect x="105.8" y="497.0" width="3.3" height="3.3" fill="#86ff9b"/><rect x="108.8" y="497.0" width="3.3" height="3.3" fill="#9dff98"/><rect x="111.8" y="497.0" width="3.3" height="3.3" fill="#b1ff94"/><rect x="114.8" y="497.0" width="3.3" height="3.3" fill="#c3ff8f"/><rect x="117.8" y="497.0" width="3.3" height="3.3" fill="#d4ff8b"/><rect x="120.8" y="497.0" width="3.3" height="3.3" fill="#e5ff86"/><rect x="123.8" y="497.0" width="3.3" height="3.3" fill="#f4ff80"/><rect x="126.8" y="497.0" width="3.3" height="3.3" fill="#fffb77"/><rect x="129.8" y="497.0" width="3.3" height="3.3" fill="#ffed6a"/><rect x="132.8" y="497.0" width="3.3" height="3.3" fill="#ffe15c"/><rect x="135.8" y="497.0" width="3.3" height="3.3" fill="#ffd64f"/><rect x="138.8" y="497.0" width="3.3" height="3.3" fill="#ffcb41"/><rect x="141.8" y="497.0" width="3.3" height="3.3" fill="#ffc231"/><rect x="144.8" y="497.0" width="3.3" height="3.3" fill="#ffba1c"/><rect x="147.8" y="497.0" width="3.3" height="3.3" fill="#ffb206"/><rect x="150.8" y="497.0" width="3.3" height="3.3" fill="#ffad15"/><rect x="153.8" y="497.0" width="3.3" height="3.3" fill="#ffa91e"/><rect x="156.8" y="497.0" width="3.3" height="3.3" fill="#ffa523"/><rect x="159.8" y="497.0" width="3.3" height="3.3" fill="#ffa127"/><rect x="162.8" y="497.0" width="3.3" height="3.3" fill="#ff9d2b"/><rect x="165.8" y="497.0" width="3.3" height="3.3" fill="#ff9a2e"/><rect x="168.8" y="497.0" width="3.3" height="3.3" fill="#ff9830"/><rect x="171.8" y="497.0" width="3.3" height="3.3" fill="#ff9532"/><rect x="174.8" y="497.0" width="3.3" height="3.3" fill="#ff9334"/><rect x="177.8" y="497.0" width="3.3" height="3.3" fill="#ff9035"/><rect x="180.8" y="497.0" width="3.3" height="3.3" fill="#ff8e37"/><rect x="183.8" y="497.0" width="3.3" height="3.3" fill="#ff8c38"/><rect x="186.8" y="497.0" width="3.3" height="3.3" fill="#ff8a39"/><rect x="189.8" y="497.0" width="3.3" height="3.3" fill="#ff893a"/><rect x="192.8" y="497.0" width="3.3" height="3.3" fill="#ff873b"/><rect x="195.8" y="497.0" width="3.3" height="3.3" fill="#ff863c"/><rect x="198.8" y="497.0" width="3.3" height="3.3" fill="#ff843d"/><rect x="201.8" y="497.0" width="3.3" height="3.3" fill="#ff833d"/><rect x="204.8" y="497.0" width="3.3" height="3.3" fill="#ff813e"/><rect x="207.8" y="497.0" width="3.3" height="3.3" fill="#ff803f"/><rect x="39.8" y="500.0" width="6.3" height="3.3" fill="#74ffed"/><rect x="45.8" y="500.0" width="3.3" height="3.3" fill="#73ffec"/><rect x="48.8" y="500.0" width="3.3" height="3.3" fill="#72ffeb"/><rect x="51.8" y="500.0" width="3.3" height="3.3" fill="#71ffea"/><rect x="54.8" y="500.0" width="3.3" height="3.3" fill="#70ffe9"/><rect x="57.8" y="500.0" width="3.3" height="3.3" fill="#6effe8"/><rect x="60.8" y="500.0" width="3.3" height="3.3" fill="#6dffe6"/><rect x="63.8" y="500.0" width="3.3" height="3.3" fill="#6bffe5"/><rect x="66.8" y="500.0" width="3.3" height="3.3" fill="#69ffe3"/><rect x="69.8" y="500.0" width="3.3" height="3.3" fill="#67ffe1"/><rect x="72.8" y="500.0" width="3.3" height="3.3" fill="#65ffdf"/><rect x="75.8" y="500.0" width="3.3" height="3.3" fill="#62ffdd"/><rect x="78.8" y="500.0" width="3.3" height="3.3" fill="#5effda"/><rect x="81.8" y="500.0" width="3.3" height="3.3" fill="#5affd6"/><rect x="84.8" y="500.0" width="3.3" height="3.3" fill="#54ffd2"/><rect x="87.8" y="500.0" width="3.3" height="3.3" fill="#4cffcc"/><rect x="90.8" y="500.0" width="3.3" height="3.3" fill="#42ffc5"/><rect x="93.8" y="500.0" width="3.3" height="3.3" fill="#31ffbc"/><rect x="96.8" y="500.0" width="3.3" height="3.3" fill="#03ffb0"/><rect x="99.8" y="500.0" width="3.3" height="3.3" fill="#55ffad"/><rect x="102.8" y="500.0" width="3.3" height="3.3" fill="#78ffaa"/><rect x="105.8" y="500.0" width="3.3" height="3.3" fill="#92ffa8"/><rect x="108.8" y="500.0" width="3.3" height="3.3" fill="#a8ffa4"/><rect x="111.8" y="500.0" width="3.3" height="3.3" fill="#bcffa1"/><rect x="114.8" y="500.0" width="3.3" height="3.3" fill="#ceff9d"/><rect x="117.8" y="500.0" width="3.3" height="3.3" fill="#dfff99"/><rect x="120.8" y="500.0" width="3.3" height="3.3" fill="#f0ff95"/><rect x="123.8" y="500.0" width="3.3" height="3.3" fill="#fffe90"/><rect x="126.8" y="500.0" width="3.3" height="3.3" fill="#ffef82"/><rect x="129.8" y="500.0" width="3.3" height="3.3" fill="#ffe275"/><rect x="132.8" y="500.0" width="3.3" height="3.3" fill="#ffd669"/><rect x="135.8" y="500.0" width="3.3" height="3.3" fill="#ffcc5d"/><rect x="138.8" y="500.0" width="3.3" height="3.3" fill="#ffc251"/><rect x="141.8" y="500.0" width="3.3" height="3.3" fill="#ffb945"/><rect x="144.8" y="500.0" width="3.3" height="3.3" fill="#ffb137"/><rect x="147.8" y="500.0" width="3.3" height="3.3" fill="#ffa927"/><rect x="150.8" y="500.0" width="3.3" height="3.3" fill="#ffa20f"/><rect x="153.8" y="500.0" width="3.3" height="3.3" fill="#ff9d0c"/><rect x="156.8" y="500.0" width="3.3" height="3.3" fill="#ff9917"/><rect x="159.8" y="500.0" width="3.3" height="3.3" fill="#ff961e"/><rect x="162.8" y="500.0" width="3.3" height="3.3" fill="#ff9323"/><rect x="165.8" y="500.0" width="3.3" height="3.3" fill="#ff9027"/><rect x="168.8" y="500.0" width="3.3" height="3.3" fill="#ff8d2a"/><rect x="171.8" y="500.0" width="3.3" height="3.3" fill="#ff8b2d"/><rect x="174.8" y="500.0" width="3.3" height="3.3" fill="#ff892f"/><rect x="177.8" y="500.0" width="3.3" height="3.3" fill="#ff8731"/><rect x="180.8" y="500.0" width="3.3" height="3.3" fill="#ff8533"/><rect x="183.8" y="500.0" width="3.3" height="3.3" fill="#ff8334"/><rect x="186.8" y="500.0" width="3.3" height="3.3" fill="#ff8236"/><rect x="189.8" y="500.0" width="3.3" height="3.3" fill="#ff8037"/><rect x="192.8" y="500.0" width="3.3" height="3.3" fill="#ff7f38"/><rect x="195.8" y="500.0" width="3.3" height="3.3" fill="#ff7d39"/><rect x="198.8" y="500.0" width="3.3" height="3.3" fill="#ff7c3a"/><rect x="201.8" y="500.0" width="3.3" height="3.3" fill="#ff7b3b"/><rect x="204.8" y="500.0" width="3.3" height="3.3" fill="#ff7a3b"/><rect x="207.8" y="500.0" width="3.3" height="3.3" fill="#ff793c"/><rect x="39.8" y="503.0" width="3.3" height="3.3" fill="#75fff0"/><rect x="42.8" y="503.0" width="3.3" height="3.3" fill="#74ffef"/><rect x="45.8" y="503.0" width="3.3" height="3.3" fill="#73ffef"/><rect x="48.8" y="503.0" width="3.3" height="3.3" fill="#72ffee"/><rect x="51.8" y="503.0" width="3.3" height="3.3" fill="#71ffed"/><rect x="54.8" y="503.0" width="3.3" height="3.3" fill="#70ffec"/><rect x="57.8" y="503.0" width="3.3" height="3.3" fill="#6fffeb"/><rect x="60.8" y="503.0" width="3.3" height="3.3" fill="#6dffea"/><rect x="63.8" y="503.0" width="3.3" height="3.3" fill="#6cffe9"/><rect x="66.8" y="503.0" width="3.3" height="3.3" fill="#6affe7"/><rect x="69.8" y="503.0" width="3.3" height="3.3" fill="#67ffe5"/><rect x="72.8" y="503.0" width="3.3" height="3.3" fill="#65ffe3"/><rect x="75.8" y="503.0" width="3.3" height="3.3" fill="#62ffe1"/><rect x="78.8" y="503.0" width="3.3" height="3.3" fill="#5effde"/><rect x="81.8" y="503.0" width="3.3" height="3.3" fill="#59ffdb"/><rect x="84.8" y="503.0" width="3.3" height="3.3" fill="#53ffd7"/><rect x="87.8" y="503.0" width="3.3" height="3.3" fill="#4affd2"/><rect x="90.8" y="503.0" width="3.3" height="3.3" fill="#3effcc"/><rect x="93.8" y="503.0" width="3.3" height="3.3" fill="#28ffc3"/><rect x="96.8" y="503.0" width="3.3" height="3.3" fill="#34ffbb"/><rect x="99.8" y="503.0" width="3.3" height="3.3" fill="#65ffb9"/><rect x="102.8" y="503.0" width="3.3" height="3.3" fill="#85ffb7"/><rect x="105.8" y="503.0" width="3.3" height="3.3" fill="#9effb4"/><rect x="108.8" y="503.0" width="3.3" height="3.3" fill="#b3ffb2"/><rect x="111.8" y="503.0" width="3.3" height="3.3" fill="#c7ffaf"/><rect x="114.8" y="503.0" width="3.3" height="3.3" fill="#daffac"/><rect x="117.8" y="503.0" width="3.3" height="3.3" fill="#ecffa8"/><rect x="120.8" y="503.0" width="3.3" height="3.3" fill="#fdffa5"/><rect x="123.8" y="503.0" width="3.3" height="3.3" fill="#fff298"/><rect x="126.8" y="503.0" width="3.3" height="3.3" fill="#ffe48b"/><rect x="129.8" y="503.0" width="3.3" height="3.3" fill="#ffd77f"/><rect x="132.8" y="503.0" width="3.3" height="3.3" fill="#ffcc73"/><rect x="135.8" y="503.0" width="3.3" height="3.3" fill="#ffc268"/><rect x="138.8" y="503.0" width="3.3" height="3.3" fill="#ffb95d"/><rect x="141.8" y="503.0" width="3.3" height="3.3" fill="#ffb053"/><rect x="144.8" y="503.0" width="3.3" height="3.3" fill="#ffa848"/><rect x="147.8" y="503.0" width="3.3" height="3.3" fill="#ffa03c"/><rect x="150.8" y="503.0" width="3.3" height="3.3" fill="#ff992f"/><rect x="153.8" y="503.0" width="3.3" height="3.3" fill="#ff921e"/><rect x="156.8" y="503.0" width="3.3" height="3.3" fill="#ff8c01"/><rect x="159.8" y="503.0" width="3.3" height="3.3" fill="#ff8910"/><rect x="162.8" y="503.0" width="3.3" height="3.3" fill="#ff8619"/><rect x="165.8" y="503.0" width="3.3" height="3.3" fill="#ff841f"/><rect x="168.8" y="503.0" width="3.3" height="3.3" fill="#ff8223"/><rect x="171.8" y="503.0" width="3.3" height="3.3" fill="#ff8027"/><rect x="174.8" y="503.0" width="3.3" height="3.3" fill="#ff7e2a"/><rect x="177.8" y="503.0" width="3.3" height="3.3" fill="#ff7c2c"/><rect x="180.8" y="503.0" width="3.3" height="3.3" fill="#ff7b2e"/><rect x="183.8" y="503.0" width="3.3" height="3.3" fill="#ff7930"/><rect x="186.8" y="503.0" width="3.3" height="3.3" fill="#ff7832"/><rect x="189.8" y="503.0" width="3.3" height="3.3" fill="#ff7633"/><rect x="192.8" y="503.0" width="3.3" height="3.3" fill="#ff7535"/><rect x="195.8" y="503.0" width="3.3" height="3.3" fill="#ff7436"/><rect x="198.8" y="503.0" width="3.3" height="3.3" fill="#ff7337"/><rect x="201.8" y="503.0" width="3.3" height="3.3" fill="#ff7238"/><rect x="204.8" y="503.0" width="3.3" height="3.3" fill="#ff7139"/><rect x="207.8" y="503.0" width="3.3" height="3.3" fill="#ff703a"/><rect x="39.8" y="506.0" width="6.3" height="3.3" fill="#75fff2"/><rect x="45.8" y="506.0" width="3.3" height="3.3" fill="#74fff2"/><rect x="48.8" y="506.0" width="3.3" height="3.3" fill="#73fff1"/><rect x="51.8" y="506.0" width="3.3" height="3.3" fill="#72fff0"/><rect x="54.8" y="506.0" width="3.3" height="3.3" fill="#71ffef"/><rect x="57.8" y="506.0" width="3.3" height="3.3" fill="#6fffee"/><rect x="60.8" y="506.0" width="3.3" height="3.3" fill="#6effee"/><rect x="63.8" y="506.0" width="3.3" height="3.3" fill="#6cffec"/><rect x="66.8" y="506.0" width="3.3" height="3.3" fill="#6affeb"/><rect x="69.8" y="506.0" width="3.3" height="3.3" fill="#68ffea"/><rect x="72.8" y="506.0" width="3.3" height="3.3" fill="#65ffe8"/><rect x="75.8" y="506.0" width="3.3" height="3.3" fill="#62ffe6"/><rect x="78.8" y="506.0" width="3.3" height="3.3" fill="#5dffe4"/><rect x="81.8" y="506.0" width="3.3" height="3.3" fill="#58ffe1"/><rect x="84.8" y="506.0" width="3.3" height="3.3" fill="#51ffdd"/><rect x="87.8" y="506.0" width="3.3" height="3.3" fill="#48ffd9"/><rect x="90.8" y="506.0" width="3.3" height="3.3" fill="#39ffd3"/><rect x="93.8" y="506.0" width="3.3" height="3.3" fill="#1affcb"/><rect x="96.8" y="506.0" width="3.3" height="3.3" fill="#4cffc7"/><rect x="99.8" y="506.0" width="3.3" height="3.3" fill="#74ffc5"/><rect x="102.8" y="506.0" width="3.3" height="3.3" fill="#92ffc4"/><rect x="105.8" y="506.0" width="3.3" height="3.3" fill="#aaffc1"/><rect x="108.8" y="506.0" width="3.3" height="3.3" fill="#c0ffbf"/><rect x="111.8" y="506.0" width="3.3" height="3.3" fill="#d4ffbd"/><rect x="114.8" y="506.0" width="3.3" height="3.3" fill="#e6ffba"/><rect x="117.8" y="506.0" width="3.3" height="3.3" fill="#f9ffb7"/><rect x="120.8" y="506.0" width="3.3" height="3.3" fill="#fff4ad"/><rect x="123.8" y="506.0" width="3.3" height="3.3" fill="#ffe59f"/><rect x="126.8" y="506.0" width="3.3" height="3.3" fill="#ffd892"/><rect x="129.8" y="506.0" width="3.3" height="3.3" fill="#ffcc87"/><rect x="132.8" y="506.0" width="3.3" height="3.3" fill="#ffc27c"/><rect x="135.8" y="506.0" width="3.3" height="3.3" fill="#ffb872"/><rect x="138.8" y="506.0" width="3.3" height="3.3" fill="#ffaf68"/><rect x="141.8" y="506.0" width="3.3" height="3.3" fill="#ffa65e"/><rect x="144.8" y="506.0" width="3.3" height="3.3" fill="#ff9f54"/><rect x="147.8" y="506.0" width="3.3" height="3.3" fill="#ff974a"/><rect x="150.8" y="506.0" width="3.3" height="3.3" fill="#ff9040"/><rect x="153.8" y="506.0" width="3.3" height="3.3" fill="#ff8934"/><rect x="156.8" y="506.0" width="3.3" height="3.3" fill="#ff8327"/><rect x="159.8" y="506.0" width="3.3" height="3.3" fill="#ff7c14"/><rect x="162.8" y="506.0" width="3.3" height="3.3" fill="#ff7807"/><rect x="165.8" y="506.0" width="3.3" height="3.3" fill="#ff7613"/><rect x="168.8" y="506.0" width="3.3" height="3.3" fill="#ff741a"/><rect x="171.8" y="506.0" width="3.3" height="3.3" fill="#ff731f"/><rect x="174.8" y="506.0" width="3.3" height="3.3" fill="#ff7123"/><rect x="177.8" y="506.0" width="3.3" height="3.3" fill="#ff7026"/><rect x="180.8" y="506.0" width="3.3" height="3.3" fill="#ff6f29"/><rect x="183.8" y="506.0" width="3.3" height="3.3" fill="#ff6e2b"/><rect x="186.8" y="506.0" width="3.3" height="3.3" fill="#ff6d2d"/><rect x="189.8" y="506.0" width="3.3" height="3.3" fill="#ff6c2f"/><rect x="192.8" y="506.0" width="3.3" height="3.3" fill="#ff6b31"/><rect x="195.8" y="506.0" width="3.3" height="3.3" fill="#ff6a32"/><rect x="198.8" y="506.0" width="3.3" height="3.3" fill="#ff6934"/><rect x="201.8" y="506.0" width="3.3" height="3.3" fill="#ff6835"/><rect x="204.8" y="506.0" width="3.3" height="3.3" fill="#ff6736"/><rect x="207.8" y="506.0" width="3.3" height="3.3" fill="#ff6737"/><rect x="39.8" y="509.0" width="6.3" height="3.3" fill="#75fff5"/><rect x="45.8" y="509.0" width="3.3" height="3.3" fill="#74fff5"/><rect x="48.8" y="509.0" width="3.3" height="3.3" fill="#73fff4"/><rect x="51.8" y="509.0" width="3.3" height="3.3" fill="#72fff4"/><rect x="54.8" y="509.0" width="3.3" height="3.3" fill="#71fff3"/><rect x="57.8" y="509.0" width="3.3" height="3.3" fill="#70fff2"/><rect x="60.8" y="509.0" width="3.3" height="3.3" fill="#6efff1"/><rect x="63.8" y="509.0" width="3.3" height="3.3" fill="#6cfff1"/><rect x="66.8" y="509.0" width="3.3" height="3.3" fill="#6afff0"/><rect x="69.8" y="509.0" width="3.3" height="3.3" fill="#68ffee"/><rect x="72.8" y="509.0" width="3.3" height="3.3" fill="#65ffed"/><rect x="75.8" y="509.0" width="3.3" height="3.3" fill="#61ffeb"/><rect x="78.8" y="509.0" width="3.3" height="3.3" fill="#5dffe9"/><rect x="81.8" y="509.0" width="3.3" height="3.3" fill="#57ffe7"/><rect x="84.8" y="509.0" width="3.3" height="3.3" fill="#50ffe4"/><rect x="87.8" y="509.0" width="3.3" height="3.3" fill="#45ffe0"/><rect x="90.8" y="509.0" width="3.3" height="3.3" fill="#32ffdb"/><rect x="93.8" y="509.0" width="3.3" height="3.3" fill="#17ffd5"/><rect x="96.8" y="509.0" width="3.3" height="3.3" fill="#5fffd4"/><rect x="99.8" y="509.0" width="3.3" height="3.3" fill="#83ffd2"/><rect x="102.8" y="509.0" width="3.3" height="3.3" fill="#9fffd1"/><rect x="105.8" y="509.0" width="3.3" height="3.3" fill="#b7ffcf"/><rect x="108.8" y="509.0" width="3.3" height="3.3" fill="#cdffcd"/><rect x="111.8" y="509.0" width="3.3" height="3.3" fill="#e1ffcc"/><rect x="114.8" y="509.0" width="3.3" height="3.3" fill="#f4ffca"/><rect x="117.8" y="509.0" width="3.3" height="3.3" fill="#fff8c1"/><rect x="120.8" y="509.0" width="3.3" height="3.3" fill="#ffe7b2"/><rect x="123.8" y="509.0" width="3.3" height="3.3" fill="#ffd9a5"/><rect x="126.8" y="509.0" width="3.3" height="3.3" fill="#ffcd99"/><rect x="129.8" y="509.0" width="3.3" height="3.3" fill="#ffc18e"/><rect x="132.8" y="509.0" width="3.3" height="3.3" fill="#ffb783"/><rect x="135.8" y="509.0" width="3.3" height="3.3" fill="#ffae7a"/><rect x="138.8" y="509.0" width="3.3" height="3.3" fill="#ffa570"/><rect x="141.8" y="509.0" width="3.3" height="3.3" fill="#ff9d67"/><rect x="144.8" y="509.0" width="3.3" height="3.3" fill="#ff955e"/><rect x="147.8" y="509.0" width="3.3" height="3.3" fill="#ff8e55"/><rect x="150.8" y="509.0" width="3.3" height="3.3" fill="#ff874c"/><rect x="153.8" y="509.0" width="3.3" height="3.3" fill="#ff8043"/><rect x="156.8" y="509.0" width="3.3" height="3.3" fill="#ff7939"/><rect x="159.8" y="509.0" width="3.3" height="3.3" fill="#ff732d"/><rect x="162.8" y="509.0" width="3.3" height="3.3" fill="#ff6d1f"/><rect x="165.8" y="509.0" width="3.3" height="3.3" fill="#ff6707"/><rect x="168.8" y="509.0" width="3.3" height="3.3" fill="#ff650b"/><rect x="171.8" y="509.0" width="3.3" height="3.3" fill="#ff6415"/><rect x="174.8" y="509.0" width="3.3" height="3.3" fill="#ff631b"/><rect x="177.8" y="509.0" width="3.3" height="3.3" fill="#ff621f"/><rect x="180.8" y="509.0" width="3.3" height="3.3" fill="#ff6123"/><rect x="183.8" y="509.0" width="3.3" height="3.3" fill="#ff6026"/><rect x="186.8" y="509.0" width="3.3" height="3.3" fill="#ff6029"/><rect x="189.8" y="509.0" width="3.3" height="3.3" fill="#ff5f2b"/><rect x="192.8" y="509.0" width="3.3" height="3.3" fill="#ff5e2d"/><rect x="195.8" y="509.0" width="3.3" height="3.3" fill="#ff5e2e"/><rect x="198.8" y="509.0" width="3.3" height="3.3" fill="#ff5d30"/><rect x="201.8" y="509.0" width="3.3" height="3.3" fill="#ff5d31"/><rect x="204.8" y="509.0" width="3.3" height="3.3" fill="#ff5c33"/><rect x="207.8" y="509.0" width="3.3" height="3.3" fill="#ff5c34"/><rect x="39.8" y="512.0" width="6.3" height="3.3" fill="#76fff8"/><rect x="45.8" y="512.0" width="3.3" height="3.3" fill="#75fff8"/><rect x="48.8" y="512.0" width="3.3" height="3.3" fill="#74fff7"/><rect x="51.8" y="512.0" width="3.3" height="3.3" fill="#73fff7"/><rect x="54.8" y="512.0" width="3.3" height="3.3" fill="#71fff7"/><rect x="57.8" y="512.0" width="3.3" height="3.3" fill="#70fff6"/><rect x="60.8" y="512.0" width="3.3" height="3.3" fill="#6efff6"/><rect x="63.8" y="512.0" width="3.3" height="3.3" fill="#6dfff5"/><rect x="66.8" y="512.0" width="3.3" height="3.3" fill="#6bfff4"/><rect x="69.8" y="512.0" width="3.3" height="3.3" fill="#68fff3"/><rect x="72.8" y="512.0" width="3.3" height="3.3" fill="#65fff2"/><rect x="75.8" y="512.0" width="3.3" height="3.3" fill="#61fff1"/><rect x="78.8" y="512.0" width="3.3" height="3.3" fill="#5dfff0"/><rect x="81.8" y="512.0" width="3.3" height="3.3" fill="#56ffee"/><rect x="84.8" y="512.0" width="3.3" height="3.3" fill="#4effec"/><rect x="87.8" y="512.0" width="3.3" height="3.3" fill="#41ffe9"/><rect x="90.8" y="512.0" width="3.3" height="3.3" fill="#29ffe5"/><rect x="93.8" y="512.0" width="3.3" height="3.3" fill="#3effe2"/><rect x="96.8" y="512.0" width="3.3" height="3.3" fill="#70ffe1"/><rect x="99.8" y="512.0" width="3.3" height="3.3" fill="#92ffe0"/><rect x="102.8" y="512.0" width="3.3" height="3.3" fill="#adffdf"/><rect x="105.8" y="512.0" width="3.3" height="3.3" fill="#c4ffde"/><rect x="108.8" y="512.0" width="3.3" height="3.3" fill="#daffdd"/><rect x="111.8" y="512.0" width="3.3" height="3.3" fill="#efffdb"/><rect x="114.8" y="512.0" width="3.3" height="3.3" fill="#fffbd7"/><rect x="117.8" y="512.0" width="3.3" height="3.3" fill="#ffeac6"/><rect x="120.8" y="512.0" width="3.3" height="3.3" fill="#ffdbb8"/><rect x="123.8" y="512.0" width="3.3" height="3.3" fill="#ffcdab"/><rect x="126.8" y="512.0" width="3.3" height="3.3" fill="#ffc19f"/><rect x="129.8" y="512.0" width="3.3" height="3.3" fill="#ffb694"/><rect x="132.8" y="512.0" width="3.3" height="3.3" fill="#ffac8a"/><rect x="135.8" y="512.0" width="3.3" height="3.3" fill="#ffa381"/><rect x="138.8" y="512.0" width="3.3" height="3.3" fill="#ff9b78"/><rect x="141.8" y="512.0" width="3.3" height="3.3" fill="#ff936f"/><rect x="144.8" y="512.0" width="3.3" height="3.3" fill="#ff8b67"/><rect x="147.8" y="512.0" width="3.3" height="3.3" fill="#ff845f"/><rect x="150.8" y="512.0" width="3.3" height="3.3" fill="#ff7d56"/><rect x="153.8" y="512.0" width="3.3" height="3.3" fill="#ff764e"/><rect x="156.8" y="512.0" width="3.3" height="3.3" fill="#ff6f45"/><rect x="159.8" y="512.0" width="3.3" height="3.3" fill="#ff693c"/><rect x="162.8" y="512.0" width="3.3" height="3.3" fill="#ff6232"/><rect x="165.8" y="512.0" width="3.3" height="3.3" fill="#ff5c26"/><rect x="168.8" y="512.0" width="3.3" height="3.3" fill="#ff5517"/><rect x="171.8" y="512.0" width="3.3" height="3.3" fill="#ff5003"/><rect x="174.8" y="512.0" width="3.3" height="3.3" fill="#ff500f"/><rect x="177.8" y="512.0" width="3.3" height="3.3" fill="#ff5016"/><rect x="180.8" y="512.0" width="3.3" height="3.3" fill="#ff501b"/><rect x="183.8" y="512.0" width="3.3" height="3.3" fill="#ff501f"/><rect x="186.8" y="512.0" width="3.3" height="3.3" fill="#ff5023"/><rect x="189.8" y="512.0" width="3.3" height="3.3" fill="#ff5026"/><rect x="192.8" y="512.0" width="3.3" height="3.3" fill="#ff5028"/><rect x="195.8" y="512.0" width="3.3" height="3.3" fill="#ff502a"/><rect x="198.8" y="512.0" width="3.3" height="3.3" fill="#ff502c"/><rect x="201.8" y="512.0" width="3.3" height="3.3" fill="#ff4f2e"/><rect x="204.8" y="512.0" width="3.3" height="3.3" fill="#ff4f2f"/><rect x="207.8" y="512.0" width="3.3" height="3.3" fill="#ff4f31"/><rect x="39.8" y="515.0" width="6.3" height="3.3" fill="#76fffb"/><rect x="45.8" y="515.0" width="3.3" height="3.3" fill="#75fffb"/><rect x="48.8" y="515.0" width="3.3" height="3.3" fill="#74fffb"/><rect x="51.8" y="515.0" width="3.3" height="3.3" fill="#73fffb"/><rect x="54.8" y="515.0" width="3.3" height="3.3" fill="#72fffb"/><rect x="57.8" y="515.0" width="3.3" height="3.3" fill="#71fffa"/><rect x="60.8" y="515.0" width="3.3" height="3.3" fill="#6ffffa"/><rect x="63.8" y="515.0" width="3.3" height="3.3" fill="#6dfffa"/><rect x="66.8" y="515.0" width="3.3" height="3.3" fill="#6bfff9"/><rect x="69.8" y="515.0" width="3.3" height="3.3" fill="#68fff9"/><rect x="72.8" y="515.0" width="3.3" height="3.3" fill="#65fff8"/><rect x="75.8" y="515.0" width="3.3" height="3.3" fill="#61fff8"/><rect x="78.8" y="515.0" width="3.3" height="3.3" fill="#5cfff7"/><rect x="81.8" y="515.0" width="3.3" height="3.3" fill="#55fff6"/><rect x="84.8" y="515.0" width="3.3" height="3.3" fill="#4bfff5"/><rect x="87.8" y="515.0" width="3.3" height="3.3" fill="#3cfff3"/><rect x="90.8" y="515.0" width="3.3" height="3.3" fill="#18fff1"/><rect x="93.8" y="515.0" width="3.3" height="3.3" fill="#57fff0"/><rect x="96.8" y="515.0" width="3.3" height="3.3" fill="#81ffef"/><rect x="99.8" y="515.0" width="3.3" height="3.3" fill="#a0ffef"/><rect x="102.8" y="515.0" width="3.3" height="3.3" fill="#bbffee"/><rect x="105.8" y="515.0" width="3.3" height="3.3" fill="#d3ffed"/><rect x="108.8" y="515.0" width="3.3" height="3.3" fill="#e9ffed"/><rect x="111.8" y="515.0" width="3.3" height="3.3" fill="#feffec"/><rect x="114.8" y="515.0" width="3.3" height="3.3" fill="#ffecda"/><rect x="117.8" y="515.0" width="3.3" height="3.3" fill="#ffdcca"/><rect x="120.8" y="515.0" width="3.3" height="3.3" fill="#ffcebc"/><rect x="123.8" y="515.0" width="3.3" height="3.3" fill="#ffc1b0"/><rect x="126.8" y="515.0" width="3.3" height="3.3" fill="#ffb5a4"/><rect x="129.8" y="515.0" width="3.3" height="3.3" fill="#ffab9a"/><rect x="132.8" y="515.0" width="3.3" height="3.3" fill="#ffa190"/><rect x="135.8" y="515.0" width="3.3" height="3.3" fill="#ff9887"/><rect x="138.8" y="515.0" width="3.3" height="3.3" fill="#ff907f"/><rect x="141.8" y="515.0" width="3.3" height="3.3" fill="#ff8876"/><rect x="144.8" y="515.0" width="3.3" height="3.3" fill="#ff806e"/><rect x="147.8" y="515.0" width="3.3" height="3.3" fill="#ff7967"/><rect x="150.8" y="515.0" width="3.3" height="3.3" fill="#ff725f"/><rect x="153.8" y="515.0" width="3.3" height="3.3" fill="#ff6b57"/><rect x="156.8" y="515.0" width="3.3" height="3.3" fill="#ff644f"/><rect x="159.8" y="515.0" width="3.3" height="3.3" fill="#ff5d47"/><rect x="162.8" y="515.0" width="3.3" height="3.3" fill="#ff573f"/><rect x="165.8" y="515.0" width="3.3" height="3.3" fill="#ff5036"/><rect x="168.8" y="515.0" width="3.3" height="3.3" fill="#ff492c"/><rect x="171.8" y="515.0" width="3.3" height="3.3" fill="#ff4120"/><rect x="174.8" y="515.0" width="3.3" height="3.3" fill="#ff3a0d"/><rect x="177.8" y="515.0" width="3.3" height="3.3" fill="#ff3707"/><rect x="180.8" y="515.0" width="3.3" height="3.3" fill="#ff3811"/><rect x="183.8" y="515.0" width="3.3" height="3.3" fill="#ff3917"/><rect x="186.8" y="515.0" width="3.3" height="3.3" fill="#ff3a1c"/><rect x="189.8" y="515.0" width="3.3" height="3.3" fill="#ff3b20"/><rect x="192.8" y="515.0" width="3.3" height="3.3" fill="#ff3c23"/><rect x="195.8" y="515.0" width="3.3" height="3.3" fill="#ff3d25"/><rect x="198.8" y="515.0" width="3.3" height="3.3" fill="#ff3e28"/><rect x="201.8" y="515.0" width="3.3" height="3.3" fill="#ff3e2a"/><rect x="204.8" y="515.0" width="3.3" height="3.3" fill="#ff3f2c"/><rect x="207.8" y="515.0" width="3.3" height="3.3" fill="#ff3f2d"/><rect x="39.8" y="518.0" width="6.3" height="3.3" fill="#77ffff"/><rect x="45.8" y="518.0" width="3.3" height="3.3" fill="#76ffff"/><rect x="48.8" y="518.0" width="3.3" height="3.3" fill="#75ffff"/><rect x="51.8" y="518.0" width="3.3" height="3.3" fill="#74ffff"/><rect x="54.8" y="518.0" width="3.3" height="3.3" fill="#72ffff"/><rect x="57.8" y="518.0" width="3.3" height="3.3" fill="#71ffff"/><rect x="60.8" y="518.0" width="3.3" height="3.3" fill="#6fffff"/><rect x="63.8" y="518.0" width="3.3" height="3.3" fill="#6dffff"/><rect x="66.8" y="518.0" width="3.3" height="3.3" fill="#6bffff"/><rect x="69.8" y="518.0" width="3.3" height="3.3" fill="#69ffff"/><rect x="72.8" y="518.0" width="3.3" height="3.3" fill="#65ffff"/><rect x="75.8" y="518.0" width="3.3" height="3.3" fill="#61ffff"/><rect x="78.8" y="518.0" width="3.3" height="3.3" fill="#5bffff"/><rect x="81.8" y="518.0" width="3.3" height="3.3" fill="#54fffe"/><rect x="84.8" y="518.0" width="3.3" height="3.3" fill="#48fffe"/><rect x="87.8" y="518.0" width="3.3" height="3.3" fill="#35fffe"/><rect x="90.8" y="518.0" width="3.3" height="3.3" fill="#26fffe"/><rect x="93.8" y="518.0" width="3.3" height="3.3" fill="#6bfffe"/><rect x="96.8" y="518.0" width="3.3" height="3.3" fill="#92fffe"/><rect x="99.8" y="518.0" width="3.3" height="3.3" fill="#b0fffe"/><rect x="102.8" y="518.0" width="3.3" height="3.3" fill="#cafffe"/><rect x="105.8" y="518.0" width="3.3" height="3.3" fill="#e3fffe"/><rect x="108.8" y="518.0" width="3.3" height="3.3" fill="#f9fffe"/><rect x="111.8" y="518.0" width="3.3" height="3.3" fill="#ffefef"/><rect x="114.8" y="518.0" width="3.3" height="3.3" fill="#ffdedd"/><rect x="117.8" y="518.0" width="3.3" height="3.3" fill="#ffcece"/><rect x="120.8" y="518.0" width="3.3" height="3.3" fill="#ffc1c0"/><rect x="123.8" y="518.0" width="3.3" height="3.3" fill="#ffb5b4"/><rect x="126.8" y="518.0" width="3.3" height="3.3" fill="#ffa9a9"/><rect x="129.8" y="518.0" width="3.3" height="3.3" fill="#ff9f9f"/><rect x="132.8" y="518.0" width="3.3" height="3.3" fill="#ff9696"/><rect x="135.8" y="518.0" width="3.3" height="3.3" fill="#ff8d8d"/><rect x="138.8" y="518.0" width="3.3" height="3.3" fill="#ff8585"/><rect x="141.8" y="518.0" width="3.3" height="3.3" fill="#ff7d7d"/><rect x="144.8" y="518.0" width="3.3" height="3.3" fill="#ff7575"/><rect x="147.8" y="518.0" width="3.3" height="3.3" fill="#ff6e6d"/><rect x="150.8" y="518.0" width="3.3" height="3.3" fill="#ff6666"/><rect x="153.8" y="518.0" width="3.3" height="3.3" fill="#ff5f5f"/><rect x="156.8" y="518.0" width="3.3" height="3.3" fill="#ff5858"/><rect x="159.8" y="518.0" width="3.3" height="3.3" fill="#ff5151"/><rect x="162.8" y="518.0" width="3.3" height="3.3" fill="#ff4949"/><rect x="165.8" y="518.0" width="3.3" height="3.3" fill="#ff4142"/><rect x="168.8" y="518.0" width="3.3" height="3.3" fill="#ff3939"/><rect x="171.8" y="518.0" width="3.3" height="3.3" fill="#ff3030"/><rect x="174.8" y="518.0" width="3.3" height="3.3" fill="#ff2526"/><rect x="177.8" y="518.0" width="3.3" height="3.3" fill="#ff1819"/><rect x="180.8" y="518.0" width="3.3" height="3.3" fill="#ff0003"/><rect x="183.8" y="518.0" width="3.3" height="3.3" fill="#ff0c0e"/><rect x="186.8" y="518.0" width="3.3" height="3.3" fill="#ff1315"/><rect x="189.8" y="518.0" width="3.3" height="3.3" fill="#ff191a"/><rect x="192.8" y="518.0" width="3.3" height="3.3" fill="#ff1d1e"/><rect x="195.8" y="518.0" width="3.3" height="3.3" fill="#ff2022"/><rect x="198.8" y="518.0" width="3.3" height="3.3" fill="#ff2324"/><rect x="201.8" y="518.0" width="3.3" height="3.3" fill="#ff2627"/><rect x="204.8" y="518.0" width="3.3" height="3.3" fill="#ff2829"/><rect x="207.8" y="518.0" width="3.3" height="3.3" fill="#ff2a2b"/><rect x="39.8" y="521.0" width="6.3" height="3.3" fill="#76fcff"/><rect x="45.8" y="521.0" width="3.3" height="3.3" fill="#75fcff"/><rect x="48.8" y="521.0" width="3.3" height="3.3" fill="#74fbff"/><rect x="51.8" y="521.0" width="3.3" height="3.3" fill="#72fbff"/><rect x="54.8" y="521.0" width="3.3" height="3.3" fill="#71fbff"/><rect x="57.8" y="521.0" width="3.3" height="3.3" fill="#70fbff"/><rect x="60.8" y="521.0" width="3.3" height="3.3" fill="#6efaff"/><rect x="63.8" y="521.0" width="3.3" height="3.3" fill="#6cfaff"/><rect x="66.8" y="521.0" width="3.3" height="3.3" fill="#69faff"/><rect x="69.8" y="521.0" width="3.3" height="3.3" fill="#66f9ff"/><rect x="72.8" y="521.0" width="3.3" height="3.3" fill="#63f9ff"/><rect x="75.8" y="521.0" width="3.3" height="3.3" fill="#5ef8ff"/><rect x="78.8" y="521.0" width="3.3" height="3.3" fill="#58f7ff"/><rect x="81.8" y="521.0" width="3.3" height="3.3" fill="#4ff6ff"/><rect x="84.8" y="521.0" width="3.3" height="3.3" fill="#41f5ff"/><rect x="87.8" y="521.0" width="3.3" height="3.3" fill="#27f3ff"/><rect x="90.8" y="521.0" width="3.3" height="3.3" fill="#46f1ff"/><rect x="93.8" y="521.0" width="3.3" height="3.3" fill="#77f1ff"/><rect x="96.8" y="521.0" width="3.3" height="3.3" fill="#99f0ff"/><rect x="99.8" y="521.0" width="3.3" height="3.3" fill="#b4efff"/><rect x="102.8" y="521.0" width="3.3" height="3.3" fill="#cdefff"/><rect x="105.8" y="521.0" width="3.3" height="3.3" fill="#e4eeff"/><rect x="108.8" y="521.0" width="3.3" height="3.3" fill="#f5edff"/><rect x="111.8" y="521.0" width="3.3" height="3.3" fill="#ffdff1"/><rect x="114.8" y="521.0" width="3.3" height="3.3" fill="#ffcfe0"/><rect x="117.8" y="521.0" width="3.3" height="3.3" fill="#ffc0d1"/><rect x="120.8" y="521.0" width="3.3" height="3.3" fill="#ffb3c4"/><rect x="123.8" y="521.0" width="3.3" height="3.3" fill="#ffa8b8"/><rect x="126.8" y="521.0" width="3.3" height="3.3" fill="#ff9dae"/><rect x="129.8" y="521.0" width="3.3" height="3.3" fill="#ff93a4"/><rect x="132.8" y="521.0" width="3.3" height="3.3" fill="#ff8a9b"/><rect x="135.8" y="521.0" width="3.3" height="3.3" fill="#ff8192"/><rect x="138.8" y="521.0" width="3.3" height="3.3" fill="#ff798a"/><rect x="141.8" y="521.0" width="3.3" height="3.3" fill="#ff7182"/><rect x="144.8" y="521.0" width="3.3" height="3.3" fill="#ff697b"/><rect x="147.8" y="521.0" width="3.3" height="3.3" fill="#ff6174"/><rect x="150.8" y="521.0" width="3.3" height="3.3" fill="#ff596d"/><rect x="153.8" y="521.0" width="3.3" height="3.3" fill="#ff5166"/><rect x="156.8" y="521.0" width="3.3" height="3.3" fill="#ff495f"/><rect x="159.8" y="521.0" width="3.3" height="3.3" fill="#ff4158"/><rect x="162.8" y="521.0" width="3.3" height="3.3" fill="#ff3852"/><rect x="165.8" y="521.0" width="3.3" height="3.3" fill="#ff2e4b"/><rect x="168.8" y="521.0" width="3.3" height="3.3" fill="#ff2344"/><rect x="171.8" y="521.0" width="3.3" height="3.3" fill="#ff123c"/><rect x="174.8" y="521.0" width="3.3" height="3.3" fill="#ff0538"/><rect x="177.8" y="521.0" width="3.3" height="3.3" fill="#ff0f39"/><rect x="180.8" y="521.0" width="3.3" height="3.3" fill="#ff163a"/><rect x="183.8" y="521.0" width="3.3" height="3.3" fill="#ff1b3b"/><rect x="186.8" y="521.0" width="3.3" height="3.3" fill="#ff1f3c"/><rect x="189.8" y="521.0" width="3.3" height="3.3" fill="#ff223d"/><rect x="192.8" y="521.0" width="3.3" height="3.3" fill="#ff253e"/><rect x="195.8" y="521.0" width="3.3" height="3.3" fill="#ff283f"/><rect x="198.8" y="521.0" width="3.3" height="3.3" fill="#ff2a40"/><rect x="201.8" y="521.0" width="3.3" height="3.3" fill="#ff2c40"/><rect x="204.8" y="521.0" width="3.3" height="3.3" fill="#ff2d41"/><rect x="207.8" y="521.0" width="3.3" height="3.3" fill="#ff2f41"/><rect x="39.8" y="524.0" width="3.3" height="3.3" fill="#75f8ff"/><rect x="42.8" y="524.0" width="3.3" height="3.3" fill="#74f8ff"/><rect x="45.8" y="524.0" width="3.3" height="3.3" fill="#73f8ff"/><rect x="48.8" y="524.0" width="3.3" height="3.3" fill="#72f7ff"/><rect x="51.8" y="524.0" width="3.3" height="3.3" fill="#71f7ff"/><rect x="54.8" y="524.0" width="3.3" height="3.3" fill="#70f7ff"/><rect x="57.8" y="524.0" width="3.3" height="3.3" fill="#6ef6ff"/><rect x="60.8" y="524.0" width="3.3" height="3.3" fill="#6cf5ff"/><rect x="63.8" y="524.0" width="3.3" height="3.3" fill="#6af5ff"/><rect x="66.8" y="524.0" width="3.3" height="3.3" fill="#67f4ff"/><rect x="69.8" y="524.0" width="3.3" height="3.3" fill="#64f3ff"/><rect x="72.8" y="524.0" width="3.3" height="3.3" fill="#60f1ff"/><rect x="75.8" y="524.0" width="3.3" height="3.3" fill="#5af0ff"/><rect x="78.8" y="524.0" width="3.3" height="3.3" fill="#53eeff"/><rect x="81.8" y="524.0" width="3.3" height="3.3" fill="#49ecff"/><rect x="84.8" y="524.0" width="3.3" height="3.3" fill="#39e9ff"/><rect x="87.8" y="524.0" width="3.3" height="3.3" fill="#11e4ff"/><rect x="90.8" y="524.0" width="3.3" height="3.3" fill="#58e3ff"/><rect x="93.8" y="524.0" width="3.3" height="3.3" fill="#80e2ff"/><rect x="96.8" y="524.0" width="3.3" height="3.3" fill="#9ee1ff"/><rect x="99.8" y="524.0" width="3.3" height="3.3" fill="#b8e0ff"/><rect x="102.8" y="524.0" width="3.3" height="3.3" fill="#cfdeff"/><rect x="105.8" y="524.0" width="3.3" height="3.3" fill="#dfddff"/><rect x="108.8" y="524.0" width="3.3" height="3.3" fill="#f1dcff"/><rect x="111.8" y="524.0" width="3.3" height="3.3" fill="#ffd0f5"/><rect x="114.8" y="524.0" width="3.3" height="3.3" fill="#ffc0e2"/><rect x="117.8" y="524.0" width="3.3" height="3.3" fill="#ffb2d4"/><rect x="120.8" y="524.0" width="3.3" height="3.3" fill="#ffa6c7"/><rect x="123.8" y="524.0" width="3.3" height="3.3" fill="#ff9abc"/><rect x="126.8" y="524.0" width="3.3" height="3.3" fill="#ff90b2"/><rect x="129.8" y="524.0" width="3.3" height="3.3" fill="#ff86a8"/><rect x="132.8" y="524.0" width="3.3" height="3.3" fill="#ff7d9f"/><rect x="135.8" y="524.0" width="3.3" height="3.3" fill="#ff7497"/><rect x="138.8" y="524.0" width="3.3" height="3.3" fill="#ff6c8f"/><rect x="141.8" y="524.0" width="3.3" height="3.3" fill="#ff6387"/><rect x="144.8" y="524.0" width="3.3" height="3.3" fill="#ff5b80"/><rect x="147.8" y="524.0" width="3.3" height="3.3" fill="#ff5379"/><rect x="150.8" y="524.0" width="3.3" height="3.3" fill="#ff4a73"/><rect x="153.8" y="524.0" width="3.3" height="3.3" fill="#ff416c"/><rect x="156.8" y="524.0" width="3.3" height="3.3" fill="#ff3766"/><rect x="159.8" y="524.0" width="3.3" height="3.3" fill="#ff2d5f"/><rect x="162.8" y="524.0" width="3.3" height="3.3" fill="#ff1f59"/><rect x="165.8" y="524.0" width="3.3" height="3.3" fill="#ff0a53"/><rect x="168.8" y="524.0" width="3.3" height="3.3" fill="#ff0951"/><rect x="171.8" y="524.0" width="3.3" height="3.3" fill="#ff1351"/><rect x="174.8" y="524.0" width="3.3" height="3.3" fill="#ff1951"/><rect x="177.8" y="524.0" width="3.3" height="3.3" fill="#ff1e51"/><rect x="180.8" y="524.0" width="3.3" height="3.3" fill="#ff2151"/><rect x="183.8" y="524.0" width="3.3" height="3.3" fill="#ff2551"/><rect x="186.8" y="524.0" width="3.3" height="3.3" fill="#ff2751"/><rect x="189.8" y="524.0" width="3.3" height="3.3" fill="#ff2951"/><rect x="192.8" y="524.0" width="3.3" height="3.3" fill="#ff2b51"/><rect x="195.8" y="524.0" width="3.3" height="3.3" fill="#ff2d51"/><rect x="198.8" y="524.0" width="3.3" height="3.3" fill="#ff2f51"/><rect x="201.8" y="524.0" width="3.3" height="3.3" fill="#ff3050"/><rect x="204.8" y="524.0" width="3.3" height="3.3" fill="#ff3250"/><rect x="207.8" y="524.0" width="3.3" height="3.3" fill="#ff3350"/><rect x="39.8" y="527.0" width="3.3" height="3.3" fill="#74f5ff"/><rect x="42.8" y="527.0" width="3.3" height="3.3" fill="#73f5ff"/><rect x="45.8" y="527.0" width="3.3" height="3.3" fill="#72f4ff"/><rect x="48.8" y="527.0" width="3.3" height="3.3" fill="#71f3ff"/><rect x="51.8" y="527.0" width="3.3" height="3.3" fill="#70f3ff"/><rect x="54.8" y="527.0" width="3.3" height="3.3" fill="#6ef2ff"/><rect x="57.8" y="527.0" width="3.3" height="3.3" fill="#6cf1ff"/><rect x="60.8" y="527.0" width="3.3" height="3.3" fill="#6af0ff"/><rect x="63.8" y="527.0" width="3.3" height="3.3" fill="#68efff"/><rect x="66.8" y="527.0" width="3.3" height="3.3" fill="#65edff"/><rect x="69.8" y="527.0" width="3.3" height="3.3" fill="#61ecff"/><rect x="72.8" y="527.0" width="3.3" height="3.3" fill="#5ceaff"/><rect x="75.8" y="527.0" width="3.3" height="3.3" fill="#57e8ff"/><rect x="78.8" y="527.0" width="3.3" height="3.3" fill="#4fe5ff"/><rect x="81.8" y="527.0" width="3.3" height="3.3" fill="#43e1ff"/><rect x="84.8" y="527.0" width="3.3" height="3.3" fill="#2fdcff"/><rect x="87.8" y="527.0" width="3.3" height="3.3" fill="#2bd6ff"/><rect x="90.8" y="527.0" width="3.3" height="3.3" fill="#66d5ff"/><rect x="93.8" y="527.0" width="3.3" height="3.3" fill="#88d3ff"/><rect x="96.8" y="527.0" width="3.3" height="3.3" fill="#a3d2ff"/><rect x="99.8" y="527.0" width="3.3" height="3.3" fill="#bbd0ff"/><rect x="102.8" y="527.0" width="3.3" height="3.3" fill="#ceceff"/><rect x="105.8" y="527.0" width="3.3" height="3.3" fill="#d9ccff"/><rect x="108.8" y="527.0" width="3.3" height="3.3" fill="#edcaff"/><rect x="111.8" y="527.0" width="3.3" height="3.3" fill="#ffbffa"/><rect x="114.8" y="527.0" width="3.3" height="3.3" fill="#ffb1e5"/><rect x="117.8" y="527.0" width="3.3" height="3.3" fill="#ffa3d7"/><rect x="120.8" y="527.0" width="3.3" height="3.3" fill="#ff97cb"/><rect x="123.8" y="527.0" width="3.3" height="3.3" fill="#ff8cbf"/><rect x="126.8" y="527.0" width="3.3" height="3.3" fill="#ff82b5"/><rect x="129.8" y="527.0" width="3.3" height="3.3" fill="#ff78ac"/><rect x="132.8" y="527.0" width="3.3" height="3.3" fill="#ff6fa3"/><rect x="135.8" y="527.0" width="3.3" height="3.3" fill="#ff669b"/><rect x="138.8" y="527.0" width="3.3" height="3.3" fill="#ff5d93"/><rect x="141.8" y="527.0" width="3.3" height="3.3" fill="#ff548c"/><rect x="144.8" y="527.0" width="3.3" height="3.3" fill="#ff4b85"/><rect x="147.8" y="527.0" width="3.3" height="3.3" fill="#ff417f"/><rect x="150.8" y="527.0" width="3.3" height="3.3" fill="#ff3778"/><rect x="153.8" y="527.0" width="3.3" height="3.3" fill="#ff2b72"/><rect x="156.8" y="527.0" width="3.3" height="3.3" fill="#ff1b6c"/><rect x="159.8" y="527.0" width="3.3" height="3.3" fill="#ff0166"/><rect x="162.8" y="527.0" width="3.3" height="3.3" fill="#ff0e65"/><rect x="165.8" y="527.0" width="3.3" height="3.3" fill="#ff1664"/><rect x="168.8" y="527.0" width="3.3" height="3.3" fill="#ff1c63"/><rect x="171.8" y="527.0" width="3.3" height="3.3" fill="#ff2062"/><rect x="174.8" y="527.0" width="3.3" height="3.3" fill="#ff2461"/><rect x="177.8" y="527.0" width="3.3" height="3.3" fill="#ff2761"/><rect x="180.8" y="527.0" width="3.3" height="3.3" fill="#ff2960"/><rect x="183.8" y="527.0" width="3.3" height="3.3" fill="#ff2b60"/><rect x="186.8" y="527.0" width="3.3" height="3.3" fill="#ff2d5f"/><rect x="189.8" y="527.0" width="3.3" height="3.3" fill="#ff2f5f"/><rect x="192.8" y="527.0" width="3.3" height="3.3" fill="#ff315e"/><rect x="195.8" y="527.0" width="3.3" height="3.3" fill="#ff325e"/><rect x="198.8" y="527.0" width="3.3" height="3.3" fill="#ff335d"/><rect x="201.8" y="527.0" width="3.3" height="3.3" fill="#ff345d"/><rect x="204.8" y="527.0" width="3.3" height="3.3" fill="#ff355d"/><rect x="207.8" y="527.0" width="3.3" height="3.3" fill="#ff365c"/><rect x="39.8" y="530.0" width="3.3" height="3.3" fill="#73f1ff"/><rect x="42.8" y="530.0" width="3.3" height="3.3" fill="#72f1ff"/><rect x="45.8" y="530.0" width="3.3" height="3.3" fill="#71f0ff"/><rect x="48.8" y="530.0" width="3.3" height="3.3" fill="#70efff"/><rect x="51.8" y="530.0" width="3.3" height="3.3" fill="#6eeeff"/><rect x="54.8" y="530.0" width="3.3" height="3.3" fill="#6cedff"/><rect x="57.8" y="530.0" width="3.3" height="3.3" fill="#6aecff"/><rect x="60.8" y="530.0" width="3.3" height="3.3" fill="#68ebff"/><rect x="63.8" y="530.0" width="3.3" height="3.3" fill="#65e9ff"/><rect x="66.8" y="530.0" width="3.3" height="3.3" fill="#62e7ff"/><rect x="69.8" y="530.0" width="3.3" height="3.3" fill="#5ee5ff"/><rect x="72.8" y="530.0" width="3.3" height="3.3" fill="#59e2ff"/><rect x="75.8" y="530.0" width="3.3" height="3.3" fill="#53dfff"/><rect x="78.8" y="530.0" width="3.3" height="3.3" fill="#4adaff"/><rect x="81.8" y="530.0" width="3.3" height="3.3" fill="#3cd5ff"/><rect x="84.8" y="530.0" width="3.3" height="3.3" fill="#21cdff"/><rect x="87.8" y="530.0" width="3.3" height="3.3" fill="#44c9ff"/><rect x="90.8" y="530.0" width="3.3" height="3.3" fill="#70c7ff"/><rect x="93.8" y="530.0" width="3.3" height="3.3" fill="#8ec5ff"/><rect x="96.8" y="530.0" width="3.3" height="3.3" fill="#a7c3ff"/><rect x="99.8" y="530.0" width="3.3" height="3.3" fill="#bdc0ff"/><rect x="102.8" y="530.0" width="3.3" height="3.3" fill="#c6beff"/><rect x="105.8" y="530.0" width="3.3" height="3.3" fill="#d5bbff"/><rect x="108.8" y="530.0" width="3.3" height="3.3" fill="#e9b9ff"/><rect x="111.8" y="530.0" width="3.3" height="3.3" fill="#ffafff"/><rect x="114.8" y="530.0" width="3.3" height="3.3" fill="#ffa1eb"/><rect x="117.8" y="530.0" width="3.3" height="3.3" fill="#ff94d9"/><rect x="120.8" y="530.0" width="3.3" height="3.3" fill="#ff88cd"/><rect x="123.8" y="530.0" width="3.3" height="3.3" fill="#ff7dc3"/><rect x="126.8" y="530.0" width="3.3" height="3.3" fill="#ff73b9"/><rect x="129.8" y="530.0" width="3.3" height="3.3" fill="#ff69b0"/><rect x="132.8" y="530.0" width="3.3" height="3.3" fill="#ff5fa7"/><rect x="135.8" y="530.0" width="3.3" height="3.3" fill="#ff559f"/><rect x="138.8" y="530.0" width="3.3" height="3.3" fill="#ff4b98"/><rect x="141.8" y="530.0" width="3.3" height="3.3" fill="#ff4191"/><rect x="144.8" y="530.0" width="3.3" height="3.3" fill="#ff358a"/><rect x="147.8" y="530.0" width="3.3" height="3.3" fill="#ff2883"/><rect x="150.8" y="530.0" width="3.3" height="3.3" fill="#ff157d"/><rect x="153.8" y="530.0" width="3.3" height="3.3" fill="#ff0678"/><rect x="156.8" y="530.0" width="3.3" height="3.3" fill="#ff1277"/><rect x="159.8" y="530.0" width="3.3" height="3.3" fill="#ff1a75"/><rect x="162.8" y="530.0" width="3.3" height="3.3" fill="#ff1f73"/><rect x="165.8" y="530.0" width="3.3" height="3.3" fill="#ff2372"/><rect x="168.8" y="530.0" width="3.3" height="3.3" fill="#ff2671"/><rect x="171.8" y="530.0" width="3.3" height="3.3" fill="#ff296f"/><rect x="174.8" y="530.0" width="3.3" height="3.3" fill="#ff2b6e"/><rect x="177.8" y="530.0" width="3.3" height="3.3" fill="#ff2e6d"/><rect x="180.8" y="530.0" width="3.3" height="3.3" fill="#ff2f6c"/><rect x="183.8" y="530.0" width="3.3" height="3.3" fill="#ff316b"/><rect x="186.8" y="530.0" width="3.3" height="3.3" fill="#ff326b"/><rect x="189.8" y="530.0" width="3.3" height="3.3" fill="#ff346a"/><rect x="192.8" y="530.0" width="3.3" height="3.3" fill="#ff3569"/><rect x="195.8" y="530.0" width="3.3" height="3.3" fill="#ff3668"/><rect x="198.8" y="530.0" width="3.3" height="3.3" fill="#ff3768"/><rect x="201.8" y="530.0" width="3.3" height="3.3" fill="#ff3867"/><rect x="204.8" y="530.0" width="3.3" height="3.3" fill="#ff3966"/><rect x="207.8" y="530.0" width="3.3" height="3.3" fill="#ff3a66"/><rect x="39.8" y="533.0" width="6.3" height="3.3" fill="#71edff"/><rect x="45.8" y="533.0" width="3.3" height="3.3" fill="#70ecff"/><rect x="48.8" y="533.0" width="3.3" height="3.3" fill="#6eebff"/><rect x="51.8" y="533.0" width="3.3" height="3.3" fill="#6deaff"/><rect x="54.8" y="533.0" width="3.3" height="3.3" fill="#6be8ff"/><rect x="57.8" y="533.0" width="3.3" height="3.3" fill="#69e7ff"/><rect x="60.8" y="533.0" width="3.3" height="3.3" fill="#66e5ff"/><rect x="63.8" y="533.0" width="3.3" height="3.3" fill="#63e3ff"/><rect x="66.8" y="533.0" width="3.3" height="3.3" fill="#60e0ff"/><rect x="69.8" y="533.0" width="3.3" height="3.3" fill="#5bddff"/><rect x="72.8" y="533.0" width="3.3" height="3.3" fill="#56daff"/><rect x="75.8" y="533.0" width="3.3" height="3.3" fill="#4ed5ff"/><rect x="78.8" y="533.0" width="3.3" height="3.3" fill="#44d0ff"/><rect x="81.8" y="533.0" width="3.3" height="3.3" fill="#34c8ff"/><rect x="84.8" y="533.0" width="3.3" height="3.3" fill="#07beff"/><rect x="87.8" y="533.0" width="3.3" height="3.3" fill="#55bbff"/><rect x="90.8" y="533.0" width="3.3" height="3.3" fill="#79b9ff"/><rect x="93.8" y="533.0" width="3.3" height="3.3" fill="#94b6ff"/><rect x="96.8" y="533.0" width="3.3" height="3.3" fill="#abb4ff"/><rect x="99.8" y="533.0" width="3.3" height="3.3" fill="#b5b1ff"/><rect x="102.8" y="533.0" width="3.3" height="3.3" fill="#c1aeff"/><rect x="105.8" y="533.0" width="3.3" height="3.3" fill="#d2aaff"/><rect x="108.8" y="533.0" width="3.3" height="3.3" fill="#e5a7ff"/><rect x="111.8" y="533.0" width="3.3" height="3.3" fill="#fa9eff"/><rect x="114.8" y="533.0" width="3.3" height="3.3" fill="#ff90f1"/><rect x="117.8" y="533.0" width="3.3" height="3.3" fill="#ff84df"/><rect x="120.8" y="533.0" width="3.3" height="3.3" fill="#ff78d0"/><rect x="123.8" y="533.0" width="3.3" height="3.3" fill="#ff6dc6"/><rect x="126.8" y="533.0" width="3.3" height="3.3" fill="#ff62bc"/><rect x="129.8" y="533.0" width="3.3" height="3.3" fill="#ff57b3"/><rect x="132.8" y="533.0" width="3.3" height="3.3" fill="#ff4cab"/><rect x="135.8" y="533.0" width="3.3" height="3.3" fill="#ff41a3"/><rect x="138.8" y="533.0" width="3.3" height="3.3" fill="#ff349c"/><rect x="141.8" y="533.0" width="3.3" height="3.3" fill="#ff2595"/><rect x="144.8" y="533.0" width="3.3" height="3.3" fill="#ff0c8e"/><rect x="147.8" y="533.0" width="3.3" height="3.3" fill="#ff0c8a"/><rect x="150.8" y="533.0" width="3.3" height="3.3" fill="#ff1687"/><rect x="153.8" y="533.0" width="3.3" height="3.3" fill="#ff1d85"/><rect x="156.8" y="533.0" width="3.3" height="3.3" fill="#ff2283"/><rect x="159.8" y="533.0" width="3.3" height="3.3" fill="#ff2681"/><rect x="162.8" y="533.0" width="3.3" height="3.3" fill="#ff297f"/><rect x="165.8" y="533.0" width="3.3" height="3.3" fill="#ff2b7d"/><rect x="168.8" y="533.0" width="3.3" height="3.3" fill="#ff2e7c"/><rect x="171.8" y="533.0" width="3.3" height="3.3" fill="#ff307a"/><rect x="174.8" y="533.0" width="3.3" height="3.3" fill="#ff3179"/><rect x="177.8" y="533.0" width="3.3" height="3.3" fill="#ff3377"/><rect x="180.8" y="533.0" width="3.3" height="3.3" fill="#ff3476"/><rect x="183.8" y="533.0" width="3.3" height="3.3" fill="#ff3675"/><rect x="186.8" y="533.0" width="3.3" height="3.3" fill="#ff3774"/><rect x="189.8" y="533.0" width="3.3" height="3.3" fill="#ff3873"/><rect x="192.8" y="533.0" width="3.3" height="3.3" fill="#ff3972"/><rect x="195.8" y="533.0" width="3.3" height="3.3" fill="#ff3a71"/><rect x="198.8" y="533.0" width="3.3" height="3.3" fill="#ff3a70"/><rect x="201.8" y="533.0" width="3.3" height="3.3" fill="#ff3b70"/><rect x="204.8" y="533.0" width="3.3" height="3.3" fill="#ff3c6f"/><rect x="207.8" y="533.0" width="3.3" height="3.3" fill="#ff3c6e"/><rect x="39.8" y="536.0" width="3.3" height="3.3" fill="#70eaff"/><rect x="42.8" y="536.0" width="3.3" height="3.3" fill="#70e9ff"/><rect x="45.8" y="536.0" width="3.3" height="3.3" fill="#6ee8ff"/><rect x="48.8" y="536.0" width="3.3" height="3.3" fill="#6de6ff"/><rect x="51.8" y="536.0" width="3.3" height="3.3" fill="#6be5ff"/><rect x="54.8" y="536.0" width="3.3" height="3.3" fill="#69e3ff"/><rect x="57.8" y="536.0" width="3.3" height="3.3" fill="#67e1ff"/><rect x="60.8" y="536.0" width="3.3" height="3.3" fill="#64dfff"/><rect x="63.8" y="536.0" width="3.3" height="3.3" fill="#61dcff"/><rect x="66.8" y="536.0" width="3.3" height="3.3" fill="#5dd9ff"/><rect x="69.8" y="536.0" width="3.3" height="3.3" fill="#58d5ff"/><rect x="72.8" y="536.0" width="3.3" height="3.3" fill="#52d1ff"/><rect x="75.8" y="536.0" width="3.3" height="3.3" fill="#4acbff"/><rect x="78.8" y="536.0" width="3.3" height="3.3" fill="#3ec4ff"/><rect x="81.8" y="536.0" width="3.3" height="3.3" fill="#29baff"/><rect x="84.8" y="536.0" width="3.3" height="3.3" fill="#2eb0ff"/><rect x="87.8" y="536.0" width="3.3" height="3.3" fill="#61adff"/><rect x="90.8" y="536.0" width="3.3" height="3.3" fill="#80aaff"/><rect x="93.8" y="536.0" width="3.3" height="3.3" fill="#99a7ff"/><rect x="96.8" y="536.0" width="3.3" height="3.3" fill="#a7a4ff"/><rect x="99.8" y="536.0" width="3.3" height="3.3" fill="#b0a1ff"/><rect x="102.8" y="536.0" width="3.3" height="3.3" fill="#be9dff"/><rect x="105.8" y="536.0" width="3.3" height="3.3" fill="#cf99ff"/><rect x="108.8" y="536.0" width="3.3" height="3.3" fill="#e294ff"/><rect x="111.8" y="536.0" width="3.3" height="3.3" fill="#f68bff"/><rect x="114.8" y="536.0" width="3.3" height="3.3" fill="#ff7ef6"/><rect x="117.8" y="536.0" width="3.3" height="3.3" fill="#ff71e6"/><rect x="120.8" y="536.0" width="3.3" height="3.3" fill="#ff65d6"/><rect x="123.8" y="536.0" width="3.3" height="3.3" fill="#ff59c9"/><rect x="126.8" y="536.0" width="3.3" height="3.3" fill="#ff4dbf"/><rect x="129.8" y="536.0" width="3.3" height="3.3" fill="#ff40b6"/><rect x="132.8" y="536.0" width="3.3" height="3.3" fill="#ff32ae"/><rect x="135.8" y="536.0" width="3.3" height="3.3" fill="#ff20a6"/><rect x="138.8" y="536.0" width="3.3" height="3.3" fill="#ff019f"/><rect x="141.8" y="536.0" width="3.3" height="3.3" fill="#ff119b"/><rect x="144.8" y="536.0" width="3.3" height="3.3" fill="#ff1a98"/><rect x="147.8" y="536.0" width="3.3" height="3.3" fill="#ff2095"/><rect x="150.8" y="536.0" width="3.3" height="3.3" fill="#ff2592"/><rect x="153.8" y="536.0" width="3.3" height="3.3" fill="#ff288f"/><rect x="156.8" y="536.0" width="3.3" height="3.3" fill="#ff2b8d"/><rect x="159.8" y="536.0" width="3.3" height="3.3" fill="#ff2e8a"/><rect x="162.8" y="536.0" width="3.3" height="3.3" fill="#ff3088"/><rect x="165.8" y="536.0" width="3.3" height="3.3" fill="#ff3286"/><rect x="168.8" y="536.0" width="3.3" height="3.3" fill="#ff3485"/><rect x="171.8" y="536.0" width="3.3" height="3.3" fill="#ff3583"/><rect x="174.8" y="536.0" width="3.3" height="3.3" fill="#ff3681"/><rect x="177.8" y="536.0" width="3.3" height="3.3" fill="#ff3880"/><rect x="180.8" y="536.0" width="3.3" height="3.3" fill="#ff397f"/><rect x="183.8" y="536.0" width="3.3" height="3.3" fill="#ff3a7d"/><rect x="186.8" y="536.0" width="3.3" height="3.3" fill="#ff3a7c"/><rect x="189.8" y="536.0" width="3.3" height="3.3" fill="#ff3b7b"/><rect x="192.8" y="536.0" width="3.3" height="3.3" fill="#ff3c7a"/><rect x="195.8" y="536.0" width="3.3" height="3.3" fill="#ff3d79"/><rect x="198.8" y="536.0" width="3.3" height="3.3" fill="#ff3d78"/><rect x="201.8" y="536.0" width="3.3" height="3.3" fill="#ff3e77"/><rect x="204.8" y="536.0" width="3.3" height="3.3" fill="#ff3f76"/><rect x="207.8" y="536.0" width="3.3" height="3.3" fill="#ff3f75"/><rect x="39.8" y="539.0" width="3.3" height="3.3" fill="#6fe6ff"/><rect x="42.8" y="539.0" width="3.3" height="3.3" fill="#6ee5ff"/><rect x="45.8" y="539.0" width="3.3" height="3.3" fill="#6de4ff"/><rect x="48.8" y="539.0" width="3.3" height="3.3" fill="#6be2ff"/><rect x="51.8" y="539.0" width="3.3" height="3.3" fill="#69e0ff"/><rect x="54.8" y="539.0" width="3.3" height="3.3" fill="#67deff"/><rect x="57.8" y="539.0" width="3.3" height="3.3" fill="#65dcff"/><rect x="60.8" y="539.0" width="3.3" height="3.3" fill="#62d9ff"/><rect x="63.8" y="539.0" width="3.3" height="3.3" fill="#5fd6ff"/><rect x="66.8" y="539.0" width="3.3" height="3.3" fill="#5ad2ff"/><rect x="69.8" y="539.0" width="3.3" height="3.3" fill="#55cdff"/><rect x="72.8" y="539.0" width="3.3" height="3.3" fill="#4ec7ff"/><rect x="75.8" y="539.0" width="3.3" height="3.3" fill="#45c0ff"/><rect x="78.8" y="539.0" width="3.3" height="3.3" fill="#37b7ff"/><rect x="81.8" y="539.0" width="3.3" height="3.3" fill="#1baaff"/><rect x="84.8" y="539.0" width="3.3" height="3.3" fill="#43a2ff"/><rect x="87.8" y="539.0" width="3.3" height="3.3" fill="#6b9fff"/><rect x="90.8" y="539.0" width="3.3" height="3.3" fill="#869cff"/><rect x="93.8" y="539.0" width="3.3" height="3.3" fill="#9998ff"/><rect x="96.8" y="539.0" width="3.3" height="3.3" fill="#9f94ff"/><rect x="99.8" y="539.0" width="3.3" height="3.3" fill="#ac90ff"/><rect x="102.8" y="539.0" width="3.3" height="3.3" fill="#bb8bff"/><rect x="105.8" y="539.0" width="3.3" height="3.3" fill="#cc86ff"/><rect x="108.8" y="539.0" width="3.3" height="3.3" fill="#de80ff"/><rect x="111.8" y="539.0" width="3.3" height="3.3" fill="#f177ff"/><rect x="114.8" y="539.0" width="3.3" height="3.3" fill="#ff69fc"/><rect x="117.8" y="539.0" width="3.3" height="3.3" fill="#ff5ced"/><rect x="120.8" y="539.0" width="3.3" height="3.3" fill="#ff4ede"/><rect x="123.8" y="539.0" width="3.3" height="3.3" fill="#ff40d1"/><rect x="126.8" y="539.0" width="3.3" height="3.3" fill="#ff30c6"/><rect x="129.8" y="539.0" width="3.3" height="3.3" fill="#ff1abd"/><rect x="132.8" y="539.0" width="3.3" height="3.3" fill="#ff08b5"/><rect x="135.8" y="539.0" width="3.3" height="3.3" fill="#ff17ad"/><rect x="138.8" y="539.0" width="3.3" height="3.3" fill="#ff1ea8"/><rect x="141.8" y="539.0" width="3.3" height="3.3" fill="#ff24a4"/><rect x="144.8" y="539.0" width="3.3" height="3.3" fill="#ff28a1"/><rect x="147.8" y="539.0" width="3.3" height="3.3" fill="#ff2b9d"/><rect x="150.8" y="539.0" width="3.3" height="3.3" fill="#ff2e9a"/><rect x="153.8" y="539.0" width="3.3" height="3.3" fill="#ff3198"/><rect x="156.8" y="539.0" width="3.3" height="3.3" fill="#ff3395"/><rect x="159.8" y="539.0" width="3.3" height="3.3" fill="#ff3493"/><rect x="162.8" y="539.0" width="3.3" height="3.3" fill="#ff3690"/><rect x="165.8" y="539.0" width="3.3" height="3.3" fill="#ff378e"/><rect x="168.8" y="539.0" width="3.3" height="3.3" fill="#ff388c"/><rect x="171.8" y="539.0" width="3.3" height="3.3" fill="#ff3a8b"/><rect x="174.8" y="539.0" width="3.3" height="3.3" fill="#ff3b89"/><rect x="177.8" y="539.0" width="3.3" height="3.3" fill="#ff3b87"/><rect x="180.8" y="539.0" width="3.3" height="3.3" fill="#ff3c86"/><rect x="183.8" y="539.0" width="3.3" height="3.3" fill="#ff3d85"/><rect x="186.8" y="539.0" width="3.3" height="3.3" fill="#ff3e83"/><rect x="189.8" y="539.0" width="3.3" height="3.3" fill="#ff3e82"/><rect x="192.8" y="539.0" width="3.3" height="3.3" fill="#ff3f81"/><rect x="195.8" y="539.0" width="3.3" height="3.3" fill="#ff4080"/><rect x="198.8" y="539.0" width="3.3" height="3.3" fill="#ff407f"/><rect x="201.8" y="539.0" width="3.3" height="3.3" fill="#ff417d"/><rect x="204.8" y="539.0" width="6.3" height="3.3" fill="#ff417c"/><rect x="39.8" y="542.0" width="3.3" height="3.3" fill="#6ee2ff"/><rect x="42.8" y="542.0" width="3.3" height="3.3" fill="#6de1ff"/><rect x="45.8" y="542.0" width="3.3" height="3.3" fill="#6bdfff"/><rect x="48.8" y="542.0" width="3.3" height="3.3" fill="#6addff"/><rect x="51.8" y="542.0" width="3.3" height="3.3" fill="#68dbff"/><rect x="54.8" y="542.0" width="3.3" height="3.3" fill="#66d9ff"/><rect x="57.8" y="542.0" width="3.3" height="3.3" fill="#63d6ff"/><rect x="60.8" y="542.0" width="3.3" height="3.3" fill="#60d2ff"/><rect x="63.8" y="542.0" width="3.3" height="3.3" fill="#5ccfff"/><rect x="66.8" y="542.0" width="3.3" height="3.3" fill="#58caff"/><rect x="69.8" y="542.0" width="3.3" height="3.3" fill="#52c4ff"/><rect x="72.8" y="542.0" width="3.3" height="3.3" fill="#4abdff"/><rect x="75.8" y="542.0" width="3.3" height="3.3" fill="#40b4ff"/><rect x="78.8" y="542.0" width="3.3" height="3.3" fill="#2fa8ff"/><rect x="81.8" y="542.0" width="3.3" height="3.3" fill="#0598ff"/><rect x="84.8" y="542.0" width="3.3" height="3.3" fill="#5294ff"/><rect x="87.8" y="542.0" width="3.3" height="3.3" fill="#7391ff"/><rect x="90.8" y="542.0" width="3.3" height="3.3" fill="#8c8cff"/><rect x="93.8" y="542.0" width="3.3" height="3.3" fill="#9088ff"/><rect x="96.8" y="542.0" width="3.3" height="3.3" fill="#9b83ff"/><rect x="99.8" y="542.0" width="3.3" height="3.3" fill="#a87eff"/><rect x="102.8" y="542.0" width="3.3" height="3.3" fill="#b878ff"/><rect x="105.8" y="542.0" width="3.3" height="3.3" fill="#c871ff"/><rect x="108.8" y="542.0" width="3.3" height="3.3" fill="#da6aff"/><rect x="111.8" y="542.0" width="3.3" height="3.3" fill="#eb5fff"/><rect x="114.8" y="542.0" width="3.3" height="3.3" fill="#fb50ff"/><rect x="117.8" y="542.0" width="3.3" height="3.3" fill="#ff40f4"/><rect x="120.8" y="542.0" width="3.3" height="3.3" fill="#ff2de7"/><rect x="123.8" y="542.0" width="3.3" height="3.3" fill="#ff10de"/><rect x="126.8" y="542.0" width="3.3" height="3.3" fill="#ff10d2"/><rect x="129.8" y="542.0" width="3.3" height="3.3" fill="#ff1bc6"/><rect x="132.8" y="542.0" width="3.3" height="3.3" fill="#ff22bc"/><rect x="135.8" y="542.0" width="3.3" height="3.3" fill="#ff28b4"/><rect x="138.8" y="542.0" width="3.3" height="3.3" fill="#ff2bb0"/><rect x="141.8" y="542.0" width="3.3" height="3.3" fill="#ff2fac"/><rect x="144.8" y="542.0" width="3.3" height="3.3" fill="#ff31a8"/><rect x="147.8" y="542.0" width="3.3" height="3.3" fill="#ff33a5"/><rect x="150.8" y="542.0" width="3.3" height="3.3" fill="#ff35a2"/><rect x="153.8" y="542.0" width="3.3" height="3.3" fill="#ff379f"/><rect x="156.8" y="542.0" width="3.3" height="3.3" fill="#ff389c"/><rect x="159.8" y="542.0" width="3.3" height="3.3" fill="#ff3a9a"/><rect x="162.8" y="542.0" width="3.3" height="3.3" fill="#ff3b97"/><rect x="165.8" y="542.0" width="3.3" height="3.3" fill="#ff3c95"/><rect x="168.8" y="542.0" width="3.3" height="3.3" fill="#ff3d93"/><rect x="171.8" y="542.0" width="3.3" height="3.3" fill="#ff3d91"/><rect x="174.8" y="542.0" width="3.3" height="3.3" fill="#ff3e90"/><rect x="177.8" y="542.0" width="3.3" height="3.3" fill="#ff3f8e"/><rect x="180.8" y="542.0" width="3.3" height="3.3" fill="#ff408c"/><rect x="183.8" y="542.0" width="3.3" height="3.3" fill="#ff408b"/><rect x="186.8" y="542.0" width="3.3" height="3.3" fill="#ff4189"/><rect x="189.8" y="542.0" width="3.3" height="3.3" fill="#ff4188"/><rect x="192.8" y="542.0" width="3.3" height="3.3" fill="#ff4287"/><rect x="195.8" y="542.0" width="3.3" height="3.3" fill="#ff4286"/><rect x="198.8" y="542.0" width="3.3" height="3.3" fill="#ff4284"/><rect x="201.8" y="542.0" width="3.3" height="3.3" fill="#ff4383"/><rect x="204.8" y="542.0" width="3.3" height="3.3" fill="#ff4382"/><rect x="207.8" y="542.0" width="3.3" height="3.3" fill="#ff4481"/><rect x="39.8" y="545.0" width="6.3" height="3.3" fill="#6cddff"/><rect x="45.8" y="545.0" width="3.3" height="3.3" fill="#6adbff"/><rect x="48.8" y="545.0" width="3.3" height="3.3" fill="#68d8ff"/><rect x="51.8" y="545.0" width="3.3" height="3.3" fill="#66d6ff"/><rect x="54.8" y="545.0" width="3.3" height="3.3" fill="#64d3ff"/><rect x="57.8" y="545.0" width="3.3" height="3.3" fill="#61d0ff"/><rect x="60.8" y="545.0" width="3.3" height="3.3" fill="#5eccff"/><rect x="63.8" y="545.0" width="3.3" height="3.3" fill="#5ac7ff"/><rect x="66.8" y="545.0" width="3.3" height="3.3" fill="#55c2ff"/><rect x="69.8" y="545.0" width="3.3" height="3.3" fill="#4ebbff"/><rect x="72.8" y="545.0" width="3.3" height="3.3" fill="#46b2ff"/><rect x="75.8" y="545.0" width="3.3" height="3.3" fill="#3aa7ff"/><rect x="78.8" y="545.0" width="3.3" height="3.3" fill="#2498ff"/><rect x="81.8" y="545.0" width="3.3" height="3.3" fill="#308aff"/><rect x="84.8" y="545.0" width="3.3" height="3.3" fill="#5d85ff"/><rect x="87.8" y="545.0" width="3.3" height="3.3" fill="#7a81ff"/><rect x="90.8" y="545.0" width="3.3" height="3.3" fill="#827cff"/><rect x="93.8" y="545.0" width="3.3" height="3.3" fill="#8b77ff"/><rect x="96.8" y="545.0" width="3.3" height="3.3" fill="#9771ff"/><rect x="99.8" y="545.0" width="3.3" height="3.3" fill="#a56aff"/><rect x="102.8" y="545.0" width="3.3" height="3.3" fill="#b462ff"/><rect x="105.8" y="545.0" width="3.3" height="3.3" fill="#c459ff"/><rect x="108.8" y="545.0" width="3.3" height="3.3" fill="#d54eff"/><rect x="111.8" y="545.0" width="3.3" height="3.3" fill="#e53fff"/><rect x="114.8" y="545.0" width="3.3" height="3.3" fill="#f329ff"/><rect x="117.8" y="545.0" width="3.3" height="3.3" fill="#fd02ff"/><rect x="120.8" y="545.0" width="3.3" height="3.3" fill="#ff17f0"/><rect x="123.8" y="545.0" width="3.3" height="3.3" fill="#ff20e2"/><rect x="126.8" y="545.0" width="3.3" height="3.3" fill="#ff27d7"/><rect x="129.8" y="545.0" width="3.3" height="3.3" fill="#ff2bcc"/><rect x="132.8" y="545.0" width="3.3" height="3.3" fill="#ff2fc3"/><rect x="135.8" y="545.0" width="3.3" height="3.3" fill="#ff32bb"/><rect x="138.8" y="545.0" width="3.3" height="3.3" fill="#ff34b6"/><rect x="141.8" y="545.0" width="3.3" height="3.3" fill="#ff36b2"/><rect x="144.8" y="545.0" width="3.3" height="3.3" fill="#ff38ae"/><rect x="147.8" y="545.0" width="3.3" height="3.3" fill="#ff39ab"/><rect x="150.8" y="545.0" width="3.3" height="3.3" fill="#ff3ba8"/><rect x="153.8" y="545.0" width="3.3" height="3.3" fill="#ff3ca5"/><rect x="156.8" y="545.0" width="3.3" height="3.3" fill="#ff3da2"/><rect x="159.8" y="545.0" width="3.3" height="3.3" fill="#ff3ea0"/><rect x="162.8" y="545.0" width="3.3" height="3.3" fill="#ff3f9d"/><rect x="165.8" y="545.0" width="3.3" height="3.3" fill="#ff3f9b"/><rect x="168.8" y="545.0" width="3.3" height="3.3" fill="#ff4099"/><rect x="171.8" y="545.0" width="3.3" height="3.3" fill="#ff4197"/><rect x="174.8" y="545.0" width="3.3" height="3.3" fill="#ff4195"/><rect x="177.8" y="545.0" width="3.3" height="3.3" fill="#ff4294"/><rect x="180.8" y="545.0" width="3.3" height="3.3" fill="#ff4292"/><rect x="183.8" y="545.0" width="3.3" height="3.3" fill="#ff4390"/><rect x="186.8" y="545.0" width="3.3" height="3.3" fill="#ff438f"/><rect x="189.8" y="545.0" width="3.3" height="3.3" fill="#ff448e"/><rect x="192.8" y="545.0" width="3.3" height="3.3" fill="#ff448c"/><rect x="195.8" y="545.0" width="3.3" height="3.3" fill="#ff448b"/><rect x="198.8" y="545.0" width="3.3" height="3.3" fill="#ff458a"/><rect x="201.8" y="545.0" width="3.3" height="3.3" fill="#ff4589"/><rect x="204.8" y="545.0" width="3.3" height="3.3" fill="#ff4587"/><rect x="207.8" y="545.0" width="3.3" height="3.3" fill="#ff4686"/><rect x="39.8" y="548.0" width="3.3" height="3.3" fill="#6bd9ff"/><rect x="42.8" y="548.0" width="3.3" height="3.3" fill="#6ad8ff"/><rect x="45.8" y="548.0" width="3.3" height="3.3" fill="#69d6ff"/><rect x="48.8" y="548.0" width="3.3" height="3.3" fill="#67d3ff"/><rect x="51.8" y="548.0" width="3.3" height="3.3" fill="#64d0ff"/><rect x="54.8" y="548.0" width="3.3" height="3.3" fill="#62cdff"/><rect x="57.8" y="548.0" width="3.3" height="3.3" fill="#5fc9ff"/><rect x="60.8" y="548.0" width="3.3" height="3.3" fill="#5bc5ff"/><rect x="63.8" y="548.0" width="3.3" height="3.3" fill="#57bfff"/><rect x="66.8" y="548.0" width="3.3" height="3.3" fill="#51b9ff"/><rect x="69.8" y="548.0" width="3.3" height="3.3" fill="#4ab1ff"/><rect x="72.8" y="548.0" width="3.3" height="3.3" fill="#41a6ff"/><rect x="75.8" y="548.0" width="3.3" height="3.3" fill="#3399ff"/><rect x="78.8" y="548.0" width="3.3" height="3.3" fill="#1585ff"/><rect x="81.8" y="548.0" width="3.3" height="3.3" fill="#437bff"/><rect x="84.8" y="548.0" width="3.3" height="3.3" fill="#6676ff"/><rect x="87.8" y="548.0" width="3.3" height="3.3" fill="#7470ff"/><rect x="90.8" y="548.0" width="3.3" height="3.3" fill="#7b6aff"/><rect x="93.8" y="548.0" width="3.3" height="3.3" fill="#8663ff"/><rect x="96.8" y="548.0" width="3.3" height="3.3" fill="#935bff"/><rect x="99.8" y="548.0" width="3.3" height="3.3" fill="#a152ff"/><rect x="102.8" y="548.0" width="3.3" height="3.3" fill="#b046ff"/><rect x="105.8" y="548.0" width="3.3" height="3.3" fill="#bf37ff"/><rect x="108.8" y="548.0" width="3.3" height="3.3" fill="#cd20ff"/><rect x="111.8" y="548.0" width="3.3" height="3.3" fill="#dc0dff"/><rect x="114.8" y="548.0" width="3.3" height="3.3" fill="#ef1dff"/><rect x="117.8" y="548.0" width="3.3" height="3.3" fill="#fe26ff"/><rect x="120.8" y="548.0" width="3.3" height="3.3" fill="#ff2bf2"/><rect x="123.8" y="548.0" width="3.3" height="3.3" fill="#ff30e7"/><rect x="126.8" y="548.0" width="3.3" height="3.3" fill="#ff33dc"/><rect x="129.8" y="548.0" width="3.3" height="3.3" fill="#ff35d2"/><rect x="132.8" y="548.0" width="3.3" height="3.3" fill="#ff38ca"/><rect x="135.8" y="548.0" width="3.3" height="3.3" fill="#ff39c2"/><rect x="138.8" y="548.0" width="3.3" height="3.3" fill="#ff3bbc"/><rect x="141.8" y="548.0" width="3.3" height="3.3" fill="#ff3cb8"/><rect x="144.8" y="548.0" width="3.3" height="3.3" fill="#ff3db4"/><rect x="147.8" y="548.0" width="3.3" height="3.3" fill="#ff3eb1"/><rect x="150.8" y="548.0" width="3.3" height="3.3" fill="#ff3fad"/><rect x="153.8" y="548.0" width="3.3" height="3.3" fill="#ff40ab"/><rect x="156.8" y="548.0" width="3.3" height="3.3" fill="#ff41a8"/><rect x="159.8" y="548.0" width="3.3" height="3.3" fill="#ff42a5"/><rect x="162.8" y="548.0" width="3.3" height="3.3" fill="#ff42a3"/><rect x="165.8" y="548.0" width="3.3" height="3.3" fill="#ff43a1"/><rect x="168.8" y="548.0" width="3.3" height="3.3" fill="#ff439f"/><rect x="171.8" y="548.0" width="3.3" height="3.3" fill="#ff449d"/><rect x="174.8" y="548.0" width="3.3" height="3.3" fill="#ff449b"/><rect x="177.8" y="548.0" width="3.3" height="3.3" fill="#ff4599"/><rect x="180.8" y="548.0" width="3.3" height="3.3" fill="#ff4597"/><rect x="183.8" y="548.0" width="3.3" height="3.3" fill="#ff4596"/><rect x="186.8" y="548.0" width="3.3" height="3.3" fill="#ff4694"/><rect x="189.8" y="548.0" width="3.3" height="3.3" fill="#ff4693"/><rect x="192.8" y="548.0" width="3.3" height="3.3" fill="#ff4691"/><rect x="195.8" y="548.0" width="3.3" height="3.3" fill="#ff4690"/><rect x="198.8" y="548.0" width="3.3" height="3.3" fill="#ff478f"/><rect x="201.8" y="548.0" width="3.3" height="3.3" fill="#ff478d"/><rect x="204.8" y="548.0" width="3.3" height="3.3" fill="#ff478c"/><rect x="207.8" y="548.0" width="3.3" height="3.3" fill="#ff478b"/><rect x="39.8" y="551.0" width="3.3" height="3.3" fill="#6ad5ff"/><rect x="42.8" y="551.0" width="3.3" height="3.3" fill="#69d4ff"/><rect x="45.8" y="551.0" width="3.3" height="3.3" fill="#67d1ff"/><rect x="48.8" y="551.0" width="3.3" height="3.3" fill="#65ceff"/><rect x="51.8" y="551.0" width="3.3" height="3.3" fill="#63cbff"/><rect x="54.8" y="551.0" width="3.3" height="3.3" fill="#60c7ff"/><rect x="57.8" y="551.0" width="3.3" height="3.3" fill="#5dc2ff"/><rect x="60.8" y="551.0" width="3.3" height="3.3" fill="#59bdff"/><rect x="63.8" y="551.0" width="3.3" height="3.3" fill="#54b7ff"/><rect x="66.8" y="551.0" width="3.3" height="3.3" fill="#4eafff"/><rect x="69.8" y="551.0" width="3.3" height="3.3" fill="#46a6ff"/><rect x="72.8" y="551.0" width="3.3" height="3.3" fill="#3c99ff"/><rect x="75.8" y="551.0" width="3.3" height="3.3" fill="#2a88ff"/><rect x="78.8" y="551.0" width="3.3" height="3.3" fill="#136fff"/><rect x="81.8" y="551.0" width="3.3" height="3.3" fill="#506aff"/><rect x="84.8" y="551.0" width="3.3" height="3.3" fill="#6564ff"/><rect x="87.8" y="551.0" width="3.3" height="3.3" fill="#6c5dff"/><rect x="90.8" y="551.0" width="3.3" height="3.3" fill="#7654ff"/><rect x="93.8" y="551.0" width="3.3" height="3.3" fill="#824bff"/><rect x="96.8" y="551.0" width="3.3" height="3.3" fill="#8f3fff"/><rect x="99.8" y="551.0" width="3.3" height="3.3" fill="#9c2fff"/><rect x="102.8" y="551.0" width="3.3" height="3.3" fill="#a811ff"/><rect x="105.8" y="551.0" width="3.3" height="3.3" fill="#ba14ff"/><rect x="108.8" y="551.0" width="3.3" height="3.3" fill="#cd22ff"/><rect x="111.8" y="551.0" width="3.3" height="3.3" fill="#df2bff"/><rect x="114.8" y="551.0" width="3.3" height="3.3" fill="#ef30ff"/><rect x="117.8" y="551.0" width="3.3" height="3.3" fill="#fc34ff"/><rect x="120.8" y="551.0" width="3.3" height="3.3" fill="#ff37f5"/><rect x="123.8" y="551.0" width="3.3" height="3.3" fill="#ff39ea"/><rect x="126.8" y="551.0" width="3.3" height="3.3" fill="#ff3be1"/><rect x="129.8" y="551.0" width="3.3" height="3.3" fill="#ff3dd8"/><rect x="132.8" y="551.0" width="3.3" height="3.3" fill="#ff3ecf"/><rect x="135.8" y="551.0" width="3.3" height="3.3" fill="#ff3fc8"/><rect x="138.8" y="551.0" width="3.3" height="3.3" fill="#ff40c1"/><rect x="141.8" y="551.0" width="3.3" height="3.3" fill="#ff41bc"/><rect x="144.8" y="551.0" width="3.3" height="3.3" fill="#ff42b9"/><rect x="147.8" y="551.0" width="3.3" height="3.3" fill="#ff43b5"/><rect x="150.8" y="551.0" width="3.3" height="3.3" fill="#ff43b2"/><rect x="153.8" y="551.0" width="3.3" height="3.3" fill="#ff44af"/><rect x="156.8" y="551.0" width="3.3" height="3.3" fill="#ff44ad"/><rect x="159.8" y="551.0" width="3.3" height="3.3" fill="#ff45aa"/><rect x="162.8" y="551.0" width="3.3" height="3.3" fill="#ff45a8"/><rect x="165.8" y="551.0" width="3.3" height="3.3" fill="#ff46a5"/><rect x="168.8" y="551.0" width="3.3" height="3.3" fill="#ff46a3"/><rect x="171.8" y="551.0" width="3.3" height="3.3" fill="#ff46a1"/><rect x="174.8" y="551.0" width="3.3" height="3.3" fill="#ff479f"/><rect x="177.8" y="551.0" width="3.3" height="3.3" fill="#ff479e"/><rect x="180.8" y="551.0" width="3.3" height="3.3" fill="#ff479c"/><rect x="183.8" y="551.0" width="3.3" height="3.3" fill="#ff489a"/><rect x="186.8" y="551.0" width="3.3" height="3.3" fill="#ff4899"/><rect x="189.8" y="551.0" width="3.3" height="3.3" fill="#ff4897"/><rect x="192.8" y="551.0" width="3.3" height="3.3" fill="#ff4896"/><rect x="195.8" y="551.0" width="3.3" height="3.3" fill="#ff4894"/><rect x="198.8" y="551.0" width="3.3" height="3.3" fill="#ff4993"/><rect x="201.8" y="551.0" width="3.3" height="3.3" fill="#ff4992"/><rect x="204.8" y="551.0" width="3.3" height="3.3" fill="#ff4990"/><rect x="207.8" y="551.0" width="3.3" height="3.3" fill="#ff498f"/><rect x="39.8" y="554.0" width="3.3" height="3.3" fill="#68d0ff"/><rect x="42.8" y="554.0" width="3.3" height="3.3" fill="#68cfff"/><rect x="45.8" y="554.0" width="3.3" height="3.3" fill="#66ccff"/><rect x="48.8" y="554.0" width="3.3" height="3.3" fill="#63c9ff"/><rect x="51.8" y="554.0" width="3.3" height="3.3" fill="#61c5ff"/><rect x="54.8" y="554.0" width="3.3" height="3.3" fill="#5ec0ff"/><rect x="57.8" y="554.0" width="3.3" height="3.3" fill="#5abbff"/><rect x="60.8" y="554.0" width="3.3" height="3.3" fill="#56b5ff"/><rect x="63.8" y="554.0" width="3.3" height="3.3" fill="#51aeff"/><rect x="66.8" y="554.0" width="3.3" height="3.3" fill="#4ba5ff"/><rect x="69.8" y="554.0" width="3.3" height="3.3" fill="#4299ff"/><rect x="72.8" y="554.0" width="3.3" height="3.3" fill="#368aff"/><rect x="75.8" y="554.0" width="3.3" height="3.3" fill="#2073ff"/><rect x="78.8" y="554.0" width="3.3" height="3.3" fill="#325eff"/><rect x="81.8" y="554.0" width="3.3" height="3.3" fill="#5757ff"/><rect x="84.8" y="554.0" width="3.3" height="3.3" fill="#5b4eff"/><rect x="87.8" y="554.0" width="3.3" height="3.3" fill="#6544ff"/><rect x="90.8" y="554.0" width="3.3" height="3.3" fill="#7038ff"/><rect x="93.8" y="554.0" width="3.3" height="3.3" fill="#7c26ff"/><rect x="96.8" y="554.0" width="3.3" height="3.3" fill="#8502ff"/><rect x="99.8" y="554.0" width="3.3" height="3.3" fill="#9c18ff"/><rect x="102.8" y="554.0" width="3.3" height="3.3" fill="#af24ff"/><rect x="105.8" y="554.0" width="3.3" height="3.3" fill="#c02cff"/><rect x="108.8" y="554.0" width="3.3" height="3.3" fill="#d133ff"/><rect x="111.8" y="554.0" width="3.3" height="3.3" fill="#e039ff"/><rect x="114.8" y="554.0" width="3.3" height="3.3" fill="#ee3cff"/><rect x="117.8" y="554.0" width="3.3" height="3.3" fill="#fb3eff"/><rect x="120.8" y="554.0" width="3.3" height="3.3" fill="#ff3ff8"/><rect x="123.8" y="554.0" width="3.3" height="3.3" fill="#ff40ee"/><rect x="126.8" y="554.0" width="3.3" height="3.3" fill="#ff42e5"/><rect x="129.8" y="554.0" width="3.3" height="3.3" fill="#ff43dc"/><rect x="132.8" y="554.0" width="3.3" height="3.3" fill="#ff43d4"/><rect x="135.8" y="554.0" width="3.3" height="3.3" fill="#ff44cd"/><rect x="138.8" y="554.0" width="3.3" height="3.3" fill="#ff45c7"/><rect x="141.8" y="554.0" width="3.3" height="3.3" fill="#ff45c1"/><rect x="144.8" y="554.0" width="3.3" height="3.3" fill="#ff46bd"/><rect x="147.8" y="554.0" width="3.3" height="3.3" fill="#ff46ba"/><rect x="150.8" y="554.0" width="3.3" height="3.3" fill="#ff47b7"/><rect x="153.8" y="554.0" width="3.3" height="3.3" fill="#ff47b4"/><rect x="156.8" y="554.0" width="3.3" height="3.3" fill="#ff47b1"/><rect x="159.8" y="554.0" width="3.3" height="3.3" fill="#ff48ae"/><rect x="162.8" y="554.0" width="3.3" height="3.3" fill="#ff48ac"/><rect x="165.8" y="554.0" width="3.3" height="3.3" fill="#ff48aa"/><rect x="168.8" y="554.0" width="3.3" height="3.3" fill="#ff49a8"/><rect x="171.8" y="554.0" width="3.3" height="3.3" fill="#ff49a6"/><rect x="174.8" y="554.0" width="3.3" height="3.3" fill="#ff49a4"/><rect x="177.8" y="554.0" width="3.3" height="3.3" fill="#ff49a2"/><rect x="180.8" y="554.0" width="3.3" height="3.3" fill="#ff49a0"/><rect x="183.8" y="554.0" width="3.3" height="3.3" fill="#ff4a9e"/><rect x="186.8" y="554.0" width="3.3" height="3.3" fill="#ff4a9d"/><rect x="189.8" y="554.0" width="3.3" height="3.3" fill="#ff4a9b"/><rect x="192.8" y="554.0" width="3.3" height="3.3" fill="#ff4a9a"/><rect x="195.8" y="554.0" width="3.3" height="3.3" fill="#ff4a98"/><rect x="198.8" y="554.0" width="3.3" height="3.3" fill="#ff4a97"/><rect x="201.8" y="554.0" width="3.3" height="3.3" fill="#ff4a96"/><rect x="204.8" y="554.0" width="3.3" height="3.3" fill="#ff4b94"/><rect x="207.8" y="554.0" width="3.3" height="3.3" fill="#ff4b93"/><rect x="39.8" y="557.0" width="3.3" height="3.3" fill="#67ccff"/><rect x="42.8" y="557.0" width="3.3" height="3.3" fill="#66caff"/><rect x="45.8" y="557.0" width="3.3" height="3.3" fill="#64c7ff"/><rect x="48.8" y="557.0" width="3.3" height="3.3" fill="#62c3ff"/><rect x="51.8" y="557.0" width="3.3" height="3.3" fill="#5fbfff"/><rect x="54.8" y="557.0" width="3.3" height="3.3" fill="#5cbaff"/><rect x="57.8" y="557.0" width="3.3" height="3.3" fill="#58b4ff"/><rect x="60.8" y="557.0" width="3.3" height="3.3" fill="#54adff"/><rect x="63.8" y="557.0" width="3.3" height="3.3" fill="#4ea4ff"/><rect x="66.8" y="557.0" width="3.3" height="3.3" fill="#479aff"/><rect x="69.8" y="557.0" width="3.3" height="3.3" fill="#3d8bff"/><rect x="72.8" y="557.0" width="3.3" height="3.3" fill="#2f78ff"/><rect x="75.8" y="557.0" width="3.3" height="3.3" fill="#1058ff"/><rect x="78.8" y="557.0" width="3.3" height="3.3" fill="#4248ff"/><rect x="81.8" y="557.0" width="3.3" height="3.3" fill="#493eff"/><rect x="84.8" y="557.0" width="3.3" height="3.3" fill="#5230ff"/><rect x="87.8" y="557.0" width="3.3" height="3.3" fill="#5c1bff"/><rect x="90.8" y="557.0" width="3.3" height="3.3" fill="#6a0bff"/><rect x="93.8" y="557.0" width="3.3" height="3.3" fill="#801bff"/><rect x="96.8" y="557.0" width="3.3" height="3.3" fill="#9325ff"/><rect x="99.8" y="557.0" width="3.3" height="3.3" fill="#a52dff"/><rect x="102.8" y="557.0" width="3.3" height="3.3" fill="#b533ff"/><rect x="105.8" y="557.0" width="3.3" height="3.3" fill="#c439ff"/><rect x="108.8" y="557.0" width="3.3" height="3.3" fill="#d33eff"/><rect x="111.8" y="557.0" width="3.3" height="3.3" fill="#e142ff"/><rect x="114.8" y="557.0" width="3.3" height="3.3" fill="#ee43ff"/><rect x="117.8" y="557.0" width="3.3" height="3.3" fill="#f944ff"/><rect x="120.8" y="557.0" width="3.3" height="3.3" fill="#ff45fb"/><rect x="123.8" y="557.0" width="3.3" height="3.3" fill="#ff46f1"/><rect x="126.8" y="557.0" width="3.3" height="3.3" fill="#ff47e8"/><rect x="129.8" y="557.0" width="3.3" height="3.3" fill="#ff47e0"/><rect x="132.8" y="557.0" width="3.3" height="3.3" fill="#ff48d9"/><rect x="135.8" y="557.0" width="3.3" height="3.3" fill="#ff48d2"/><rect x="138.8" y="557.0" width="3.3" height="3.3" fill="#ff48cc"/><rect x="141.8" y="557.0" width="3.3" height="3.3" fill="#ff49c6"/><rect x="144.8" y="557.0" width="3.3" height="3.3" fill="#ff49c1"/><rect x="147.8" y="557.0" width="3.3" height="3.3" fill="#ff49be"/><rect x="150.8" y="557.0" width="3.3" height="3.3" fill="#ff4aba"/><rect x="153.8" y="557.0" width="3.3" height="3.3" fill="#ff4ab8"/><rect x="156.8" y="557.0" width="3.3" height="3.3" fill="#ff4ab5"/><rect x="159.8" y="557.0" width="3.3" height="3.3" fill="#ff4ab2"/><rect x="162.8" y="557.0" width="3.3" height="3.3" fill="#ff4ab0"/><rect x="165.8" y="557.0" width="3.3" height="3.3" fill="#ff4bae"/><rect x="168.8" y="557.0" width="3.3" height="3.3" fill="#ff4bac"/><rect x="171.8" y="557.0" width="3.3" height="3.3" fill="#ff4ba9"/><rect x="174.8" y="557.0" width="3.3" height="3.3" fill="#ff4ba8"/><rect x="177.8" y="557.0" width="3.3" height="3.3" fill="#ff4ba6"/><rect x="180.8" y="557.0" width="3.3" height="3.3" fill="#ff4ba4"/><rect x="183.8" y="557.0" width="3.3" height="3.3" fill="#ff4ba2"/><rect x="186.8" y="557.0" width="3.3" height="3.3" fill="#ff4ca1"/><rect x="189.8" y="557.0" width="3.3" height="3.3" fill="#ff4c9f"/><rect x="192.8" y="557.0" width="3.3" height="3.3" fill="#ff4c9e"/><rect x="195.8" y="557.0" width="3.3" height="3.3" fill="#ff4c9c"/><rect x="198.8" y="557.0" width="3.3" height="3.3" fill="#ff4c9b"/><rect x="201.8" y="557.0" width="3.3" height="3.3" fill="#ff4c99"/><rect x="204.8" y="557.0" width="3.3" height="3.3" fill="#ff4c98"/><rect x="207.8" y="557.0" width="3.3" height="3.3" fill="#ff4c97"/><rect x="39.8" y="560.0" width="3.3" height="3.3" fill="#66c7ff"/><rect x="42.8" y="560.0" width="3.3" height="3.3" fill="#65c5ff"/><rect x="45.8" y="560.0" width="3.3" height="3.3" fill="#62c1ff"/><rect x="48.8" y="560.0" width="3.3" height="3.3" fill="#60bdff"/><rect x="51.8" y="560.0" width="3.3" height="3.3" fill="#5db8ff"/><rect x="54.8" y="560.0" width="3.3" height="3.3" fill="#5ab3ff"/><rect x="57.8" y="560.0" width="3.3" height="3.3" fill="#56acff"/><rect x="60.8" y="560.0" width="3.3" height="3.3" fill="#51a4ff"/><rect x="63.8" y="560.0" width="3.3" height="3.3" fill="#4b9aff"/><rect x="66.8" y="560.0" width="3.3" height="3.3" fill="#438dff"/><rect x="69.8" y="560.0" width="3.3" height="3.3" fill="#387cff"/><rect x="72.8" y="560.0" width="3.3" height="3.3" fill="#2662ff"/><rect x="75.8" y="560.0" width="3.3" height="3.3" fill="#1b38ff"/><rect x="78.8" y="560.0" width="3.3" height="3.3" fill="#3429ff"/><rect x="81.8" y="560.0" width="3.3" height="3.3" fill="#3a0eff"/><rect x="84.8" y="560.0" width="3.3" height="3.3" fill="#5011ff"/><rect x="87.8" y="560.0" width="3.3" height="3.3" fill="#661eff"/><rect x="90.8" y="560.0" width="3.3" height="3.3" fill="#7a26ff"/><rect x="93.8" y="560.0" width="3.3" height="3.3" fill="#8b2dff"/><rect x="96.8" y="560.0" width="3.3" height="3.3" fill="#9c33ff"/><rect x="99.8" y="560.0" width="3.3" height="3.3" fill="#ab38ff"/><rect x="102.8" y="560.0" width="3.3" height="3.3" fill="#b93dff"/><rect x="105.8" y="560.0" width="3.3" height="3.3" fill="#c741ff"/><rect x="108.8" y="560.0" width="3.3" height="3.3" fill="#d545ff"/><rect x="111.8" y="560.0" width="3.3" height="3.3" fill="#e149ff"/><rect x="114.8" y="560.0" width="3.3" height="3.3" fill="#ed49ff"/><rect x="117.8" y="560.0" width="3.3" height="3.3" fill="#f74aff"/><rect x="120.8" y="560.0" width="3.3" height="3.3" fill="#ff4afd"/><rect x="123.8" y="560.0" width="3.3" height="3.3" fill="#ff4bf4"/><rect x="126.8" y="560.0" width="3.3" height="3.3" fill="#ff4bec"/><rect x="129.8" y="560.0" width="3.3" height="3.3" fill="#ff4be4"/><rect x="132.8" y="560.0" width="3.3" height="3.3" fill="#ff4bdd"/><rect x="135.8" y="560.0" width="3.3" height="3.3" fill="#ff4cd6"/><rect x="138.8" y="560.0" width="3.3" height="3.3" fill="#ff4cd0"/><rect x="141.8" y="560.0" width="3.3" height="3.3" fill="#ff4cca"/><rect x="144.8" y="560.0" width="3.3" height="3.3" fill="#ff4cc5"/><rect x="147.8" y="560.0" width="3.3" height="3.3" fill="#ff4cc1"/><rect x="150.8" y="560.0" width="3.3" height="3.3" fill="#ff4cbe"/><rect x="153.8" y="560.0" width="3.3" height="3.3" fill="#ff4cbb"/><rect x="156.8" y="560.0" width="3.3" height="3.3" fill="#ff4db8"/><rect x="159.8" y="560.0" width="3.3" height="3.3" fill="#ff4db6"/><rect x="162.8" y="560.0" width="3.3" height="3.3" fill="#ff4db4"/><rect x="165.8" y="560.0" width="3.3" height="3.3" fill="#ff4db1"/><rect x="168.8" y="560.0" width="3.3" height="3.3" fill="#ff4daf"/><rect x="171.8" y="560.0" width="3.3" height="3.3" fill="#ff4dad"/><rect x="174.8" y="560.0" width="3.3" height="3.3" fill="#ff4dab"/><rect x="177.8" y="560.0" width="3.3" height="3.3" fill="#ff4da9"/><rect x="180.8" y="560.0" width="3.3" height="3.3" fill="#ff4da7"/><rect x="183.8" y="560.0" width="3.3" height="3.3" fill="#ff4da6"/><rect x="186.8" y="560.0" width="3.3" height="3.3" fill="#ff4da4"/><rect x="189.8" y="560.0" width="3.3" height="3.3" fill="#ff4da3"/><rect x="192.8" y="560.0" width="3.3" height="3.3" fill="#ff4da1"/><rect x="195.8" y="560.0" width="3.3" height="3.3" fill="#ff4da0"/><rect x="198.8" y="560.0" width="3.3" height="3.3" fill="#ff4d9e"/><rect x="201.8" y="560.0" width="3.3" height="3.3" fill="#ff4d9d"/><rect x="204.8" y="560.0" width="3.3" height="3.3" fill="#ff4e9c"/><rect x="207.8" y="560.0" width="3.3" height="3.3" fill="#ff4e9a"/><rect x="39.8" y="563.0" width="3.3" height="3.3" fill="#64c2ff"/><rect x="42.8" y="563.0" width="3.3" height="3.3" fill="#63c0ff"/><rect x="45.8" y="563.0" width="3.3" height="3.3" fill="#61bcff"/><rect x="48.8" y="563.0" width="3.3" height="3.3" fill="#5eb7ff"/><rect x="51.8" y="563.0" width="3.3" height="3.3" fill="#5bb1ff"/><rect x="54.8" y="563.0" width="3.3" height="3.3" fill="#58abff"/><rect x="57.8" y="563.0" width="3.3" height="3.3" fill="#53a3ff"/><rect x="60.8" y="563.0" width="3.3" height="3.3" fill="#4e9aff"/><rect x="63.8" y="563.0" width="3.3" height="3.3" fill="#478eff"/><rect x="66.8" y="563.0" width="3.3" height="3.3" fill="#3f7fff"/><rect x="69.8" y="563.0" width="3.3" height="3.3" fill="#3268ff"/><rect x="72.8" y="563.0" width="3.3" height="3.3" fill="#1c42ff"/><rect x="75.8" y="563.0" width="3.3" height="3.3" fill="#1202ff"/><rect x="78.8" y="563.0" width="3.3" height="3.3" fill="#3615ff"/><rect x="81.8" y="563.0" width="3.3" height="3.3" fill="#4e1fff"/><rect x="84.8" y="563.0" width="3.3" height="3.3" fill="#6227ff"/><rect x="87.8" y="563.0" width="3.3" height="3.3" fill="#742eff"/><rect x="90.8" y="563.0" width="3.3" height="3.3" fill="#8533ff"/><rect x="93.8" y="563.0" width="3.3" height="3.3" fill="#9438ff"/><rect x="96.8" y="563.0" width="3.3" height="3.3" fill="#a23dff"/><rect x="99.8" y="563.0" width="3.3" height="3.3" fill="#b040ff"/><rect x="102.8" y="563.0" width="3.3" height="3.3" fill="#bd44ff"/><rect x="105.8" y="563.0" width="3.3" height="3.3" fill="#ca48ff"/><rect x="108.8" y="563.0" width="3.3" height="3.3" fill="#d64bff"/><rect x="111.8" y="563.0" width="3.3" height="3.3" fill="#e14eff"/><rect x="114.8" y="563.0" width="3.3" height="3.3" fill="#ec4eff"/><rect x="117.8" y="563.0" width="3.3" height="3.3" fill="#f64eff"/><rect x="120.8" y="563.0" width="3.3" height="3.3" fill="#ff4eff"/><rect x="123.8" y="563.0" width="3.3" height="3.3" fill="#ff4ef6"/><rect x="126.8" y="563.0" width="3.3" height="3.3" fill="#ff4eef"/><rect x="129.8" y="563.0" width="3.3" height="3.3" fill="#ff4ee7"/><rect x="132.8" y="563.0" width="3.3" height="3.3" fill="#ff4ee0"/><rect x="135.8" y="563.0" width="3.3" height="3.3" fill="#ff4fda"/><rect x="138.8" y="563.0" width="3.3" height="3.3" fill="#ff4fd4"/><rect x="141.8" y="563.0" width="3.3" height="3.3" fill="#ff4fce"/><rect x="144.8" y="563.0" width="3.3" height="3.3" fill="#ff4fc9"/><rect x="147.8" y="563.0" width="3.3" height="3.3" fill="#ff4fc4"/><rect x="150.8" y="563.0" width="3.3" height="3.3" fill="#ff4fc1"/><rect x="153.8" y="563.0" width="3.3" height="3.3" fill="#ff4fbe"/><rect x="156.8" y="563.0" width="3.3" height="3.3" fill="#ff4fbc"/><rect x="159.8" y="563.0" width="3.3" height="3.3" fill="#ff4fb9"/><rect x="162.8" y="563.0" width="3.3" height="3.3" fill="#ff4fb7"/><rect x="165.8" y="563.0" width="3.3" height="3.3" fill="#ff4fb5"/><rect x="168.8" y="563.0" width="3.3" height="3.3" fill="#ff4fb2"/><rect x="171.8" y="563.0" width="3.3" height="3.3" fill="#ff4fb0"/><rect x="174.8" y="563.0" width="3.3" height="3.3" fill="#ff4fae"/><rect x="177.8" y="563.0" width="3.3" height="3.3" fill="#ff4fad"/><rect x="180.8" y="563.0" width="3.3" height="3.3" fill="#ff4fab"/><rect x="183.8" y="563.0" width="3.3" height="3.3" fill="#ff4fa9"/><rect x="186.8" y="563.0" width="3.3" height="3.3" fill="#ff4fa7"/><rect x="189.8" y="563.0" width="3.3" height="3.3" fill="#ff4fa6"/><rect x="192.8" y="563.0" width="3.3" height="3.3" fill="#ff4fa4"/><rect x="195.8" y="563.0" width="3.3" height="3.3" fill="#ff4fa3"/><rect x="198.8" y="563.0" width="3.3" height="3.3" fill="#ff4fa1"/><rect x="201.8" y="563.0" width="3.3" height="3.3" fill="#ff4fa0"/><rect x="204.8" y="563.0" width="3.3" height="3.3" fill="#ff4f9f"/><rect x="207.8" y="563.0" width="3.3" height="3.3" fill="#ff4f9e"/><rect x="39.8" y="566.0" width="3.3" height="3.3" fill="#63bcff"/><rect x="42.8" y="566.0" width="3.3" height="3.3" fill="#62baff"/><rect x="45.8" y="566.0" width="3.3" height="3.3" fill="#5fb6ff"/><rect x="48.8" y="566.0" width="3.3" height="3.3" fill="#5cb0ff"/><rect x="51.8" y="566.0" width="3.3" height="3.3" fill="#59aaff"/><rect x="54.8" y="566.0" width="3.3" height="3.3" fill="#55a3ff"/><rect x="57.8" y="566.0" width="3.3" height="3.3" fill="#519aff"/><rect x="60.8" y="566.0" width="3.3" height="3.3" fill="#4b8fff"/><rect x="63.8" y="566.0" width="3.3" height="3.3" fill="#4481ff"/><rect x="66.8" y="566.0" width="3.3" height="3.3" fill="#3a6eff"/><rect x="69.8" y="566.0" width="3.3" height="3.3" fill="#2b4fff"/><rect x="72.8" y="566.0" width="3.3" height="3.3" fill="#1c18ff"/><rect x="75.8" y="566.0" width="3.3" height="3.3" fill="#3721ff"/><rect x="78.8" y="566.0" width="3.3" height="3.3" fill="#4c28ff"/><rect x="81.8" y="566.0" width="3.3" height="3.3" fill="#5f2eff"/><rect x="84.8" y="566.0" width="3.3" height="3.3" fill="#6f33ff"/><rect x="87.8" y="566.0" width="3.3" height="3.3" fill="#7f38ff"/><rect x="90.8" y="566.0" width="3.3" height="3.3" fill="#8d3cff"/><rect x="93.8" y="566.0" width="3.3" height="3.3" fill="#9b40ff"/><rect x="96.8" y="566.0" width="3.3" height="3.3" fill="#a843ff"/><rect x="99.8" y="566.0" width="3.3" height="3.3" fill="#b447ff"/><rect x="102.8" y="566.0" width="3.3" height="3.3" fill="#c04aff"/><rect x="105.8" y="566.0" width="3.3" height="3.3" fill="#cc4cff"/><rect x="108.8" y="566.0" width="3.3" height="3.3" fill="#d74fff"/><rect x="111.8" y="566.0" width="3.3" height="3.3" fill="#e252ff"/><rect x="114.8" y="566.0" width="3.3" height="3.3" fill="#ec52ff"/><rect x="117.8" y="566.0" width="3.3" height="3.3" fill="#f552ff"/><rect x="120.8" y="566.0" width="3.3" height="3.3" fill="#fd52ff"/><rect x="123.8" y="566.0" width="3.3" height="3.3" fill="#ff52f9"/><rect x="126.8" y="566.0" width="3.3" height="3.3" fill="#ff51f1"/><rect x="129.8" y="566.0" width="3.3" height="3.3" fill="#ff51ea"/><rect x="132.8" y="566.0" width="3.3" height="3.3" fill="#ff51e4"/><rect x="135.8" y="566.0" width="3.3" height="3.3" fill="#ff51dd"/><rect x="138.8" y="566.0" width="3.3" height="3.3" fill="#ff51d8"/><rect x="141.8" y="566.0" width="3.3" height="3.3" fill="#ff51d2"/><rect x="144.8" y="566.0" width="3.3" height="3.3" fill="#ff51cd"/><rect x="147.8" y="566.0" width="3.3" height="3.3" fill="#ff51c8"/><rect x="150.8" y="566.0" width="3.3" height="3.3" fill="#ff51c4"/><rect x="153.8" y="566.0" width="3.3" height="3.3" fill="#ff51c1"/><rect x="156.8" y="566.0" width="3.3" height="3.3" fill="#ff51bf"/><rect x="159.8" y="566.0" width="3.3" height="3.3" fill="#ff51bc"/><rect x="162.8" y="566.0" width="3.3" height="3.3" fill="#ff51ba"/><rect x="165.8" y="566.0" width="3.3" height="3.3" fill="#ff51b8"/><rect x="168.8" y="566.0" width="3.3" height="3.3" fill="#ff50b5"/><rect x="171.8" y="566.0" width="3.3" height="3.3" fill="#ff50b3"/><rect x="174.8" y="566.0" width="3.3" height="3.3" fill="#ff50b1"/><rect x="177.8" y="566.0" width="3.3" height="3.3" fill="#ff50b0"/><rect x="180.8" y="566.0" width="3.3" height="3.3" fill="#ff50ae"/><rect x="183.8" y="566.0" width="3.3" height="3.3" fill="#ff50ac"/><rect x="186.8" y="566.0" width="3.3" height="3.3" fill="#ff50aa"/><rect x="189.8" y="566.0" width="3.3" height="3.3" fill="#ff50a9"/><rect x="192.8" y="566.0" width="3.3" height="3.3" fill="#ff50a7"/><rect x="195.8" y="566.0" width="3.3" height="3.3" fill="#ff50a6"/><rect x="198.8" y="566.0" width="3.3" height="3.3" fill="#ff50a4"/><rect x="201.8" y="566.0" width="3.3" height="3.3" fill="#ff50a3"/><rect x="204.8" y="566.0" width="3.3" height="3.3" fill="#ff50a2"/><rect x="207.8" y="566.0" width="3.3" height="3.3" fill="#ff50a1"/><rect x="39.8" y="569.0" width="3.3" height="3.3" fill="#61b7ff"/><rect x="42.8" y="569.0" width="3.3" height="3.3" fill="#60b5ff"/><rect x="45.8" y="569.0" width="3.3" height="3.3" fill="#5dafff"/><rect x="48.8" y="569.0" width="3.3" height="3.3" fill="#5aaaff"/><rect x="51.8" y="569.0" width="3.3" height="3.3" fill="#57a3ff"/><rect x="54.8" y="569.0" width="3.3" height="3.3" fill="#539aff"/><rect x="57.8" y="569.0" width="3.3" height="3.3" fill="#4e90ff"/><rect x="60.8" y="569.0" width="3.3" height="3.3" fill="#4883ff"/><rect x="63.8" y="569.0" width="3.3" height="3.3" fill="#4072ff"/><rect x="66.8" y="569.0" width="3.3" height="3.3" fill="#3559ff"/><rect x="69.8" y="569.0" width="3.3" height="3.3" fill="#2324ff"/><rect x="72.8" y="569.0" width="3.3" height="3.3" fill="#3729ff"/><rect x="75.8" y="569.0" width="3.3" height="3.3" fill="#4a2eff"/><rect x="78.8" y="569.0" width="3.3" height="3.3" fill="#5b33ff"/><rect x="81.8" y="569.0" width="3.3" height="3.3" fill="#6b38ff"/><rect x="84.8" y="569.0" width="3.3" height="3.3" fill="#793bff"/><rect x="87.8" y="569.0" width="3.3" height="3.3" fill="#873fff"/><rect x="90.8" y="569.0" width="3.3" height="3.3" fill="#9442ff"/><rect x="93.8" y="569.0" width="3.3" height="3.3" fill="#a046ff"/><rect x="96.8" y="569.0" width="3.3" height="3.3" fill="#ac49ff"/><rect x="99.8" y="569.0" width="3.3" height="3.3" fill="#b74bff"/><rect x="102.8" y="569.0" width="3.3" height="3.3" fill="#c24eff"/><rect x="105.8" y="569.0" width="3.3" height="3.3" fill="#cd50ff"/><rect x="108.8" y="569.0" width="3.3" height="3.3" fill="#d853ff"/><rect x="111.8" y="569.0" width="3.3" height="3.3" fill="#e255ff"/><rect x="114.8" y="569.0" width="3.3" height="3.3" fill="#eb55ff"/><rect x="117.8" y="569.0" width="3.3" height="3.3" fill="#f455ff"/><rect x="120.8" y="569.0" width="3.3" height="3.3" fill="#fc55ff"/><rect x="123.8" y="569.0" width="3.3" height="3.3" fill="#ff54fb"/><rect x="126.8" y="569.0" width="3.3" height="3.3" fill="#ff54f3"/><rect x="129.8" y="569.0" width="3.3" height="3.3" fill="#ff54ed"/><rect x="132.8" y="569.0" width="3.3" height="3.3" fill="#ff54e6"/><rect x="135.8" y="569.0" width="3.3" height="3.3" fill="#ff53e1"/><rect x="138.8" y="569.0" width="3.3" height="3.3" fill="#ff53db"/><rect x="141.8" y="569.0" width="3.3" height="3.3" fill="#ff53d6"/><rect x="144.8" y="569.0" width="3.3" height="3.3" fill="#ff53d1"/><rect x="147.8" y="569.0" width="3.3" height="3.3" fill="#ff53cc"/><rect x="150.8" y="569.0" width="3.3" height="3.3" fill="#ff53c7"/><rect x="153.8" y="569.0" width="3.3" height="3.3" fill="#ff53c4"/><rect x="156.8" y="569.0" width="3.3" height="3.3" fill="#ff52c1"/><rect x="159.8" y="569.0" width="3.3" height="3.3" fill="#ff52bf"/><rect x="162.8" y="569.0" width="3.3" height="3.3" fill="#ff52bd"/><rect x="165.8" y="569.0" width="3.3" height="3.3" fill="#ff52ba"/><rect x="168.8" y="569.0" width="3.3" height="3.3" fill="#ff52b8"/><rect x="171.8" y="569.0" width="3.3" height="3.3" fill="#ff52b6"/><rect x="174.8" y="569.0" width="3.3" height="3.3" fill="#ff52b4"/><rect x="177.8" y="569.0" width="3.3" height="3.3" fill="#ff52b2"/><rect x="180.8" y="569.0" width="3.3" height="3.3" fill="#ff52b1"/><rect x="183.8" y="569.0" width="3.3" height="3.3" fill="#ff52af"/><rect x="186.8" y="569.0" width="3.3" height="3.3" fill="#ff52ad"/><rect x="189.8" y="569.0" width="3.3" height="3.3" fill="#ff52ac"/><rect x="192.8" y="569.0" width="3.3" height="3.3" fill="#ff51aa"/><rect x="195.8" y="569.0" width="3.3" height="3.3" fill="#ff51a9"/><rect x="198.8" y="569.0" width="3.3" height="3.3" fill="#ff51a7"/><rect x="201.8" y="569.0" width="3.3" height="3.3" fill="#ff51a6"/><rect x="204.8" y="569.0" width="3.3" height="3.3" fill="#ff51a5"/><rect x="207.8" y="569.0" width="3.3" height="3.3" fill="#ff51a3"/><rect x="39.8" y="572.0" width="3.3" height="3.3" fill="#60b1ff"/><rect x="42.8" y="572.0" width="3.3" height="3.3" fill="#5eafff"/><rect x="45.8" y="572.0" width="3.3" height="3.3" fill="#5ca9ff"/><rect x="48.8" y="572.0" width="3.3" height="3.3" fill="#59a2ff"/><rect x="51.8" y="572.0" width="3.3" height="3.3" fill="#559aff"/><rect x="54.8" y="572.0" width="3.3" height="3.3" fill="#5091ff"/><rect x="57.8" y="572.0" width="3.3" height="3.3" fill="#4b85ff"/><rect x="60.8" y="572.0" width="3.3" height="3.3" fill="#4476ff"/><rect x="63.8" y="572.0" width="3.3" height="3.3" fill="#3b60ff"/><rect x="66.8" y="572.0" width="3.3" height="3.3" fill="#2f3aff"/><rect x="69.8" y="572.0" width="3.3" height="3.3" fill="#372fff"/><rect x="72.8" y="572.0" width="3.3" height="3.3" fill="#4933ff"/><rect x="75.8" y="572.0" width="3.3" height="3.3" fill="#5937ff"/><rect x="78.8" y="572.0" width="3.3" height="3.3" fill="#673bff"/><rect x="81.8" y="572.0" width="3.3" height="3.3" fill="#753fff"/><rect x="84.8" y="572.0" width="3.3" height="3.3" fill="#8242ff"/><rect x="87.8" y="572.0" width="3.3" height="3.3" fill="#8e45ff"/><rect x="90.8" y="572.0" width="3.3" height="3.3" fill="#9a48ff"/><rect x="93.8" y="572.0" width="3.3" height="3.3" fill="#a54aff"/><rect x="96.8" y="572.0" width="3.3" height="3.3" fill="#b04dff"/><rect x="99.8" y="572.0" width="3.3" height="3.3" fill="#ba4fff"/><rect x="102.8" y="572.0" width="3.3" height="3.3" fill="#c552ff"/><rect x="105.8" y="572.0" width="3.3" height="3.3" fill="#cf54ff"/><rect x="108.8" y="572.0" width="3.3" height="3.3" fill="#d856ff"/><rect x="111.8" y="572.0" width="3.3" height="3.3" fill="#e258ff"/><rect x="114.8" y="572.0" width="3.3" height="3.3" fill="#eb58ff"/><rect x="117.8" y="572.0" width="3.3" height="3.3" fill="#f358ff"/><rect x="120.8" y="572.0" width="3.3" height="3.3" fill="#fb57ff"/><rect x="123.8" y="572.0" width="3.3" height="3.3" fill="#ff57fc"/><rect x="126.8" y="572.0" width="3.3" height="3.3" fill="#ff56f5"/><rect x="129.8" y="572.0" width="3.3" height="3.3" fill="#ff56ef"/><rect x="132.8" y="572.0" width="3.3" height="3.3" fill="#ff56e9"/><rect x="135.8" y="572.0" width="3.3" height="3.3" fill="#ff56e3"/><rect x="138.8" y="572.0" width="3.3" height="3.3" fill="#ff55de"/><rect x="141.8" y="572.0" width="3.3" height="3.3" fill="#ff55d9"/><rect x="144.8" y="572.0" width="3.3" height="3.3" fill="#ff55d4"/><rect x="147.8" y="572.0" width="3.3" height="3.3" fill="#ff55cf"/><rect x="150.8" y="572.0" width="3.3" height="3.3" fill="#ff54cb"/><rect x="153.8" y="572.0" width="3.3" height="3.3" fill="#ff54c7"/><rect x="156.8" y="572.0" width="3.3" height="3.3" fill="#ff54c4"/><rect x="159.8" y="572.0" width="3.3" height="3.3" fill="#ff54c1"/><rect x="162.8" y="572.0" width="3.3" height="3.3" fill="#ff54bf"/><rect x="165.8" y="572.0" width="3.3" height="3.3" fill="#ff54bd"/><rect x="168.8" y="572.0" width="3.3" height="3.3" fill="#ff54bb"/><rect x="171.8" y="572.0" width="3.3" height="3.3" fill="#ff53b9"/><rect x="174.8" y="572.0" width="3.3" height="3.3" fill="#ff53b7"/><rect x="177.8" y="572.0" width="3.3" height="3.3" fill="#ff53b5"/><rect x="180.8" y="572.0" width="3.3" height="3.3" fill="#ff53b3"/><rect x="183.8" y="572.0" width="3.3" height="3.3" fill="#ff53b2"/><rect x="186.8" y="572.0" width="3.3" height="3.3" fill="#ff53b0"/><rect x="189.8" y="572.0" width="3.3" height="3.3" fill="#ff53ae"/><rect x="192.8" y="572.0" width="3.3" height="3.3" fill="#ff53ad"/><rect x="195.8" y="572.0" width="3.3" height="3.3" fill="#ff53ab"/><rect x="198.8" y="572.0" width="3.3" height="3.3" fill="#ff53aa"/><rect x="201.8" y="572.0" width="3.3" height="3.3" fill="#ff52a9"/><rect x="204.8" y="572.0" width="3.3" height="3.3" fill="#ff52a7"/><rect x="207.8" y="572.0" width="3.3" height="3.3" fill="#ff52a6"/><rect x="39.8" y="575.0" width="3.3" height="3.3" fill="#5fafff"/><rect x="42.8" y="575.0" width="3.3" height="3.3" fill="#5eacff"/><rect x="45.8" y="575.0" width="3.3" height="3.3" fill="#5ba6ff"/><rect x="48.8" y="575.0" width="3.3" height="3.3" fill="#589fff"/><rect x="51.8" y="575.0" width="3.3" height="3.3" fill="#5497ff"/><rect x="54.8" y="575.0" width="3.3" height="3.3" fill="#508dff"/><rect x="57.8" y="575.0" width="3.3" height="3.3" fill="#4a81ff"/><rect x="60.8" y="575.0" width="3.3" height="3.3" fill="#4370ff"/><rect x="63.8" y="575.0" width="3.3" height="3.3" fill="#3a58ff"/><rect x="66.8" y="575.0" width="3.3" height="3.3" fill="#2e2eff"/><rect x="69.8" y="575.0" width="3.3" height="3.3" fill="#3e32ff"/><rect x="72.8" y="575.0" width="3.3" height="3.3" fill="#4e36ff"/><rect x="75.8" y="575.0" width="3.3" height="3.3" fill="#5d3aff"/><rect x="78.8" y="575.0" width="3.3" height="3.3" fill="#6b3dff"/><rect x="81.8" y="575.0" width="3.3" height="3.3" fill="#7841ff"/><rect x="84.8" y="575.0" width="3.3" height="3.3" fill="#8444ff"/><rect x="87.8" y="575.0" width="3.3" height="3.3" fill="#9047ff"/><rect x="90.8" y="575.0" width="3.3" height="3.3" fill="#9c49ff"/><rect x="93.8" y="575.0" width="3.3" height="3.3" fill="#a64cff"/><rect x="96.8" y="575.0" width="3.3" height="3.3" fill="#b14eff"/><rect x="99.8" y="575.0" width="3.3" height="3.3" fill="#bb50ff"/><rect x="102.8" y="575.0" width="3.3" height="3.3" fill="#c553ff"/><rect x="105.8" y="575.0" width="3.3" height="3.3" fill="#cf55ff"/><rect x="108.8" y="575.0" width="3.3" height="3.3" fill="#d857ff"/><rect x="111.8" y="575.0" width="3.3" height="3.3" fill="#e259ff"/><rect x="114.8" y="575.0" width="3.3" height="3.3" fill="#ea59ff"/><rect x="117.8" y="575.0" width="3.3" height="3.3" fill="#f259ff"/><rect x="120.8" y="575.0" width="3.3" height="3.3" fill="#fa58ff"/><rect x="123.8" y="575.0" width="3.3" height="3.3" fill="#ff58fd"/><rect x="126.8" y="575.0" width="3.3" height="3.3" fill="#ff57f6"/><rect x="129.8" y="575.0" width="3.3" height="3.3" fill="#ff57f0"/><rect x="132.8" y="575.0" width="3.3" height="3.3" fill="#ff57ea"/><rect x="135.8" y="575.0" width="3.3" height="3.3" fill="#ff56e4"/><rect x="138.8" y="575.0" width="3.3" height="3.3" fill="#ff56df"/><rect x="141.8" y="575.0" width="3.3" height="3.3" fill="#ff56da"/><rect x="144.8" y="575.0" width="3.3" height="3.3" fill="#ff55d5"/><rect x="147.8" y="575.0" width="3.3" height="3.3" fill="#ff55d1"/><rect x="150.8" y="575.0" width="3.3" height="3.3" fill="#ff55cc"/><rect x="153.8" y="575.0" width="3.3" height="3.3" fill="#ff55c8"/><rect x="156.8" y="575.0" width="3.3" height="3.3" fill="#ff55c5"/><rect x="159.8" y="575.0" width="3.3" height="3.3" fill="#ff54c2"/><rect x="162.8" y="575.0" width="3.3" height="3.3" fill="#ff54c0"/><rect x="165.8" y="575.0" width="3.3" height="3.3" fill="#ff54be"/><rect x="168.8" y="575.0" width="3.3" height="3.3" fill="#ff54bc"/><rect x="171.8" y="575.0" width="3.3" height="3.3" fill="#ff54ba"/><rect x="174.8" y="575.0" width="3.3" height="3.3" fill="#ff54b8"/><rect x="177.8" y="575.0" width="3.3" height="3.3" fill="#ff54b6"/><rect x="180.8" y="575.0" width="3.3" height="3.3" fill="#ff54b4"/><rect x="183.8" y="575.0" width="3.3" height="3.3" fill="#ff53b3"/><rect x="186.8" y="575.0" width="3.3" height="3.3" fill="#ff53b1"/><rect x="189.8" y="575.0" width="3.3" height="3.3" fill="#ff53af"/><rect x="192.8" y="575.0" width="3.3" height="3.3" fill="#ff53ae"/><rect x="195.8" y="575.0" width="3.3" height="3.3" fill="#ff53ac"/><rect x="198.8" y="575.0" width="3.3" height="3.3" fill="#ff53ab"/><rect x="201.8" y="575.0" width="3.3" height="3.3" fill="#ff53aa"/><rect x="204.8" y="575.0" width="3.3" height="3.3" fill="#ff53a8"/><rect x="207.8" y="575.0" width="3.3" height="3.3" fill="#ff53a7"/><rect x="39.8" y="578.0" width="3.3" height="3.3" fill="#5fafff"/><rect x="42.8" y="578.0" width="3.3" height="3.3" fill="#5eacff"/><rect x="45.8" y="578.0" width="3.3" height="3.3" fill="#5ba6ff"/><rect x="48.8" y="578.0" width="3.3" height="3.3" fill="#589fff"/><rect x="51.8" y="578.0" width="3.3" height="3.3" fill="#5497ff"/><rect x="54.8" y="578.0" width="3.3" height="3.3" fill="#508dff"/><rect x="57.8" y="578.0" width="3.3" height="3.3" fill="#4a81ff"/><rect x="60.8" y="578.0" width="3.3" height="3.3" fill="#4370ff"/><rect x="63.8" y="578.0" width="3.3" height="3.3" fill="#3a58ff"/><rect x="66.8" y="578.0" width="3.3" height="3.3" fill="#2e2eff"/><rect x="69.8" y="578.0" width="3.3" height="3.3" fill="#3e32ff"/><rect x="72.8" y="578.0" width="3.3" height="3.3" fill="#4e36ff"/><rect x="75.8" y="578.0" width="3.3" height="3.3" fill="#5d3aff"/><rect x="78.8" y="578.0" width="3.3" height="3.3" fill="#6b3dff"/><rect x="81.8" y="578.0" width="3.3" height="3.3" fill="#7841ff"/><rect x="84.8" y="578.0" width="3.3" height="3.3" fill="#8444ff"/><rect x="87.8" y="578.0" width="3.3" height="3.3" fill="#9047ff"/><rect x="90.8" y="578.0" width="3.3" height="3.3" fill="#9c49ff"/><rect x="93.8" y="578.0" width="3.3" height="3.3" fill="#a64cff"/><rect x="96.8" y="578.0" width="3.3" height="3.3" fill="#b14eff"/><rect x="99.8" y="578.0" width="3.3" height="3.3" fill="#bb50ff"/><rect x="102.8" y="578.0" width="3.3" height="3.3" fill="#c553ff"/><rect x="105.8" y="578.0" width="3.3" height="3.3" fill="#cf55ff"/><rect x="108.8" y="578.0" width="3.3" height="3.3" fill="#d857ff"/><rect x="111.8" y="578.0" width="3.3" height="3.3" fill="#e259ff"/><rect x="114.8" y="578.0" width="3.3" height="3.3" fill="#ea59ff"/><rect x="117.8" y="578.0" width="3.3" height="3.3" fill="#f259ff"/><rect x="120.8" y="578.0" width="3.3" height="3.3" fill="#fa58ff"/><rect x="123.8" y="578.0" width="3.3" height="3.3" fill="#ff58fd"/><rect x="126.8" y="578.0" width="3.3" height="3.3" fill="#ff57f6"/><rect x="129.8" y="578.0" width="3.3" height="3.3" fill="#ff57f0"/><rect x="132.8" y="578.0" width="3.3" height="3.3" fill="#ff57ea"/><rect x="135.8" y="578.0" width="3.3" height="3.3" fill="#ff56e4"/><rect x="138.8" y="578.0" width="3.3" height="3.3" fill="#ff56df"/><rect x="141.8" y="578.0" width="3.3" height="3.3" fill="#ff56da"/><rect x="144.8" y="578.0" width="3.3" height="3.3" fill="#ff55d5"/><rect x="147.8" y="578.0" width="3.3" height="3.3" fill="#ff55d1"/><rect x="150.8" y="578.0" width="3.3" height="3.3" fill="#ff55cc"/><rect x="153.8" y="578.0" width="3.3" height="3.3" fill="#ff55c8"/><rect x="156.8" y="578.0" width="3.3" height="3.3" fill="#ff55c5"/><rect x="159.8" y="578.0" width="3.3" height="3.3" fill="#ff54c2"/><rect x="162.8" y="578.0" width="3.3" height="3.3" fill="#ff54c0"/><rect x="165.8" y="578.0" width="3.3" height="3.3" fill="#ff54be"/><rect x="168.8" y="578.0" width="3.3" height="3.3" fill="#ff54bc"/><rect x="171.8" y="578.0" width="3.3" height="3.3" fill="#ff54ba"/><rect x="174.8" y="578.0" width="3.3" height="3.3" fill="#ff54b8"/><rect x="177.8" y="578.0" width="3.3" height="3.3" fill="#ff54b6"/><rect x="180.8" y="578.0" width="3.3" height="3.3" fill="#ff54b4"/><rect x="183.8" y="578.0" width="3.3" height="3.3" fill="#ff53b3"/><rect x="186.8" y="578.0" width="3.3" height="3.3" fill="#ff53b1"/><rect x="189.8" y="578.0" width="3.3" height="3.3" fill="#ff53af"/><rect x="192.8" y="578.0" width="3.3" height="3.3" fill="#ff53ae"/><rect x="195.8" y="578.0" width="3.3" height="3.3" fill="#ff53ac"/><rect x="198.8" y="578.0" width="3.3" height="3.3" fill="#ff53ab"/><rect x="201.8" y="578.0" width="3.3" height="3.3" fill="#ff53aa"/><rect x="204.8" y="578.0" width="3.3" height="3.3" fill="#ff53a8"/><rect x="207.8" y="578.0" width="3.3" height="3.3" fill="#ff53a7"/></g></g><path d="M80.58 574.49C80.55 574.49 80.50 574.50 80.43 574.49C80.36 574.48 80.30 574.50 80.17 574.44C80.03 574.38 79.87 574.30 79.62 574.13C79.37 573.97 79.09 573.76 78.64 573.45C78.19 573.15 77.68 572.83 76.94 572.30C76.20 571.77 74.96 570.90 74.19 570.27C73.43 569.65 73.06 569.34 72.34 568.54C71.62 567.75 70.79 566.84 69.85 565.51C68.91 564.19 67.88 562.72 66.69 560.60C65.50 558.49 64.19 556.05 62.70 552.83C61.22 549.62 59.44 545.90 57.78 541.32C56.11 536.74 54.34 531.34 52.70 525.36C51.05 519.37 49.27 512.30 47.92 505.43C46.57 498.56 45.30 490.98 44.59 484.15C43.88 477.32 43.44 470.42 43.65 464.44C43.86 458.47 44.56 452.73 45.83 448.29C47.10 443.86 49.09 440.19 51.28 437.83C53.47 435.47 56.26 434.54 59.00 434.14C61.73 433.74 64.77 434.64 67.70 435.42C70.62 436.21 73.67 437.60 76.52 438.86C79.38 440.12 82.13 441.52 84.85 442.98C87.57 444.43 90.20 445.98 92.85 447.60C95.50 449.21 98.13 450.93 100.74 452.68C103.36 454.43 105.95 456.25 108.55 458.09C111.15 459.94 113.73 461.84 116.33 463.75C118.93 465.66 121.54 467.62 124.14 469.57C126.73 471.53 129.32 473.51 131.90 475.48C134.48 477.45 137.07 479.43 139.61 481.39C142.16 483.35 144.69 485.31 147.18 487.23C149.66 489.15 152.13 491.06 154.52 492.92C156.92 494.78 159.29 496.61 161.57 498.37C163.84 500.13 166.08 501.85 168.19 503.48C170.30 505.12 172.35 506.71 174.23 508.17C176.11 509.63 177.84 510.96 179.49 512.24C181.13 513.51 182.70 514.72 184.11 515.81C185.52 516.89 186.37 517.54 187.94 518.75C189.52 519.97 192.02 521.92 193.55 523.10C195.08 524.29 196.12 525.09 197.12 525.86C198.12 526.64 198.88 527.24 199.54 527.74C200.20 528.25 200.67 528.60 201.07 528.91C201.47 529.22 201.67 529.38 201.94 529.59C202.21 529.80 202.51 530.03 202.68 530.16C202.85 530.30 202.92 530.35 202.96 530.38Z" fill="none" stroke="#111" stroke-width="1.1" stroke-linejoin="round"/><rect x="42.80" y="423.00" width="174.90" height="152.30" fill="none" stroke="#2a2a2a" stroke-width="1.5"/><line x1="39.80" y1="575.30" x2="42.80" y2="575.30" stroke="#2a2a2a" stroke-width="1.1"/><text x="38.20" y="578.80" font-size="10" font-weight="bold" text-anchor="end" fill="#111" >0.0</text><line x1="39.80" y1="558.37" x2="42.80" y2="558.37" stroke="#2a2a2a" stroke-width="1.1"/><text x="38.20" y="561.87" font-size="10" font-weight="bold" text-anchor="end" fill="#111" >0.1</text><line x1="39.80" y1="541.44" x2="42.80" y2="541.44" stroke="#2a2a2a" stroke-width="1.1"/><text x="38.20" y="544.94" font-size="10" font-weight="bold" text-anchor="end" fill="#111" >0.2</text><line x1="39.80" y1="524.51" x2="42.80" y2="524.51" stroke="#2a2a2a" stroke-width="1.1"/><text x="38.20" y="528.01" font-size="10" font-weight="bold" text-anchor="end" fill="#111" >0.3</text><line x1="39.80" y1="507.58" x2="42.80" y2="507.58" stroke="#2a2a2a" stroke-width="1.1"/><text x="38.20" y="511.08" font-size="10" font-weight="bold" text-anchor="end" fill="#111" >0.4</text><line x1="39.80" y1="490.65" x2="42.80" y2="490.65" stroke="#2a2a2a" stroke-width="1.1"/><text x="38.20" y="494.15" font-size="10" font-weight="bold" text-anchor="end" fill="#111" >0.5</text><line x1="39.80" y1="473.72" x2="42.80" y2="473.72" stroke="#2a2a2a" stroke-width="1.1"/><text x="38.20" y="477.22" font-size="10" font-weight="bold" text-anchor="end" fill="#111" >0.6</text><line x1="39.80" y1="456.79" x2="42.80" y2="456.79" stroke="#2a2a2a" stroke-width="1.1"/><text x="38.20" y="460.29" font-size="10" font-weight="bold" text-anchor="end" fill="#111" >0.7</text><line x1="39.80" y1="439.86" x2="42.80" y2="439.86" stroke="#2a2a2a" stroke-width="1.1"/><text x="38.20" y="443.36" font-size="10" font-weight="bold" text-anchor="end" fill="#111" >0.8</text><line x1="39.80" y1="422.93" x2="42.80" y2="422.93" stroke="#2a2a2a" stroke-width="1.1"/><text x="38.20" y="426.43" font-size="10" font-weight="bold" text-anchor="end" fill="#111" >0.9</text><line x1="41.20" y1="566.83" x2="42.80" y2="566.83" stroke="#2a2a2a" stroke-width="1"/><line x1="41.20" y1="549.90" x2="42.80" y2="549.90" stroke="#2a2a2a" stroke-width="1"/><line x1="41.20" y1="532.97" x2="42.80" y2="532.97" stroke="#2a2a2a" stroke-width="1"/><line x1="41.20" y1="516.04" x2="42.80" y2="516.04" stroke="#2a2a2a" stroke-width="1"/><line x1="41.20" y1="499.11" x2="42.80" y2="499.11" stroke="#2a2a2a" stroke-width="1"/><line x1="41.20" y1="482.18" x2="42.80" y2="482.18" stroke="#2a2a2a" stroke-width="1"/><line x1="41.20" y1="465.25" x2="42.80" y2="465.25" stroke="#2a2a2a" stroke-width="1"/><line x1="41.20" y1="448.32" x2="42.80" y2="448.32" stroke="#2a2a2a" stroke-width="1"/><line x1="41.20" y1="431.39" x2="42.80" y2="431.39" stroke="#2a2a2a" stroke-width="1"/><line x1="42.80" y1="575.30" x2="42.80" y2="578.30" stroke="#2a2a2a" stroke-width="1.1"/><text x="42.80" y="588.90" font-size="10" font-weight="bold" text-anchor="middle" fill="#111" >0.0</text><line x1="64.60" y1="575.30" x2="64.60" y2="578.30" stroke="#2a2a2a" stroke-width="1.1"/><text x="64.60" y="588.90" font-size="10" font-weight="bold" text-anchor="middle" fill="#111" >0.1</text><line x1="86.40" y1="575.30" x2="86.40" y2="578.30" stroke="#2a2a2a" stroke-width="1.1"/><text x="86.40" y="588.90" font-size="10" font-weight="bold" text-anchor="middle" fill="#111" >0.2</text><line x1="108.20" y1="575.30" x2="108.20" y2="578.30" stroke="#2a2a2a" stroke-width="1.1"/><text x="108.20" y="588.90" font-size="10" font-weight="bold" text-anchor="middle" fill="#111" >0.3</text><line x1="130.00" y1="575.30" x2="130.00" y2="578.30" stroke="#2a2a2a" stroke-width="1.1"/><text x="130.00" y="588.90" font-size="10" font-weight="bold" text-anchor="middle" fill="#111" >0.4</text><line x1="151.80" y1="575.30" x2="151.80" y2="578.30" stroke="#2a2a2a" stroke-width="1.1"/><text x="151.80" y="588.90" font-size="10" font-weight="bold" text-anchor="middle" fill="#111" >0.5</text><line x1="173.60" y1="575.30" x2="173.60" y2="578.30" stroke="#2a2a2a" stroke-width="1.1"/><text x="173.60" y="588.90" font-size="10" font-weight="bold" text-anchor="middle" fill="#111" >0.6</text><line x1="195.40" y1="575.30" x2="195.40" y2="578.30" stroke="#2a2a2a" stroke-width="1.1"/><text x="195.40" y="588.90" font-size="10" font-weight="bold" text-anchor="middle" fill="#111" >0.7</text><line x1="217.20" y1="575.30" x2="217.20" y2="578.30" stroke="#2a2a2a" stroke-width="1.1"/><text x="217.20" y="588.90" font-size="10" font-weight="bold" text-anchor="middle" fill="#111" >0.8</text><line x1="53.70" y1="575.30" x2="53.70" y2="576.90" stroke="#2a2a2a" stroke-width="1"/><line x1="75.50" y1="575.30" x2="75.50" y2="576.90" stroke="#2a2a2a" stroke-width="1"/><line x1="97.30" y1="575.30" x2="97.30" y2="576.90" stroke="#2a2a2a" stroke-width="1"/><line x1="119.10" y1="575.30" x2="119.10" y2="576.90" stroke="#2a2a2a" stroke-width="1"/><line x1="140.90" y1="575.30" x2="140.90" y2="576.90" stroke="#2a2a2a" stroke-width="1"/><line x1="162.70" y1="575.30" x2="162.70" y2="576.90" stroke="#2a2a2a" stroke-width="1"/><line x1="184.50" y1="575.30" x2="184.50" y2="576.90" stroke="#2a2a2a" stroke-width="1"/><line x1="206.30" y1="575.30" x2="206.30" y2="576.90" stroke="#2a2a2a" stroke-width="1"/><text x="214.80" y="435.30" font-size="11.4" font-weight="bold" text-anchor="end" fill="#111" >CIE 1931</text><text transform="translate(16.30,500.00) rotate(-90)" x="0" y="3.94" font-size="11" font-weight="bold" text-anchor="middle" fill="#111">CIE Y</text><text x="131.90" y="605.20" font-size="11.6" font-weight="bold" text-anchor="middle" fill="#111" >CIE X</text><polygon points="88.70,542.90 89.44,544.88 91.55,544.97 89.90,546.29 90.46,548.33 88.70,547.16 86.94,548.33 87.50,546.29 85.85,544.97 87.96,544.88" fill="#1c1cf0"/><polygon points="98.80,529.40 99.54,531.38 101.65,531.47 100.00,532.79 100.56,534.83 98.80,533.66 97.04,534.83 97.60,532.79 95.95,531.47 98.06,531.38" fill="#1c1cf0"/><polygon points="109.10,512.40 109.84,514.38 111.95,514.47 110.30,515.79 110.86,517.83 109.10,516.66 107.34,517.83 107.90,515.79 106.25,514.47 108.36,514.38" fill="#1c1cf0"/><polygon points="115.80,504.00 116.54,505.98 118.65,506.07 117.00,507.39 117.56,509.43 115.80,508.26 114.04,509.43 114.60,507.39 112.95,506.07 115.06,505.98" fill="#1c1cf0"/><polygon points="116.80,505.80 117.54,507.78 119.65,507.87 118.00,509.19 118.56,511.23 116.80,510.06 115.04,511.23 115.60,509.19 113.95,507.87 116.06,507.78" fill="#1c1cf0"/><polygon points="116.80,518.80 117.54,520.78 119.65,520.87 118.00,522.19 118.56,524.23 116.80,523.06 115.04,524.23 115.60,522.19 113.95,520.87 116.06,520.78" fill="#1c1cf0"/><polygon points="125.00,530.10 125.74,532.08 127.85,532.17 126.20,533.49 126.76,535.53 125.00,534.36 123.24,535.53 123.80,533.49 122.15,532.17 124.26,532.08" fill="#1c1cf0"/><polygon points="145.60,492.70 146.34,494.68 148.45,494.77 146.80,496.09 147.36,498.13 145.60,496.96 143.84,498.13 144.40,496.09 142.75,494.77 144.86,494.68" fill="#1c1cf0"/><polygon points="141.60,504.50 142.34,506.48 144.45,506.57 142.80,507.89 143.36,509.93 141.60,508.76 139.84,509.93 140.40,507.89 138.75,506.57 140.86,506.48" fill="#1c1cf0"/><polygon points="144.30,509.10 145.04,511.08 147.15,511.17 145.50,512.49 146.06,514.53 144.30,513.36 142.54,514.53 143.10,512.49 141.45,511.17 143.56,511.08" fill="#1c1cf0"/><polygon points="138.70,516.90 139.44,518.88 141.55,518.97 139.90,520.29 140.46,522.33 138.70,521.16 136.94,522.33 137.50,520.29 135.85,518.97 137.96,518.88" fill="#1c1cf0"/><polygon points="159.90,516.60 160.64,518.58 162.75,518.67 161.10,519.99 161.66,522.03 159.90,520.86 158.14,522.03 158.70,519.99 157.05,518.67 159.16,518.58" fill="#1c1cf0"/><polygon points="149.30,520.90 150.04,522.88 152.15,522.97 150.50,524.29 151.06,526.33 149.30,525.16 147.54,526.33 148.10,524.29 146.45,522.97 148.56,522.88" fill="#1c1cf0"/><polygon points="157.50,523.30 158.24,525.28 160.35,525.37 158.70,526.69 159.26,528.73 157.50,527.56 155.74,528.73 156.30,526.69 154.65,525.37 156.76,525.28" fill="#1c1cf0"/><text x="81.30" y="548.40" font-size="9.5" font-weight="bold" text-anchor="middle" fill="#111" >5</text><text x="91.80" y="535.40" font-size="9.5" font-weight="bold" text-anchor="middle" fill="#111" >6</text><text x="98.80" y="518.40" font-size="9.5" font-weight="bold" text-anchor="middle" fill="#111" >9</text><text x="108.60" y="506.40" font-size="9.5" font-weight="bold" text-anchor="middle" fill="#111" >2</text><text x="122.80" y="514.80" font-size="9.5" font-weight="bold" text-anchor="middle" fill="#111" >3</text><text x="112.40" y="533.00" font-size="9.5" font-weight="bold" text-anchor="middle" fill="#111" >14</text><text x="129.60" y="539.80" font-size="9.5" font-weight="bold" text-anchor="middle" fill="#111" >7</text><text x="131.90" y="526.10" font-size="9.5" font-weight="bold" text-anchor="middle" fill="#111" >12</text><text x="140.10" y="495.00" font-size="9.5" font-weight="bold" text-anchor="middle" fill="#111" >8</text><text x="134.70" y="508.20" font-size="9.5" font-weight="bold" text-anchor="middle" fill="#111" >10</text><text x="152.00" y="514.20" font-size="9.5" font-weight="bold" text-anchor="middle" fill="#111" >11</text><text x="166.10" y="521.50" font-size="9.5" font-weight="bold" text-anchor="middle" fill="#111" >4</text><text x="146.50" y="534.80" font-size="9.5" font-weight="bold" text-anchor="middle" fill="#111" >13</text><text x="162.00" y="534.30" font-size="9.5" font-weight="bold" text-anchor="middle" fill="#111" >1</text><text x="231.60" y="417.40" font-size="20" font-weight="bold" text-anchor="start" fill="#111" >(d)</text><rect x="266.50" y="424.20" width="180.30" height="150.90" fill="url(#plotBg)"/><rect x="277.80" y="487.79" width="23.00" height="87.31" fill="url(#bar_r)"/><path d="M289.30 481.90V493.60M287.30 481.90H291.30M287.30 493.60H291.30" stroke="#e85a60" stroke-width="1" fill="none"/><rect x="322.70" y="519.05" width="22.80" height="56.05" fill="url(#bar_y)"/><path d="M334.10 515.20V523.10M332.10 515.20H336.10M332.10 523.10H336.10" stroke="#ec9848" stroke-width="1" fill="none"/><rect x="367.40" y="538.45" width="22.50" height="36.65" fill="url(#bar_b)"/><path d="M378.65 531.00V545.50M376.65 531.00H380.65M376.65 545.50H380.65" stroke="#4a7cc0" stroke-width="1" fill="none"/><rect x="412.10" y="437.13" width="22.50" height="137.97" fill="url(#bar_g)"/><path d="M423.35 432.30V441.30M421.35 432.30H425.35M421.35 441.30H425.35" stroke="#78b840" stroke-width="1" fill="none"/><rect x="266.50" y="424.20" width="180.30" height="150.90" fill="none" stroke="#2a2a2a" stroke-width="1.5"/><line x1="264.00" y1="575.10" x2="266.50" y2="575.10" stroke="#2a2a2a" stroke-width="1.1"/><text x="261.40" y="579.00" font-size="11" font-weight="bold" text-anchor="end" fill="#111" >0</text><line x1="264.00" y1="553.54" x2="266.50" y2="553.54" stroke="#2a2a2a" stroke-width="1.1"/><text x="261.40" y="557.44" font-size="11" font-weight="bold" text-anchor="end" fill="#111" >1</text><line x1="264.00" y1="531.99" x2="266.50" y2="531.99" stroke="#2a2a2a" stroke-width="1.1"/><text x="261.40" y="535.89" font-size="11" font-weight="bold" text-anchor="end" fill="#111" >2</text><line x1="264.00" y1="510.43" x2="266.50" y2="510.43" stroke="#2a2a2a" stroke-width="1.1"/><text x="261.40" y="514.33" font-size="11" font-weight="bold" text-anchor="end" fill="#111" >3</text><line x1="264.00" y1="488.87" x2="266.50" y2="488.87" stroke="#2a2a2a" stroke-width="1.1"/><text x="261.40" y="492.77" font-size="11" font-weight="bold" text-anchor="end" fill="#111" >4</text><line x1="264.00" y1="467.31" x2="266.50" y2="467.31" stroke="#2a2a2a" stroke-width="1.1"/><text x="261.40" y="471.21" font-size="11" font-weight="bold" text-anchor="end" fill="#111" >5</text><line x1="264.00" y1="445.76" x2="266.50" y2="445.76" stroke="#2a2a2a" stroke-width="1.1"/><text x="261.40" y="449.66" font-size="11" font-weight="bold" text-anchor="end" fill="#111" >6</text><line x1="264.00" y1="424.20" x2="266.50" y2="424.20" stroke="#2a2a2a" stroke-width="1.1"/><text x="261.40" y="428.10" font-size="11" font-weight="bold" text-anchor="end" fill="#111" >7</text><text x="355.50" y="438.90" font-size="13.2" font-weight="bold" text-anchor="middle" fill="#111" >Dry-rubbing</text><text transform="translate(242.50,489.30) rotate(-90)" x="0" y="4.65" font-size="13" font-weight="bold" text-anchor="middle" fill="#111">&#916;E Value</text><text x="357.00" y="591.20" font-size="13" font-weight="bold" text-anchor="middle" fill="#111" >Different samples</text><text transform="translate(289.30,533.20) rotate(-90)" x="0" y="3.94" font-size="11" font-weight="bold" text-anchor="middle" fill="#111">COS-E-AI</text><text transform="translate(334.00,551.00) rotate(-90)" x="0" y="3.94" font-size="11" font-weight="bold" text-anchor="middle" fill="#111">COS-T-AI</text><text transform="translate(396.60,549.20) rotate(-90)" x="0" y="3.94" font-size="11" font-weight="bold" text-anchor="middle" fill="#111">COS-R-AI</text><text transform="translate(423.80,516.00) rotate(-90)" x="0" y="3.94" font-size="11" font-weight="bold" text-anchor="middle" fill="#111">TWS</text><text x="458.10" y="418.00" font-size="20" font-weight="bold" text-anchor="start" fill="#111" >(e)</text><rect x="499.70" y="425.20" width="180.30" height="150.40" fill="url(#plotBg)"/><rect x="511.40" y="481.75" width="23.20" height="93.85" fill="url(#bar_r)"/><path d="M523.00 474.50V490.00M521.00 474.50H525.00M521.00 490.00H525.00" stroke="#e85a60" stroke-width="1" fill="none"/><rect x="556.70" y="523.86" width="22.50" height="51.74" fill="url(#bar_y)"/><path d="M567.95 519.20V529.30M565.95 519.20H569.95M565.95 529.30H569.95" stroke="#ec9848" stroke-width="1" fill="none"/><rect x="601.00" y="546.12" width="22.60" height="29.48" fill="url(#bar_b)"/><path d="M612.30 544.40V548.80M610.30 544.40H614.30M610.30 548.80H614.30" stroke="#4a7cc0" stroke-width="1" fill="none"/><rect x="646.40" y="447.46" width="22.50" height="128.14" fill="url(#bar_g)"/><path d="M657.65 439.60V455.40M655.65 439.60H659.65M655.65 455.40H659.65" stroke="#78b840" stroke-width="1" fill="none"/><rect x="499.70" y="425.20" width="180.30" height="150.40" fill="none" stroke="#2a2a2a" stroke-width="1.5"/><line x1="497.40" y1="575.60" x2="499.70" y2="575.60" stroke="#2a2a2a" stroke-width="1.1"/><text x="495.60" y="579.50" font-size="11" font-weight="bold" text-anchor="end" fill="#111" >0</text><line x1="497.40" y1="545.52" x2="499.70" y2="545.52" stroke="#2a2a2a" stroke-width="1.1"/><text x="495.60" y="549.42" font-size="11" font-weight="bold" text-anchor="end" fill="#111" >5</text><line x1="497.40" y1="515.44" x2="499.70" y2="515.44" stroke="#2a2a2a" stroke-width="1.1"/><text x="495.60" y="519.34" font-size="11" font-weight="bold" text-anchor="end" fill="#111" >10</text><line x1="497.40" y1="485.36" x2="499.70" y2="485.36" stroke="#2a2a2a" stroke-width="1.1"/><text x="495.60" y="489.26" font-size="11" font-weight="bold" text-anchor="end" fill="#111" >15</text><line x1="497.40" y1="455.28" x2="499.70" y2="455.28" stroke="#2a2a2a" stroke-width="1.1"/><text x="495.60" y="459.18" font-size="11" font-weight="bold" text-anchor="end" fill="#111" >20</text><line x1="497.40" y1="425.20" x2="499.70" y2="425.20" stroke="#2a2a2a" stroke-width="1.1"/><text x="495.60" y="429.10" font-size="11" font-weight="bold" text-anchor="end" fill="#111" >25</text><text x="587.70" y="441.20" font-size="13.2" font-weight="bold" text-anchor="middle" fill="#111" >Wet-rubbing</text><text transform="translate(474.20,495.60) rotate(-90)" x="0" y="4.76" font-size="13.3" font-weight="bold" text-anchor="middle" fill="#111">&#916;E Value</text><text x="588.00" y="592.60" font-size="13" font-weight="bold" text-anchor="middle" fill="#111" >Different samples</text><text transform="translate(524.10,528.10) rotate(-90)" x="0" y="3.94" font-size="11" font-weight="bold" text-anchor="middle" fill="#111">COS-E-AI</text><text transform="translate(568.00,551.50) rotate(-90)" x="0" y="3.94" font-size="11" font-weight="bold" text-anchor="middle" fill="#111">COS-T-AI</text><text transform="translate(632.00,550.30) rotate(-90)" x="0" y="3.94" font-size="11" font-weight="bold" text-anchor="middle" fill="#111">COS-R-AI</text><text transform="translate(657.60,513.80) rotate(-90)" x="0" y="3.94" font-size="11" font-weight="bold" text-anchor="middle" fill="#111">TWS</text><text x="463.00" y="607.10" font-size="20" font-weight="bold" text-anchor="start" fill="#111" >(h)</text><rect x="502.00" y="616.50" width="181.80" height="152.70" fill="url(#plotBg)"/><rect x="513.30" y="652.77" width="22.80" height="116.43" fill="url(#bar_r)"/><path d="M524.70 645.50V660.30M522.70 645.50H526.70M522.70 660.30H526.70" stroke="#e85a60" stroke-width="1" fill="none"/><rect x="558.80" y="740.57" width="23.00" height="28.63" fill="url(#bar_y)"/><path d="M570.30 737.00V744.50M568.30 737.00H572.30M568.30 744.50H572.30" stroke="#ec9848" stroke-width="1" fill="none"/><rect x="604.00" y="693.80" width="22.80" height="75.40" fill="url(#bar_b)"/><path d="M615.40 691.80V695.40M613.40 691.80H617.40M613.40 695.40H617.40" stroke="#4a7cc0" stroke-width="1" fill="none"/><rect x="649.00" y="632.72" width="23.10" height="136.48" fill="url(#bar_g)"/><path d="M660.55 629.60V635.60M658.55 629.60H662.55M658.55 635.60H662.55" stroke="#78b840" stroke-width="1" fill="none"/><rect x="502.00" y="616.50" width="181.80" height="152.70" fill="none" stroke="#2a2a2a" stroke-width="1.5"/><line x1="499.50" y1="769.20" x2="502.00" y2="769.20" stroke="#2a2a2a" stroke-width="1.1"/><text x="497.00" y="773.10" font-size="11" font-weight="bold" text-anchor="end" fill="#111" >0.0</text><line x1="499.50" y1="750.11" x2="502.00" y2="750.11" stroke="#2a2a2a" stroke-width="1.1"/><text x="497.00" y="754.01" font-size="11" font-weight="bold" text-anchor="end" fill="#111" >0.2</text><line x1="499.50" y1="731.03" x2="502.00" y2="731.03" stroke="#2a2a2a" stroke-width="1.1"/><text x="497.00" y="734.93" font-size="11" font-weight="bold" text-anchor="end" fill="#111" >0.4</text><line x1="499.50" y1="711.94" x2="502.00" y2="711.94" stroke="#2a2a2a" stroke-width="1.1"/><text x="497.00" y="715.84" font-size="11" font-weight="bold" text-anchor="end" fill="#111" >0.6</text><line x1="499.50" y1="692.85" x2="502.00" y2="692.85" stroke="#2a2a2a" stroke-width="1.1"/><text x="497.00" y="696.75" font-size="11" font-weight="bold" text-anchor="end" fill="#111" >0.8</text><line x1="499.50" y1="673.76" x2="502.00" y2="673.76" stroke="#2a2a2a" stroke-width="1.1"/><text x="497.00" y="677.66" font-size="11" font-weight="bold" text-anchor="end" fill="#111" >1.0</text><line x1="499.50" y1="654.67" x2="502.00" y2="654.67" stroke="#2a2a2a" stroke-width="1.1"/><text x="497.00" y="658.57" font-size="11" font-weight="bold" text-anchor="end" fill="#111" >1.2</text><line x1="499.50" y1="635.59" x2="502.00" y2="635.59" stroke="#2a2a2a" stroke-width="1.1"/><text x="497.00" y="639.49" font-size="11" font-weight="bold" text-anchor="end" fill="#111" >1.4</text><line x1="499.50" y1="616.50" x2="502.00" y2="616.50" stroke="#2a2a2a" stroke-width="1.1"/><text x="497.00" y="620.40" font-size="11" font-weight="bold" text-anchor="end" fill="#111" >1.6</text><text transform="translate(471.80,693.30) rotate(-90)" x="0" y="4.80" font-size="13.4" font-weight="bold" text-anchor="middle" fill="#111">STDEVP of &#160;&#916;E</text><text x="592.40" y="795.60" font-size="13" font-weight="bold" text-anchor="middle" fill="#111" >Different samples</text><text transform="translate(524.30,712.50) rotate(-90)" x="0" y="3.94" font-size="11" font-weight="bold" text-anchor="middle" fill="#111">COS-E-AI</text><text transform="translate(570.50,708.60) rotate(-90)" x="0" y="3.94" font-size="11" font-weight="bold" text-anchor="middle" fill="#111">COS-T-AI</text><text transform="translate(614.80,736.20) rotate(-90)" x="0" y="3.94" font-size="11" font-weight="bold" text-anchor="middle" fill="#111">COS-R-AI</text><text transform="translate(660.60,696.30) rotate(-90)" x="0" y="3.94" font-size="11" font-weight="bold" text-anchor="middle" fill="#111">TWS</text><text x="13.00" y="606.20" font-size="20" font-weight="bold" text-anchor="start" fill="#111" >(f)</text><rect x="41.80" y="615.70" width="179.10" height="150.80" fill="url(#plotBg)"/><g clip-path="url(#fclip)"><path d="M41.80 758.90C42.33 759.56 43.59 761.88 44.98 762.88C46.38 763.89 47.64 764.53 50.16 764.93C52.68 765.33 55.13 765.47 60.11 765.29C65.08 765.11 75.03 764.25 80.01 763.85C84.98 763.44 86.64 763.04 89.96 762.88C93.27 762.72 96.55 762.72 99.91 762.88C103.26 763.04 106.71 763.40 110.10 763.85C113.48 764.29 117.00 765.09 120.21 765.53C123.42 765.98 112.58 766.34 129.36 766.50C146.14 766.66 205.64 766.50 220.90 766.50" fill="none" stroke="#e4e84e" stroke-width="1.4" stroke-linejoin="round"/><path d="M41.80 736.34C42.53 738.75 44.45 747.40 46.18 750.82C47.90 754.23 49.83 755.24 52.15 756.85C54.47 758.46 57.45 759.50 60.11 760.47C62.76 761.43 64.75 762.24 68.07 762.64C71.38 763.04 76.36 762.88 80.01 762.88C83.66 762.88 86.67 762.80 89.96 762.64C93.24 762.48 96.92 762.78 99.71 761.92C102.50 761.05 104.58 759.40 106.71 757.45C108.84 755.50 110.53 752.83 112.48 750.21C114.44 747.60 116.66 744.68 118.42 741.77C120.17 738.85 121.73 735.23 122.99 732.72C124.25 730.21 125.09 728.00 125.98 726.69C126.86 725.38 127.42 724.80 128.29 724.88C129.15 724.96 130.12 725.50 131.19 727.17C132.26 728.84 133.53 731.84 134.69 734.89C135.86 737.95 137.03 741.99 138.20 745.51C139.36 749.03 140.53 753.27 141.70 756.00C142.87 758.74 144.03 760.49 145.20 761.92C146.37 763.34 147.54 763.93 148.70 764.57C149.87 765.21 150.79 765.45 152.21 765.78C153.62 766.10 145.77 766.38 157.22 766.50C168.67 766.62 210.29 766.50 220.90 766.50" fill="none" stroke="#e8545e" stroke-width="1.4" stroke-linejoin="round"/><path d="M41.80 733.93C42.33 735.74 43.79 741.97 44.98 744.78C46.18 747.60 47.13 749.21 48.96 750.82C50.80 752.43 53.50 753.43 56.01 754.44C58.52 755.44 61.34 756.19 64.01 756.85C66.68 757.51 69.38 757.91 72.05 758.42C74.71 758.92 77.35 759.42 80.01 759.86C82.66 760.31 85.47 760.73 87.97 761.07C90.47 761.41 91.89 761.75 95.01 761.92C98.14 762.08 102.81 762.24 106.71 762.04C110.61 761.84 114.53 761.47 118.42 760.71C122.30 759.95 126.12 758.44 130.00 757.45C133.88 756.47 138.77 755.56 141.70 754.80C144.63 754.03 145.64 753.43 147.59 752.87C149.54 752.30 151.79 751.76 153.40 751.42C155.00 751.08 155.27 750.82 157.22 750.82C159.17 750.82 162.45 751.16 165.10 751.42C167.75 751.68 170.67 751.58 173.14 752.39C175.61 753.19 177.58 754.64 179.91 756.25C182.23 757.85 184.62 760.57 187.07 762.04C189.52 763.50 191.71 764.45 194.63 765.05C197.55 765.66 200.20 765.47 204.58 765.66C208.96 765.84 218.18 766.06 220.90 766.14" fill="none" stroke="#3e72b8" stroke-width="1.4" stroke-linejoin="round"/><path d="M41.80 752.02C42.66 753.03 45.28 757.65 46.97 758.06C48.67 758.46 50.15 756.25 51.99 754.44C53.83 752.63 56.00 750.82 58.00 747.20C60.00 743.58 62.00 739.15 64.01 732.72C66.02 726.29 68.05 716.64 70.06 708.59C72.06 700.55 74.04 692.11 76.03 684.46C78.02 676.82 80.01 668.78 82.00 662.75C83.99 656.72 86.24 651.19 87.97 648.27C89.69 645.36 90.69 645.06 92.35 645.26C94.00 645.46 95.96 645.36 97.92 649.48C99.87 653.60 102.06 661.14 104.09 669.99C106.12 678.83 108.25 691.70 110.10 702.56C111.95 713.42 113.68 726.49 115.19 735.13C116.70 743.78 117.67 749.47 119.17 754.44C120.67 759.40 122.36 762.92 124.19 764.93C126.02 766.94 114.04 766.24 130.16 766.50C146.28 766.76 205.78 766.50 220.90 766.50" fill="none" stroke="#4cbc5c" stroke-width="1.4" stroke-linejoin="round"/></g><rect x="41.80" y="615.70" width="179.10" height="150.80" fill="none" stroke="#2a2a2a" stroke-width="1.5"/><line x1="38.80" y1="766.50" x2="41.80" y2="766.50" stroke="#2a2a2a" stroke-width="1.1"/><text x="36.20" y="770.40" font-size="11" font-weight="bold" text-anchor="end" fill="#111" >0.00</text><line x1="38.80" y1="736.34" x2="41.80" y2="736.34" stroke="#2a2a2a" stroke-width="1.1"/><text x="36.20" y="740.24" font-size="11" font-weight="bold" text-anchor="end" fill="#111" >0.25</text><line x1="38.80" y1="706.18" x2="41.80" y2="706.18" stroke="#2a2a2a" stroke-width="1.1"/><text x="36.20" y="710.08" font-size="11" font-weight="bold" text-anchor="end" fill="#111" >0.50</text><line x1="38.80" y1="676.02" x2="41.80" y2="676.02" stroke="#2a2a2a" stroke-width="1.1"/><text x="36.20" y="679.92" font-size="11" font-weight="bold" text-anchor="end" fill="#111" >0.75</text><line x1="38.80" y1="645.86" x2="41.80" y2="645.86" stroke="#2a2a2a" stroke-width="1.1"/><text x="36.20" y="649.76" font-size="11" font-weight="bold" text-anchor="end" fill="#111" >1.00</text><line x1="38.80" y1="615.70" x2="41.80" y2="615.70" stroke="#2a2a2a" stroke-width="1.1"/><text x="36.20" y="619.60" font-size="11" font-weight="bold" text-anchor="end" fill="#111" >1.25</text><line x1="41.80" y1="766.50" x2="41.80" y2="769.50" stroke="#2a2a2a" stroke-width="1.1"/><text x="41.80" y="780.50" font-size="11" font-weight="bold" text-anchor="middle" fill="#111" >300</text><line x1="81.60" y1="766.50" x2="81.60" y2="769.50" stroke="#2a2a2a" stroke-width="1.1"/><text x="81.60" y="780.50" font-size="11" font-weight="bold" text-anchor="middle" fill="#111" >400</text><line x1="121.40" y1="766.50" x2="121.40" y2="769.50" stroke="#2a2a2a" stroke-width="1.1"/><text x="121.40" y="780.50" font-size="11" font-weight="bold" text-anchor="middle" fill="#111" >500</text><line x1="161.20" y1="766.50" x2="161.20" y2="769.50" stroke="#2a2a2a" stroke-width="1.1"/><text x="161.20" y="780.50" font-size="11" font-weight="bold" text-anchor="middle" fill="#111" >600</text><line x1="201.00" y1="766.50" x2="201.00" y2="769.50" stroke="#2a2a2a" stroke-width="1.1"/><text x="201.00" y="780.50" font-size="11" font-weight="bold" text-anchor="middle" fill="#111" >700</text><line x1="61.70" y1="766.50" x2="61.70" y2="768.10" stroke="#2a2a2a" stroke-width="1"/><line x1="101.50" y1="766.50" x2="101.50" y2="768.10" stroke="#2a2a2a" stroke-width="1"/><line x1="141.30" y1="766.50" x2="141.30" y2="768.10" stroke="#2a2a2a" stroke-width="1"/><line x1="181.10" y1="766.50" x2="181.10" y2="768.10" stroke="#2a2a2a" stroke-width="1"/><line x1="220.90" y1="766.50" x2="220.90" y2="768.10" stroke="#2a2a2a" stroke-width="1"/><line x1="125.7" y1="624.40" x2="155.3" y2="624.40" stroke="#e8545e" stroke-width="1.4"/><text x="159.80" y="629.10" font-size="12.8" font-weight="bold" text-anchor="start" fill="#111" >COS-E-AI</text><line x1="125.7" y1="640.80" x2="155.3" y2="640.80" stroke="#e4e84e" stroke-width="1.4"/><text x="159.80" y="645.50" font-size="12.8" font-weight="bold" text-anchor="start" fill="#111" >COS-T-AI</text><line x1="125.7" y1="657.20" x2="155.3" y2="657.20" stroke="#3e72b8" stroke-width="1.4"/><text x="159.80" y="661.90" font-size="12.8" font-weight="bold" text-anchor="start" fill="#111" >COS-R-AI</text><line x1="125.7" y1="673.60" x2="155.3" y2="673.60" stroke="#4cbc5c" stroke-width="1.4"/><text x="159.80" y="678.30" font-size="12.8" font-weight="bold" text-anchor="start" fill="#111" >TWS</text><text transform="translate(6.70,688.20) rotate(-90)" x="0" y="4.65" font-size="13" font-weight="bold" text-anchor="middle" fill="#111">Abs</text><text x="133.00" y="795.20" font-size="13" font-weight="bold" text-anchor="middle" fill="#111" >Wavelength (nm)</text><text x="240.20" y="607.90" font-size="20" font-weight="bold" text-anchor="start" fill="#111" >(g)</text><rect x="268.40" y="616.50" width="178.60" height="149.90" fill="url(#plotBg)"/><polyline points="272.86,739.95 277.33,736.42 281.79,730.25 286.26,723.19 290.72,717.02 295.19,713.49 299.65,711.73 304.12,711.29 308.58,712.61 313.05,715.26 317.51,719.23 321.98,726.72 326.44,734.66 330.91,743.47 335.38,750.09 339.84,754.94 344.31,756.97 348.77,757.58 353.24,757.58 357.70,757.58 362.16,757.58 366.63,757.58 371.10,757.58 375.56,757.58 380.02,757.58 384.49,757.58 388.95,757.58 393.42,757.58 397.88,757.58 402.35,757.58 406.81,757.58 411.28,757.58 415.75,757.58 420.21,757.58 424.67,757.58 429.14,757.58 433.61,757.58 438.07,757.58 442.54,757.58 447.00,757.58" fill="none" stroke="#e6ea6a" stroke-width="1.1" stroke-linejoin="round"/><path d="M272.86 737.55L275.06 741.55L270.66 741.55Z" fill="#e6ea6a"/><path d="M277.33 734.02L279.53 738.02L275.13 738.02Z" fill="#e6ea6a"/><path d="M281.79 727.85L283.99 731.85L279.59 731.85Z" fill="#e6ea6a"/><path d="M286.26 720.79L288.46 724.79L284.06 724.79Z" fill="#e6ea6a"/><path d="M290.72 714.62L292.92 718.62L288.52 718.62Z" fill="#e6ea6a"/><path d="M295.19 711.09L297.39 715.09L292.99 715.09Z" fill="#e6ea6a"/><path d="M299.65 709.33L301.85 713.33L297.45 713.33Z" fill="#e6ea6a"/><path d="M304.12 708.89L306.32 712.89L301.92 712.89Z" fill="#e6ea6a"/><path d="M308.58 710.21L310.78 714.21L306.38 714.21Z" fill="#e6ea6a"/><path d="M313.05 712.86L315.25 716.86L310.85 716.86Z" fill="#e6ea6a"/><path d="M317.51 716.83L319.71 720.83L315.31 720.83Z" fill="#e6ea6a"/><path d="M321.98 724.32L324.18 728.32L319.78 728.32Z" fill="#e6ea6a"/><path d="M326.44 732.26L328.64 736.26L324.25 736.26Z" fill="#e6ea6a"/><path d="M330.91 741.07L333.11 745.07L328.71 745.07Z" fill="#e6ea6a"/><path d="M335.38 747.69L337.57 751.69L333.18 751.69Z" fill="#e6ea6a"/><path d="M339.84 752.54L342.04 756.54L337.64 756.54Z" fill="#e6ea6a"/><path d="M344.31 754.57L346.50 758.57L342.11 758.57Z" fill="#e6ea6a"/><path d="M348.77 755.18L350.97 759.18L346.57 759.18Z" fill="#e6ea6a"/><path d="M353.24 755.18L355.44 759.18L351.04 759.18Z" fill="#e6ea6a"/><path d="M357.70 755.18L359.90 759.18L355.50 759.18Z" fill="#e6ea6a"/><path d="M362.16 755.18L364.36 759.18L359.96 759.18Z" fill="#e6ea6a"/><path d="M366.63 755.18L368.83 759.18L364.43 759.18Z" fill="#e6ea6a"/><path d="M371.10 755.18L373.30 759.18L368.90 759.18Z" fill="#e6ea6a"/><path d="M375.56 755.18L377.76 759.18L373.36 759.18Z" fill="#e6ea6a"/><path d="M380.02 755.18L382.22 759.18L377.82 759.18Z" fill="#e6ea6a"/><path d="M384.49 755.18L386.69 759.18L382.29 759.18Z" fill="#e6ea6a"/><path d="M388.95 755.18L391.15 759.18L386.75 759.18Z" fill="#e6ea6a"/><path d="M393.42 755.18L395.62 759.18L391.22 759.18Z" fill="#e6ea6a"/><path d="M397.88 755.18L400.08 759.18L395.69 759.18Z" fill="#e6ea6a"/><path d="M402.35 755.18L404.55 759.18L400.15 759.18Z" fill="#e6ea6a"/><path d="M406.81 755.18L409.01 759.18L404.62 759.18Z" fill="#e6ea6a"/><path d="M411.28 755.18L413.48 759.18L409.08 759.18Z" fill="#e6ea6a"/><path d="M415.75 755.18L417.94 759.18L413.55 759.18Z" fill="#e6ea6a"/><path d="M420.21 755.18L422.41 759.18L418.01 759.18Z" fill="#e6ea6a"/><path d="M424.67 755.18L426.87 759.18L422.47 759.18Z" fill="#e6ea6a"/><path d="M429.14 755.18L431.34 759.18L426.94 759.18Z" fill="#e6ea6a"/><path d="M433.61 755.18L435.81 759.18L431.41 759.18Z" fill="#e6ea6a"/><path d="M438.07 755.18L440.27 759.18L435.87 759.18Z" fill="#e6ea6a"/><path d="M442.54 755.18L444.74 759.18L440.34 759.18Z" fill="#e6ea6a"/><path d="M447.00 755.18L449.20 759.18L444.80 759.18Z" fill="#e6ea6a"/><polyline points="272.86,730.25 277.33,728.04 281.79,725.40 286.26,722.31 290.72,720.11 295.19,718.34 299.65,717.02 304.12,716.14 308.58,717.02 313.05,718.34 317.51,720.55 321.98,724.08 326.44,728.48 330.91,733.77 335.38,739.51 339.84,743.03 344.31,743.91 348.77,742.59 353.24,740.39 357.70,738.18 362.16,735.54 366.63,733.77 371.10,731.57 375.56,729.81 380.02,729.81 384.49,729.81 388.95,729.81 393.42,730.25 397.88,732.01 402.35,736.42 406.81,739.95 411.28,743.91 415.75,748.15 420.21,751.41 424.67,753.70 429.14,754.94 433.61,756.26 438.07,756.97 442.54,757.32 447.00,757.58" fill="none" stroke="#6cb43c" stroke-width="1.1" stroke-linejoin="round"/><polygon points="272.86,727.75 273.48,729.40 275.24,729.48 273.86,730.57 274.33,732.27 272.86,731.30 271.40,732.27 271.87,730.57 270.49,729.48 272.25,729.40" fill="#6cb43c"/><polygon points="277.33,725.54 277.95,727.19 279.71,727.27 278.33,728.37 278.80,730.07 277.33,729.09 275.86,730.07 276.33,728.37 274.95,727.27 276.71,727.19" fill="#6cb43c"/><polygon points="281.79,722.90 282.41,724.55 284.17,724.63 282.79,725.72 283.26,727.42 281.79,726.45 280.33,727.42 280.80,725.72 279.42,724.63 281.18,724.55" fill="#6cb43c"/><polygon points="286.26,719.81 286.88,721.46 288.64,721.54 287.26,722.64 287.73,724.33 286.26,723.36 284.79,724.33 285.26,722.64 283.88,721.54 285.64,721.46" fill="#6cb43c"/><polygon points="290.72,717.61 291.34,719.26 293.10,719.33 291.72,720.43 292.19,722.13 290.72,721.16 289.26,722.13 289.73,720.43 288.35,719.33 290.11,719.26" fill="#6cb43c"/><polygon points="295.19,715.84 295.81,717.49 297.57,717.57 296.19,718.67 296.66,720.37 295.19,719.39 293.72,720.37 294.19,718.67 292.81,717.57 294.57,717.49" fill="#6cb43c"/><polygon points="299.65,714.52 300.27,716.17 302.03,716.25 300.65,717.35 301.12,719.04 299.65,718.07 298.19,719.04 298.66,717.35 297.28,716.25 299.04,716.17" fill="#6cb43c"/><polygon points="304.12,713.64 304.74,715.29 306.50,715.37 305.12,716.46 305.59,718.16 304.12,717.19 302.65,718.16 303.12,716.46 301.74,715.37 303.50,715.29" fill="#6cb43c"/><polygon points="308.58,714.52 309.20,716.17 310.96,716.25 309.58,717.35 310.05,719.04 308.58,718.07 307.12,719.04 307.59,717.35 306.21,716.25 307.97,716.17" fill="#6cb43c"/><polygon points="313.05,715.84 313.67,717.49 315.43,717.57 314.05,718.67 314.52,720.37 313.05,719.39 311.58,720.37 312.05,718.67 310.67,717.57 312.43,717.49" fill="#6cb43c"/><polygon points="317.51,718.05 318.13,719.70 319.89,719.78 318.51,720.87 318.98,722.57 317.51,721.60 316.05,722.57 316.52,720.87 315.14,719.78 316.90,719.70" fill="#6cb43c"/><polygon points="321.98,721.58 322.60,723.23 324.36,723.30 322.98,724.40 323.45,726.10 321.98,725.13 320.51,726.10 320.98,724.40 319.60,723.30 321.36,723.23" fill="#6cb43c"/><polygon points="326.44,725.98 327.06,727.63 328.82,727.71 327.44,728.81 327.91,730.51 326.44,729.53 324.98,730.51 325.45,728.81 324.07,727.71 325.83,727.63" fill="#6cb43c"/><polygon points="330.91,731.27 331.53,732.93 333.29,733.00 331.91,734.10 332.38,735.80 330.91,734.82 329.44,735.80 329.91,734.10 328.53,733.00 330.29,732.93" fill="#6cb43c"/><polygon points="335.38,737.01 335.99,738.66 337.75,738.73 336.37,739.83 336.84,741.53 335.38,740.56 333.91,741.53 334.38,739.83 333.00,738.73 334.76,738.66" fill="#6cb43c"/><polygon points="339.84,740.53 340.46,742.18 342.22,742.26 340.84,743.36 341.31,745.06 339.84,744.08 338.37,745.06 338.84,743.36 337.46,742.26 339.22,742.18" fill="#6cb43c"/><polygon points="344.31,741.41 344.92,743.07 346.68,743.14 345.30,744.24 345.77,745.94 344.31,744.96 342.84,745.94 343.31,744.24 341.93,743.14 343.69,743.07" fill="#6cb43c"/><polygon points="348.77,740.09 349.39,741.74 351.15,741.82 349.77,742.92 350.24,744.61 348.77,743.64 347.30,744.61 347.77,742.92 346.39,741.82 348.15,741.74" fill="#6cb43c"/><polygon points="353.24,737.89 353.85,739.54 355.61,739.62 354.23,740.71 354.70,742.41 353.24,741.44 351.77,742.41 352.24,740.71 350.86,739.62 352.62,739.54" fill="#6cb43c"/><polygon points="357.70,735.68 358.32,737.33 360.08,737.41 358.70,738.51 359.17,740.21 357.70,739.23 356.23,740.21 356.70,738.51 355.32,737.41 357.08,737.33" fill="#6cb43c"/><polygon points="362.16,733.04 362.78,734.69 364.54,734.77 363.16,735.86 363.63,737.56 362.16,736.59 360.70,737.56 361.17,735.86 359.79,734.77 361.55,734.69" fill="#6cb43c"/><polygon points="366.63,731.27 367.25,732.93 369.01,733.00 367.63,734.10 368.10,735.80 366.63,734.82 365.16,735.80 365.63,734.10 364.25,733.00 366.01,732.93" fill="#6cb43c"/><polygon points="371.10,729.07 371.71,730.72 373.47,730.80 372.09,731.89 372.56,733.59 371.10,732.62 369.63,733.59 370.10,731.89 368.72,730.80 370.48,730.72" fill="#6cb43c"/><polygon points="375.56,727.31 376.18,728.96 377.94,729.03 376.56,730.13 377.03,731.83 375.56,730.86 374.09,731.83 374.56,730.13 373.18,729.03 374.94,728.96" fill="#6cb43c"/><polygon points="380.02,727.31 380.64,728.96 382.40,729.03 381.02,730.13 381.49,731.83 380.02,730.86 378.56,731.83 379.03,730.13 377.65,729.03 379.41,728.96" fill="#6cb43c"/><polygon points="384.49,727.31 385.11,728.96 386.87,729.03 385.49,730.13 385.96,731.83 384.49,730.86 383.02,731.83 383.49,730.13 382.11,729.03 383.87,728.96" fill="#6cb43c"/><polygon points="388.95,727.31 389.57,728.96 391.33,729.03 389.95,730.13 390.42,731.83 388.95,730.86 387.49,731.83 387.96,730.13 386.58,729.03 388.34,728.96" fill="#6cb43c"/><polygon points="393.42,727.75 394.04,729.40 395.80,729.48 394.42,730.57 394.89,732.27 393.42,731.30 391.95,732.27 392.42,730.57 391.04,729.48 392.80,729.40" fill="#6cb43c"/><polygon points="397.88,729.51 398.50,731.16 400.26,731.24 398.88,732.34 399.35,734.03 397.88,733.06 396.42,734.03 396.89,732.34 395.51,731.24 397.27,731.16" fill="#6cb43c"/><polygon points="402.35,733.92 402.97,735.57 404.73,735.65 403.35,736.74 403.82,738.44 402.35,737.47 400.88,738.44 401.35,736.74 399.97,735.65 401.73,735.57" fill="#6cb43c"/><polygon points="406.81,737.45 407.43,739.10 409.19,739.17 407.81,740.27 408.28,741.97 406.81,741.00 405.35,741.97 405.82,740.27 404.44,739.17 406.20,739.10" fill="#6cb43c"/><polygon points="411.28,741.41 411.90,743.07 413.66,743.14 412.28,744.24 412.75,745.94 411.28,744.96 409.81,745.94 410.28,744.24 408.90,743.14 410.66,743.07" fill="#6cb43c"/><polygon points="415.75,745.65 416.36,747.30 418.12,747.37 416.74,748.47 417.21,750.17 415.75,749.20 414.28,750.17 414.75,748.47 413.37,747.37 415.13,747.30" fill="#6cb43c"/><polygon points="420.21,748.91 420.83,750.56 422.59,750.64 421.21,751.73 421.68,753.43 420.21,752.46 418.74,753.43 419.21,751.73 417.83,750.64 419.59,750.56" fill="#6cb43c"/><polygon points="424.67,751.20 425.29,752.85 427.05,752.93 425.67,754.03 426.14,755.73 424.67,754.75 423.21,755.73 423.68,754.03 422.30,752.93 424.06,752.85" fill="#6cb43c"/><polygon points="429.14,752.44 429.76,754.09 431.52,754.16 430.14,755.26 430.61,756.96 429.14,755.99 427.67,756.96 428.14,755.26 426.76,754.16 428.52,754.09" fill="#6cb43c"/><polygon points="433.61,753.76 434.22,755.41 435.98,755.49 434.60,756.58 435.07,758.28 433.61,757.31 432.14,758.28 432.61,756.58 431.23,755.49 432.99,755.41" fill="#6cb43c"/><polygon points="438.07,754.47 438.69,756.12 440.45,756.19 439.07,757.29 439.54,758.99 438.07,758.02 436.60,758.99 437.07,757.29 435.69,756.19 437.45,756.12" fill="#6cb43c"/><polygon points="442.54,754.82 443.15,756.47 444.91,756.55 443.53,757.64 444.00,759.34 442.54,758.37 441.07,759.34 441.54,757.64 440.16,756.55 441.92,756.47" fill="#6cb43c"/><polygon points="447.00,755.08 447.62,756.73 449.38,756.81 448.00,757.91 448.47,759.60 447.00,758.63 445.53,759.60 446.00,757.91 444.62,756.81 446.38,756.73" fill="#6cb43c"/><polyline points="272.86,739.95 277.33,740.83 281.79,738.18 286.26,733.77 290.72,731.13 295.19,730.25 299.65,730.25 304.12,731.57 308.58,733.33 313.05,734.66 317.51,734.66 321.98,733.33 326.44,730.25 330.91,717.90 335.38,707.32 339.84,695.86 344.31,677.34 348.77,665.00 353.24,669.41 357.70,689.69 362.16,709.97 366.63,736.42 371.10,747.00 375.56,753.17 380.02,754.94 384.49,755.82 388.95,756.00 393.42,756.17 397.88,756.26 402.35,756.26 406.81,756.26 411.28,756.26 415.75,756.26 420.21,756.26 424.67,756.26 429.14,756.26 433.61,756.26 438.07,756.26 442.54,756.26 447.00,756.26" fill="none" stroke="#e8545e" stroke-width="1.1" stroke-linejoin="round"/><rect x="271.11" y="738.20" width="3.5" height="3.5" fill="#e8545e"/><rect x="275.58" y="739.08" width="3.5" height="3.5" fill="#e8545e"/><rect x="280.04" y="736.43" width="3.5" height="3.5" fill="#e8545e"/><rect x="284.51" y="732.02" width="3.5" height="3.5" fill="#e8545e"/><rect x="288.97" y="729.38" width="3.5" height="3.5" fill="#e8545e"/><rect x="293.44" y="728.50" width="3.5" height="3.5" fill="#e8545e"/><rect x="297.90" y="728.50" width="3.5" height="3.5" fill="#e8545e"/><rect x="302.37" y="729.82" width="3.5" height="3.5" fill="#e8545e"/><rect x="306.83" y="731.58" width="3.5" height="3.5" fill="#e8545e"/><rect x="311.30" y="732.91" width="3.5" height="3.5" fill="#e8545e"/><rect x="315.76" y="732.91" width="3.5" height="3.5" fill="#e8545e"/><rect x="320.23" y="731.58" width="3.5" height="3.5" fill="#e8545e"/><rect x="324.69" y="728.50" width="3.5" height="3.5" fill="#e8545e"/><rect x="329.16" y="716.15" width="3.5" height="3.5" fill="#e8545e"/><rect x="333.62" y="705.57" width="3.5" height="3.5" fill="#e8545e"/><rect x="338.09" y="694.11" width="3.5" height="3.5" fill="#e8545e"/><rect x="342.56" y="675.59" width="3.5" height="3.5" fill="#e8545e"/><rect x="347.02" y="663.25" width="3.5" height="3.5" fill="#e8545e"/><rect x="351.49" y="667.66" width="3.5" height="3.5" fill="#e8545e"/><rect x="355.95" y="687.94" width="3.5" height="3.5" fill="#e8545e"/><rect x="360.41" y="708.22" width="3.5" height="3.5" fill="#e8545e"/><rect x="364.88" y="734.67" width="3.5" height="3.5" fill="#e8545e"/><rect x="369.35" y="745.25" width="3.5" height="3.5" fill="#e8545e"/><rect x="373.81" y="751.42" width="3.5" height="3.5" fill="#e8545e"/><rect x="378.27" y="753.19" width="3.5" height="3.5" fill="#e8545e"/><rect x="382.89" y="755.12" width="3.2" height="1.4" fill="#e8545e" opacity="0.8"/><rect x="387.35" y="755.30" width="3.2" height="1.4" fill="#e8545e" opacity="0.8"/><rect x="391.82" y="755.47" width="3.2" height="1.4" fill="#e8545e" opacity="0.8"/><rect x="396.28" y="755.56" width="3.2" height="1.4" fill="#e8545e" opacity="0.8"/><rect x="400.75" y="755.56" width="3.2" height="1.4" fill="#e8545e" opacity="0.8"/><rect x="405.21" y="755.56" width="3.2" height="1.4" fill="#e8545e" opacity="0.8"/><rect x="409.68" y="755.56" width="3.2" height="1.4" fill="#e8545e" opacity="0.8"/><rect x="414.14" y="755.56" width="3.2" height="1.4" fill="#e8545e" opacity="0.8"/><rect x="418.61" y="755.56" width="3.2" height="1.4" fill="#e8545e" opacity="0.8"/><rect x="423.07" y="755.56" width="3.2" height="1.4" fill="#e8545e" opacity="0.8"/><rect x="427.54" y="755.56" width="3.2" height="1.4" fill="#e8545e" opacity="0.8"/><rect x="432.00" y="755.56" width="3.2" height="1.4" fill="#e8545e" opacity="0.8"/><rect x="436.47" y="755.56" width="3.2" height="1.4" fill="#e8545e" opacity="0.8"/><rect x="440.94" y="755.56" width="3.2" height="1.4" fill="#e8545e" opacity="0.8"/><rect x="445.40" y="755.56" width="3.2" height="1.4" fill="#e8545e" opacity="0.8"/><polyline points="272.86,729.37 277.33,732.01 281.79,733.77 286.26,736.42 290.72,740.30 295.19,744.36 299.65,747.88 304.12,750.70 308.58,752.29 313.05,752.73 317.51,752.12 321.98,751.06 326.44,749.65 330.91,747.44 335.38,744.36 339.84,740.39 344.31,735.54 348.77,730.25 353.24,724.08 357.70,717.02 362.16,709.09 366.63,702.03 371.10,694.10 375.56,688.36 380.02,688.80 384.49,689.69 388.95,689.69 393.42,689.69 397.88,694.98 402.35,706.44 406.81,721.43 411.28,734.66 415.75,744.36 420.21,750.09 424.67,753.17 429.14,754.76 433.61,755.38 438.07,755.82 442.54,755.82 447.00,755.82" fill="none" stroke="#3e70b6" stroke-width="1.1" stroke-linejoin="round"/><circle cx="272.86" cy="729.37" r="2.0" fill="#3e70b6"/><circle cx="277.33" cy="732.01" r="2.0" fill="#3e70b6"/><circle cx="281.79" cy="733.77" r="2.0" fill="#3e70b6"/><circle cx="286.26" cy="736.42" r="2.0" fill="#3e70b6"/><circle cx="290.72" cy="740.30" r="2.0" fill="#3e70b6"/><circle cx="295.19" cy="744.36" r="2.0" fill="#3e70b6"/><circle cx="299.65" cy="747.88" r="2.0" fill="#3e70b6"/><circle cx="304.12" cy="750.70" r="2.0" fill="#3e70b6"/><circle cx="308.58" cy="752.29" r="2.0" fill="#3e70b6"/><circle cx="313.05" cy="752.73" r="2.0" fill="#3e70b6"/><circle cx="317.51" cy="752.12" r="2.0" fill="#3e70b6"/><circle cx="321.98" cy="751.06" r="2.0" fill="#3e70b6"/><circle cx="326.44" cy="749.65" r="2.0" fill="#3e70b6"/><circle cx="330.91" cy="747.44" r="2.0" fill="#3e70b6"/><circle cx="335.38" cy="744.36" r="2.0" fill="#3e70b6"/><circle cx="339.84" cy="740.39" r="2.0" fill="#3e70b6"/><circle cx="344.31" cy="735.54" r="2.0" fill="#3e70b6"/><circle cx="348.77" cy="730.25" r="2.0" fill="#3e70b6"/><circle cx="353.24" cy="724.08" r="2.0" fill="#3e70b6"/><circle cx="357.70" cy="717.02" r="2.0" fill="#3e70b6"/><circle cx="362.16" cy="709.09" r="2.0" fill="#3e70b6"/><circle cx="366.63" cy="702.03" r="2.0" fill="#3e70b6"/><circle cx="371.10" cy="694.10" r="2.0" fill="#3e70b6"/><circle cx="375.56" cy="688.36" r="2.0" fill="#3e70b6"/><circle cx="380.02" cy="688.80" r="2.0" fill="#3e70b6"/><circle cx="384.49" cy="689.69" r="2.0" fill="#3e70b6"/><circle cx="388.95" cy="689.69" r="2.0" fill="#3e70b6"/><circle cx="393.42" cy="689.69" r="2.0" fill="#3e70b6"/><circle cx="397.88" cy="694.98" r="2.0" fill="#3e70b6"/><circle cx="402.35" cy="706.44" r="2.0" fill="#3e70b6"/><circle cx="406.81" cy="721.43" r="2.0" fill="#3e70b6"/><circle cx="411.28" cy="734.66" r="2.0" fill="#3e70b6"/><circle cx="415.75" cy="744.36" r="2.0" fill="#3e70b6"/><circle cx="420.21" cy="750.09" r="2.0" fill="#3e70b6"/><circle cx="424.67" cy="753.17" r="2.0" fill="#3e70b6"/><circle cx="429.14" cy="754.76" r="2.0" fill="#3e70b6"/><circle cx="433.61" cy="755.38" r="2.0" fill="#3e70b6"/><circle cx="438.07" cy="755.82" r="2.0" fill="#3e70b6"/><circle cx="442.54" cy="755.82" r="2.0" fill="#3e70b6"/><circle cx="447.00" cy="755.82" r="2.0" fill="#3e70b6"/><rect x="268.40" y="616.50" width="178.60" height="149.90" fill="none" stroke="#2a2a2a" stroke-width="1.5"/><line x1="265.40" y1="757.58" x2="268.40" y2="757.58" stroke="#2a2a2a" stroke-width="1.1"/><text x="262.80" y="761.48" font-size="11" font-weight="bold" text-anchor="end" fill="#111" >0</text><line x1="265.40" y1="739.95" x2="268.40" y2="739.95" stroke="#2a2a2a" stroke-width="1.1"/><text x="262.80" y="743.85" font-size="11" font-weight="bold" text-anchor="end" fill="#111" >2</text><line x1="265.40" y1="722.31" x2="268.40" y2="722.31" stroke="#2a2a2a" stroke-width="1.1"/><text x="262.80" y="726.21" font-size="11" font-weight="bold" text-anchor="end" fill="#111" >4</text><line x1="265.40" y1="704.68" x2="268.40" y2="704.68" stroke="#2a2a2a" stroke-width="1.1"/><text x="262.80" y="708.58" font-size="11" font-weight="bold" text-anchor="end" fill="#111" >6</text><line x1="265.40" y1="687.04" x2="268.40" y2="687.04" stroke="#2a2a2a" stroke-width="1.1"/><text x="262.80" y="690.94" font-size="11" font-weight="bold" text-anchor="end" fill="#111" >8</text><line x1="265.40" y1="669.41" x2="268.40" y2="669.41" stroke="#2a2a2a" stroke-width="1.1"/><text x="262.80" y="673.31" font-size="11" font-weight="bold" text-anchor="end" fill="#111" >10</text><line x1="265.40" y1="651.77" x2="268.40" y2="651.77" stroke="#2a2a2a" stroke-width="1.1"/><text x="262.80" y="655.67" font-size="11" font-weight="bold" text-anchor="end" fill="#111" >12</text><line x1="265.40" y1="634.14" x2="268.40" y2="634.14" stroke="#2a2a2a" stroke-width="1.1"/><text x="262.80" y="638.04" font-size="11" font-weight="bold" text-anchor="end" fill="#111" >14</text><line x1="265.40" y1="616.50" x2="268.40" y2="616.50" stroke="#2a2a2a" stroke-width="1.1"/><text x="262.80" y="620.40" font-size="11" font-weight="bold" text-anchor="end" fill="#111" >16</text><line x1="268.40" y1="766.40" x2="268.40" y2="769.40" stroke="#2a2a2a" stroke-width="1.1"/><text x="268.40" y="780.40" font-size="11" font-weight="bold" text-anchor="middle" fill="#111" >350</text><line x1="290.72" y1="766.40" x2="290.72" y2="769.40" stroke="#2a2a2a" stroke-width="1.1"/><text x="290.72" y="780.40" font-size="11" font-weight="bold" text-anchor="middle" fill="#111" >400</text><line x1="313.05" y1="766.40" x2="313.05" y2="769.40" stroke="#2a2a2a" stroke-width="1.1"/><text x="313.05" y="780.40" font-size="11" font-weight="bold" text-anchor="middle" fill="#111" >450</text><line x1="335.38" y1="766.40" x2="335.38" y2="769.40" stroke="#2a2a2a" stroke-width="1.1"/><text x="335.38" y="780.40" font-size="11" font-weight="bold" text-anchor="middle" fill="#111" >500</text><line x1="357.70" y1="766.40" x2="357.70" y2="769.40" stroke="#2a2a2a" stroke-width="1.1"/><text x="357.70" y="780.40" font-size="11" font-weight="bold" text-anchor="middle" fill="#111" >550</text><line x1="380.02" y1="766.40" x2="380.02" y2="769.40" stroke="#2a2a2a" stroke-width="1.1"/><text x="380.02" y="780.40" font-size="11" font-weight="bold" text-anchor="middle" fill="#111" >600</text><line x1="402.35" y1="766.40" x2="402.35" y2="769.40" stroke="#2a2a2a" stroke-width="1.1"/><text x="402.35" y="780.40" font-size="11" font-weight="bold" text-anchor="middle" fill="#111" >650</text><line x1="424.67" y1="766.40" x2="424.67" y2="769.40" stroke="#2a2a2a" stroke-width="1.1"/><text x="424.67" y="780.40" font-size="11" font-weight="bold" text-anchor="middle" fill="#111" >700</text><line x1="447.00" y1="766.40" x2="447.00" y2="769.40" stroke="#2a2a2a" stroke-width="1.1"/><text x="447.00" y="780.40" font-size="11" font-weight="bold" text-anchor="middle" fill="#111" >750</text><line x1="269.7" y1="623.50" x2="294.2" y2="623.50" stroke="#e8545e" stroke-width="1.2"/><rect x="279.65" y="621.75" width="3.5" height="3.5" fill="#e8545e"/><text x="297.70" y="627.50" font-size="11" font-weight="bold" text-anchor="start" fill="#111" >COS-E-AI</text><line x1="269.7" y1="637.50" x2="294.2" y2="637.50" stroke="#3e70b6" stroke-width="1.2"/><circle cx="281.40" cy="637.50" r="2.0" fill="#3e70b6"/><text x="297.70" y="641.50" font-size="11" font-weight="bold" text-anchor="start" fill="#111" >COS-R-AI</text><line x1="269.7" y1="651.50" x2="294.2" y2="651.50" stroke="#e6ea6a" stroke-width="1.2"/><path d="M281.40 649.10L283.60 653.10L279.20 653.10Z" fill="#e6ea6a"/><text x="297.70" y="655.50" font-size="11" font-weight="bold" text-anchor="start" fill="#111" >COS-T-AI</text><line x1="269.7" y1="665.50" x2="294.2" y2="665.50" stroke="#6cb43c" stroke-width="1.2"/><polygon points="281.40,663.00 282.02,664.65 283.78,664.73 282.40,665.82 282.87,667.52 281.40,666.55 279.93,667.52 280.40,665.82 279.02,664.73 280.78,664.65" fill="#6cb43c"/><text x="297.70" y="669.50" font-size="11" font-weight="bold" text-anchor="start" fill="#111" >TWS</text><text x="283.90" y="707.60" font-size="12.5" font-weight="bold" text-anchor="start" fill="#111" >5.2</text><text x="301.00" y="729.80" font-size="12.5" font-weight="bold" text-anchor="start" fill="#111" >4.7</text><text x="353.80" y="662.70" font-size="12.5" font-weight="bold" text-anchor="start" fill="#111" >10.5</text><text x="376.00" y="682.10" font-size="12.5" font-weight="bold" text-anchor="start" fill="#111" >7.9</text><text transform="translate(245.50,695.30) rotate(-90)" x="0" y="4.65" font-size="13" font-weight="bold" text-anchor="middle" fill="#111">K/S</text><text x="357.50" y="794.50" font-size="13" font-weight="bold" text-anchor="middle" fill="#111" >Wavelength (nm)</text></svg></body></html>
